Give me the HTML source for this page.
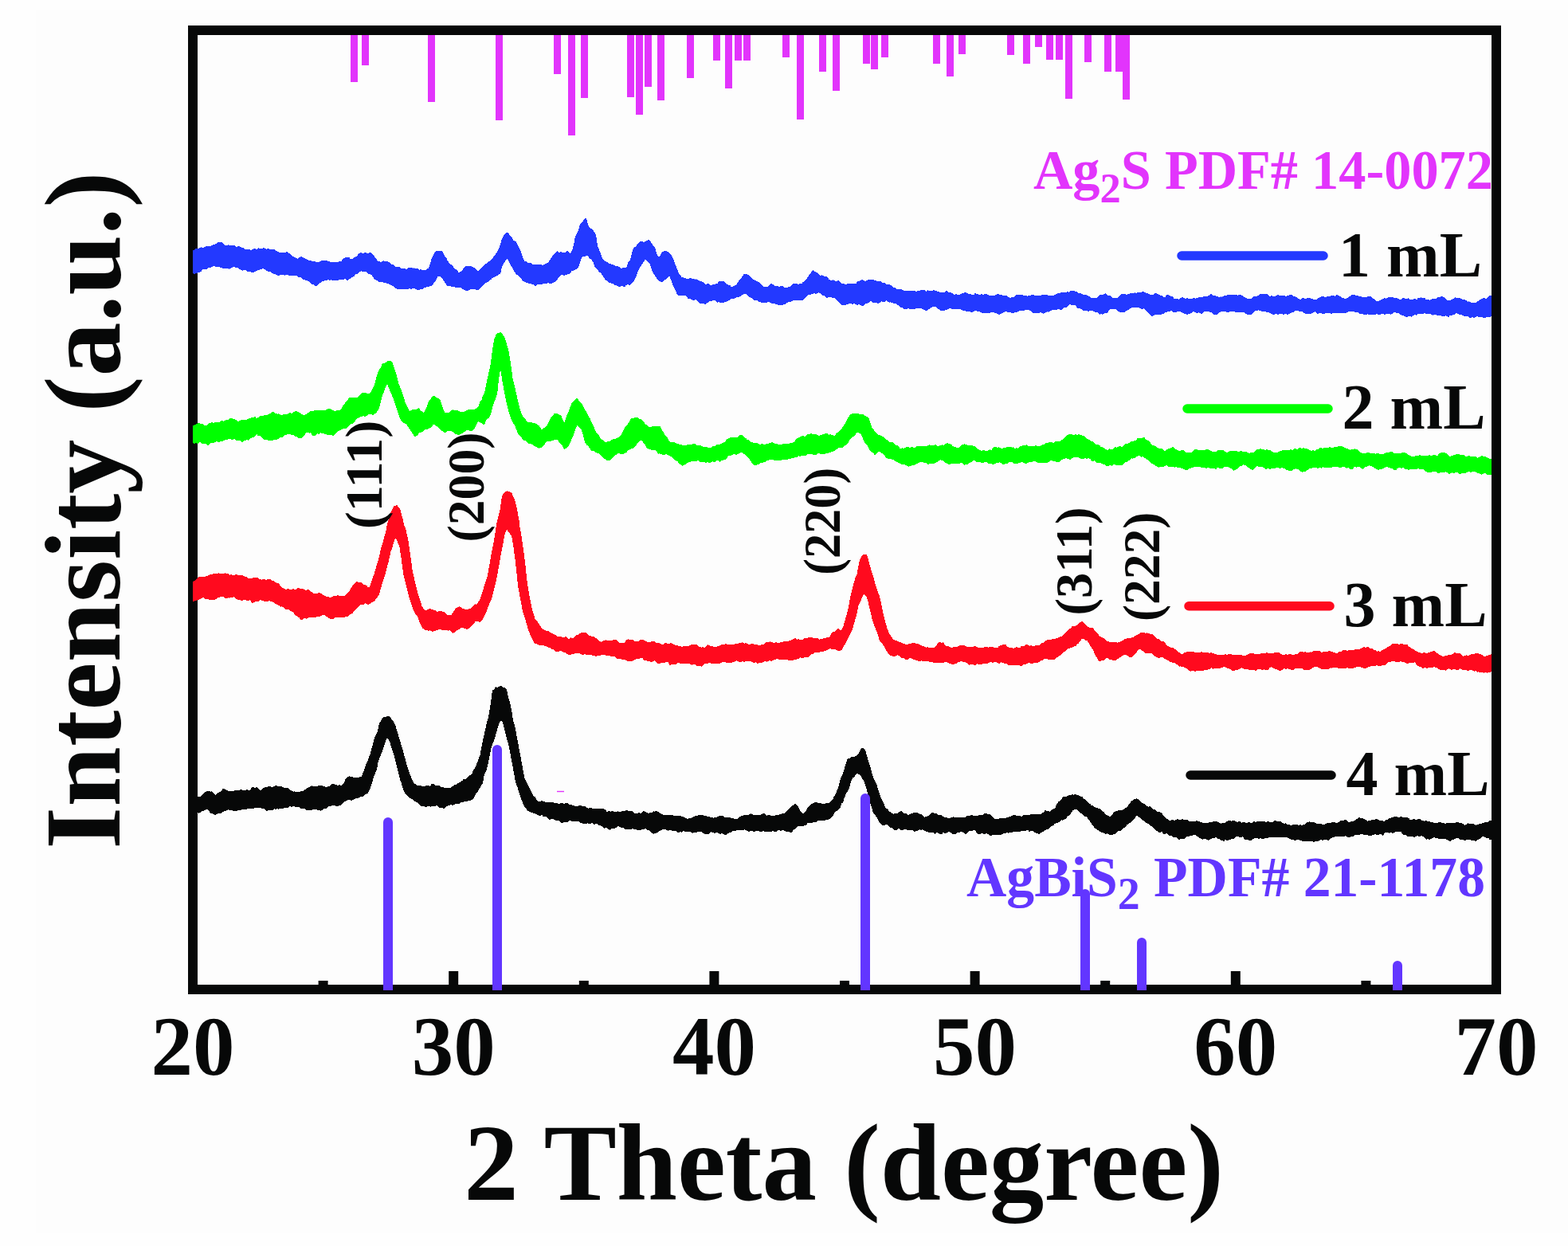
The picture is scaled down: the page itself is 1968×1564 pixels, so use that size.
<!DOCTYPE html><html><head><meta charset="utf-8"><title>XRD</title><style>html,body{margin:0;padding:0;background:#fefefe;}svg{display:block;}</style></head><body>
<svg width="1968" height="1564" viewBox="0 0 1968 1564">
<rect x="0" y="0" width="1968" height="1564" fill="#fefefe"/>
<rect x="45" y="12" width="1923" height="1536" fill="#fdfdfd"/>
<defs><clipPath id="pa"><rect x="242" y="44" width="1630" height="1192"/></clipPath></defs>
<rect x="242" y="38" width="1636" height="1204" fill="none" stroke="#070808" stroke-width="12"/>
<g clip-path="url(#pa)" shape-rendering="crispEdges">
<path fill="#2339ff" d="M242.0,314.9 L244.0,313.2 L246.0,312.0 L248.0,312.2 L250.0,311.5 L252.0,310.4 L254.0,310.8 L256.0,310.7 L258.0,309.3 L260.0,308.6 L262.0,308.8 L264.0,308.9 L266.0,307.7 L268.0,307.3 L270.0,306.5 L272.0,305.6 L274.0,303.7 L276.0,304.6 L278.0,304.0 L280.0,305.8 L282.0,307.2 L284.0,308.7 L286.0,307.3 L288.0,308.1 L290.0,308.2 L292.0,308.4 L294.0,307.7 L296.0,309.5 L298.0,309.5 L300.0,309.1 L302.0,310.1 L304.0,310.8 L306.0,311.4 L308.0,313.0 L310.0,313.3 L312.0,312.7 L314.0,313.6 L316.0,313.9 L318.0,312.2 L320.0,312.3 L322.0,313.0 L324.0,311.4 L326.0,311.6 L328.0,312.2 L330.0,311.3 L332.0,311.4 L334.0,312.8 L336.0,311.8 L338.0,312.3 L340.0,313.7 L342.0,312.5 L344.0,313.0 L346.0,314.3 L348.0,315.3 L350.0,316.5 L352.0,316.8 L354.0,317.0 L356.0,317.3 L358.0,317.4 L360.0,316.2 L362.0,317.4 L364.0,318.2 L366.0,320.3 L368.0,322.1 L370.0,323.1 L372.0,324.0 L374.0,324.9 L376.0,322.9 L378.0,321.8 L380.0,322.8 L382.0,324.4 L384.0,324.6 L386.0,326.1 L388.0,326.8 L390.0,327.2 L392.0,328.0 L394.0,327.7 L396.0,328.3 L398.0,329.4 L400.0,329.3 L402.0,327.8 L404.0,327.1 L406.0,327.2 L408.0,326.4 L410.0,327.2 L412.0,327.8 L414.0,328.6 L416.0,329.1 L418.0,329.2 L420.0,329.1 L422.0,328.6 L424.0,329.1 L426.0,327.6 L428.0,328.1 L430.0,325.8 L432.0,324.0 L434.0,323.1 L436.0,323.1 L438.0,322.7 L440.0,325.4 L442.0,325.1 L444.0,323.4 L446.0,322.8 L448.0,321.6 L450.0,318.3 L452.0,317.3 L454.0,317.4 L456.0,317.9 L458.0,317.1 L460.0,317.6 L462.0,318.1 L464.0,317.1 L466.0,317.3 L468.0,319.3 L470.0,322.2 L472.0,324.4 L474.0,327.4 L476.0,327.9 L478.0,329.2 L480.0,327.7 L482.0,327.4 L484.0,328.3 L486.0,327.8 L488.0,329.3 L490.0,330.1 L492.0,332.2 L494.0,332.1 L496.0,334.9 L498.0,334.6 L500.0,334.9 L502.0,335.5 L504.0,337.3 L506.0,336.9 L508.0,336.7 L510.0,337.9 L512.0,336.5 L514.0,336.4 L516.0,336.2 L518.0,336.6 L520.0,336.3 L522.0,337.5 L524.0,336.8 L526.0,338.8 L528.0,338.2 L530.0,339.0 L532.0,339.0 L534.0,339.0 L536.0,337.5 L538.0,336.8 L540.0,330.6 L542.0,323.8 L544.0,320.3 L546.0,316.4 L548.0,314.7 L550.0,315.0 L552.0,314.6 L554.0,314.8 L556.0,316.9 L558.0,321.6 L560.0,323.3 L562.0,327.7 L564.0,330.7 L566.0,331.8 L568.0,333.7 L570.0,336.3 L572.0,338.0 L574.0,339.4 L576.0,342.5 L578.0,341.0 L580.0,339.3 L582.0,336.7 L584.0,334.7 L586.0,333.8 L588.0,333.6 L590.0,333.8 L592.0,334.5 L594.0,335.7 L596.0,336.1 L598.0,338.7 L600.0,340.0 L602.0,338.5 L604.0,336.3 L606.0,335.1 L608.0,332.7 L610.0,330.9 L612.0,329.8 L614.0,327.8 L616.0,326.8 L618.0,325.0 L620.0,321.4 L622.0,319.1 L624.0,316.4 L626.0,311.7 L628.0,307.0 L630.0,299.3 L632.0,296.3 L634.0,293.1 L636.0,291.5 L638.0,292.5 L640.0,295.2 L642.0,297.2 L644.0,301.6 L646.0,302.7 L648.0,303.6 L650.0,307.9 L652.0,311.7 L654.0,316.3 L656.0,322.6 L658.0,327.4 L660.0,328.1 L662.0,329.4 L664.0,329.9 L666.0,329.5 L668.0,331.2 L670.0,332.7 L672.0,331.9 L674.0,332.3 L676.0,332.4 L678.0,331.7 L680.0,332.6 L682.0,332.5 L684.0,331.7 L686.0,330.5 L688.0,330.0 L690.0,326.6 L692.0,323.5 L694.0,320.8 L696.0,318.5 L698.0,316.7 L700.0,315.1 L702.0,317.1 L704.0,315.8 L706.0,317.0 L708.0,316.8 L710.0,316.6 L712.0,314.3 L714.0,317.2 L716.0,318.2 L718.0,314.4 L720.0,307.4 L722.0,296.5 L724.0,293.6 L726.0,288.7 L728.0,281.2 L730.0,279.0 L732.0,277.1 L734.0,274.3 L736.0,274.4 L738.0,281.7 L740.0,286.4 L742.0,286.7 L744.0,288.9 L746.0,291.3 L748.0,294.4 L750.0,308.1 L752.0,317.3 L754.0,321.4 L756.0,324.5 L758.0,326.8 L760.0,328.3 L762.0,329.0 L764.0,330.7 L766.0,330.7 L768.0,332.2 L770.0,332.2 L772.0,333.9 L774.0,334.2 L776.0,334.4 L778.0,335.5 L780.0,336.9 L782.0,336.0 L784.0,336.0 L786.0,336.3 L788.0,331.8 L790.0,329.5 L792.0,321.8 L794.0,313.6 L796.0,310.5 L798.0,309.9 L800.0,306.7 L802.0,304.7 L804.0,302.7 L806.0,303.0 L808.0,303.7 L810.0,303.0 L812.0,302.0 L814.0,300.6 L816.0,302.8 L818.0,305.2 L820.0,308.4 L822.0,310.8 L824.0,317.2 L826.0,325.2 L828.0,321.5 L830.0,317.9 L832.0,315.8 L834.0,315.2 L836.0,314.6 L838.0,316.1 L840.0,317.2 L842.0,319.3 L844.0,322.9 L846.0,327.1 L848.0,333.7 L850.0,340.4 L852.0,343.4 L854.0,345.5 L856.0,348.4 L858.0,348.4 L860.0,348.9 L862.0,349.9 L864.0,350.5 L866.0,349.0 L868.0,349.5 L870.0,349.5 L872.0,350.7 L874.0,350.4 L876.0,351.6 L878.0,352.6 L880.0,353.3 L882.0,353.7 L884.0,355.9 L886.0,357.0 L888.0,356.1 L890.0,356.4 L892.0,358.1 L894.0,357.4 L896.0,357.0 L898.0,356.6 L900.0,356.2 L902.0,353.5 L904.0,352.6 L906.0,353.4 L908.0,353.2 L910.0,353.9 L912.0,356.4 L914.0,357.8 L916.0,357.7 L918.0,360.2 L920.0,359.7 L922.0,358.6 L924.0,357.5 L926.0,354.3 L928.0,351.2 L930.0,349.3 L932.0,346.2 L934.0,343.8 L936.0,343.8 L938.0,344.5 L940.0,345.1 L942.0,347.5 L944.0,349.6 L946.0,350.9 L948.0,351.8 L950.0,353.2 L952.0,354.1 L954.0,355.4 L956.0,358.1 L958.0,359.7 L960.0,360.7 L962.0,359.8 L964.0,359.9 L966.0,357.3 L968.0,356.0 L970.0,356.8 L972.0,358.7 L974.0,358.5 L976.0,358.9 L978.0,359.9 L980.0,358.9 L982.0,358.9 L984.0,360.4 L986.0,361.5 L988.0,360.9 L990.0,360.3 L992.0,359.5 L994.0,357.4 L996.0,356.0 L998.0,356.4 L1000.0,356.1 L1002.0,356.7 L1004.0,356.4 L1006.0,356.2 L1008.0,353.8 L1010.0,353.2 L1012.0,350.4 L1014.0,347.5 L1016.0,344.5 L1018.0,342.1 L1020.0,338.9 L1022.0,340.4 L1024.0,341.4 L1026.0,342.6 L1028.0,345.1 L1030.0,345.7 L1032.0,345.4 L1034.0,346.5 L1036.0,347.5 L1038.0,347.3 L1040.0,350.2 L1042.0,351.8 L1044.0,351.6 L1046.0,351.4 L1048.0,352.7 L1050.0,352.8 L1052.0,351.7 L1054.0,354.0 L1056.0,355.6 L1058.0,356.5 L1060.0,356.3 L1062.0,357.7 L1064.0,355.6 L1066.0,356.8 L1068.0,355.3 L1070.0,356.5 L1072.0,356.0 L1074.0,356.6 L1076.0,353.2 L1078.0,352.8 L1080.0,352.1 L1082.0,351.3 L1084.0,351.7 L1086.0,352.9 L1088.0,352.1 L1090.0,350.7 L1092.0,351.4 L1094.0,351.2 L1096.0,351.1 L1098.0,351.9 L1100.0,352.6 L1102.0,352.8 L1104.0,352.5 L1106.0,353.4 L1108.0,355.3 L1110.0,355.0 L1112.0,356.4 L1114.0,357.4 L1116.0,357.3 L1118.0,357.9 L1120.0,359.3 L1122.0,361.0 L1124.0,361.5 L1126.0,363.1 L1128.0,362.9 L1130.0,363.4 L1132.0,363.3 L1134.0,364.4 L1136.0,365.1 L1138.0,365.4 L1140.0,365.3 L1142.0,364.9 L1144.0,365.2 L1146.0,365.6 L1148.0,365.1 L1150.0,366.0 L1152.0,364.9 L1154.0,365.5 L1156.0,364.1 L1158.0,363.6 L1160.0,363.7 L1162.0,365.9 L1164.0,364.4 L1166.0,364.6 L1168.0,365.5 L1170.0,364.8 L1172.0,364.3 L1174.0,365.0 L1176.0,365.3 L1178.0,366.4 L1180.0,366.8 L1182.0,366.9 L1184.0,366.9 L1186.0,366.6 L1188.0,364.9 L1190.0,367.0 L1192.0,366.5 L1194.0,367.5 L1196.0,368.5 L1198.0,370.0 L1200.0,368.8 L1202.0,370.6 L1204.0,369.9 L1206.0,368.9 L1208.0,368.3 L1210.0,367.4 L1212.0,366.8 L1214.0,368.3 L1216.0,369.0 L1218.0,368.9 L1220.0,369.8 L1222.0,370.5 L1224.0,367.8 L1226.0,369.0 L1228.0,369.3 L1230.0,370.4 L1232.0,368.6 L1234.0,370.6 L1236.0,369.1 L1238.0,369.3 L1240.0,369.6 L1242.0,371.1 L1244.0,371.1 L1246.0,371.6 L1248.0,371.0 L1250.0,369.8 L1252.0,369.2 L1254.0,369.5 L1256.0,370.0 L1258.0,370.6 L1260.0,370.8 L1262.0,370.8 L1264.0,371.7 L1266.0,373.2 L1268.0,373.9 L1270.0,373.3 L1272.0,373.3 L1274.0,371.9 L1276.0,369.9 L1278.0,369.9 L1280.0,369.7 L1282.0,370.2 L1284.0,370.5 L1286.0,371.3 L1288.0,371.3 L1290.0,371.6 L1292.0,370.5 L1294.0,370.5 L1296.0,370.0 L1298.0,370.4 L1300.0,371.1 L1302.0,370.9 L1304.0,371.2 L1306.0,370.7 L1308.0,370.1 L1310.0,370.0 L1312.0,369.6 L1314.0,369.7 L1316.0,370.9 L1318.0,371.1 L1320.0,370.5 L1322.0,371.3 L1324.0,369.9 L1326.0,369.1 L1328.0,368.3 L1330.0,368.1 L1332.0,367.0 L1334.0,367.4 L1336.0,367.1 L1338.0,366.9 L1340.0,366.0 L1342.0,366.8 L1344.0,364.8 L1346.0,364.5 L1348.0,364.7 L1350.0,365.9 L1352.0,366.5 L1354.0,367.9 L1356.0,368.0 L1358.0,369.0 L1360.0,369.8 L1362.0,370.3 L1364.0,370.3 L1366.0,371.6 L1368.0,372.7 L1370.0,373.8 L1372.0,374.0 L1374.0,373.9 L1376.0,374.2 L1378.0,373.1 L1380.0,370.4 L1382.0,370.5 L1384.0,370.4 L1386.0,368.7 L1388.0,368.3 L1390.0,371.0 L1392.0,370.4 L1394.0,371.6 L1396.0,373.8 L1398.0,375.4 L1400.0,374.3 L1402.0,374.4 L1404.0,372.9 L1406.0,370.5 L1408.0,369.1 L1410.0,369.0 L1412.0,368.7 L1414.0,369.8 L1416.0,369.2 L1418.0,368.4 L1420.0,368.1 L1422.0,367.9 L1424.0,367.4 L1426.0,367.8 L1428.0,367.0 L1430.0,367.3 L1432.0,366.9 L1434.0,365.7 L1436.0,366.6 L1438.0,367.6 L1440.0,368.4 L1442.0,368.7 L1444.0,370.4 L1446.0,370.1 L1448.0,369.6 L1450.0,367.7 L1452.0,368.7 L1454.0,369.7 L1456.0,370.5 L1458.0,370.7 L1460.0,372.4 L1462.0,373.3 L1464.0,370.6 L1466.0,370.2 L1468.0,371.1 L1470.0,371.7 L1472.0,372.4 L1474.0,375.4 L1476.0,375.7 L1478.0,375.6 L1480.0,375.7 L1482.0,374.1 L1484.0,373.2 L1486.0,373.7 L1488.0,375.0 L1490.0,374.3 L1492.0,374.7 L1494.0,374.9 L1496.0,375.2 L1498.0,373.6 L1500.0,374.7 L1502.0,374.0 L1504.0,373.6 L1506.0,372.4 L1508.0,372.9 L1510.0,372.5 L1512.0,372.1 L1514.0,371.5 L1516.0,371.8 L1518.0,370.6 L1520.0,368.7 L1522.0,370.5 L1524.0,371.4 L1526.0,371.5 L1528.0,371.5 L1530.0,373.4 L1532.0,372.3 L1534.0,372.7 L1536.0,371.6 L1538.0,371.2 L1540.0,370.6 L1542.0,370.1 L1544.0,369.7 L1546.0,370.5 L1548.0,370.4 L1550.0,370.2 L1552.0,370.4 L1554.0,370.6 L1556.0,370.0 L1558.0,370.4 L1560.0,371.3 L1562.0,373.2 L1564.0,374.1 L1566.0,374.7 L1568.0,375.2 L1570.0,375.5 L1572.0,373.8 L1574.0,371.6 L1576.0,371.7 L1578.0,371.9 L1580.0,370.2 L1582.0,369.1 L1584.0,368.8 L1586.0,369.3 L1588.0,368.4 L1590.0,369.0 L1592.0,370.4 L1594.0,371.9 L1596.0,371.2 L1598.0,372.2 L1600.0,371.7 L1602.0,371.3 L1604.0,370.2 L1606.0,371.3 L1608.0,370.9 L1610.0,371.1 L1612.0,371.1 L1614.0,371.7 L1616.0,371.4 L1618.0,370.3 L1620.0,370.1 L1622.0,370.1 L1624.0,372.2 L1626.0,372.4 L1628.0,373.6 L1630.0,374.9 L1632.0,376.7 L1634.0,374.7 L1636.0,373.8 L1638.0,374.8 L1640.0,374.7 L1642.0,373.7 L1644.0,373.5 L1646.0,375.2 L1648.0,375.6 L1650.0,375.7 L1652.0,375.8 L1654.0,374.7 L1656.0,373.8 L1658.0,372.4 L1660.0,372.3 L1662.0,372.3 L1664.0,373.6 L1666.0,371.9 L1668.0,372.4 L1670.0,371.6 L1672.0,370.9 L1674.0,370.7 L1676.0,371.8 L1678.0,369.8 L1680.0,371.3 L1682.0,371.8 L1684.0,373.1 L1686.0,374.9 L1688.0,376.7 L1690.0,374.5 L1692.0,373.7 L1694.0,372.0 L1696.0,370.2 L1698.0,370.3 L1700.0,370.2 L1702.0,371.2 L1704.0,371.0 L1706.0,371.7 L1708.0,371.6 L1710.0,372.9 L1712.0,372.6 L1714.0,373.4 L1716.0,372.7 L1718.0,371.5 L1720.0,371.7 L1722.0,373.1 L1724.0,375.0 L1726.0,376.4 L1728.0,378.2 L1730.0,377.7 L1732.0,377.4 L1734.0,375.9 L1736.0,374.9 L1738.0,374.2 L1740.0,374.7 L1742.0,373.3 L1744.0,373.3 L1746.0,372.6 L1748.0,372.5 L1750.0,374.1 L1752.0,374.4 L1754.0,374.3 L1756.0,375.5 L1758.0,376.4 L1760.0,373.9 L1762.0,373.9 L1764.0,374.8 L1766.0,374.7 L1768.0,374.4 L1770.0,376.4 L1772.0,376.1 L1774.0,375.6 L1776.0,375.1 L1778.0,376.2 L1780.0,373.7 L1782.0,373.7 L1784.0,373.4 L1786.0,374.3 L1788.0,373.7 L1790.0,376.3 L1792.0,375.7 L1794.0,376.7 L1796.0,376.1 L1798.0,375.2 L1800.0,374.7 L1802.0,375.2 L1804.0,373.2 L1806.0,373.2 L1808.0,372.7 L1810.0,371.9 L1812.0,372.9 L1814.0,374.8 L1816.0,376.4 L1818.0,377.4 L1820.0,376.9 L1822.0,376.1 L1824.0,375.3 L1826.0,373.3 L1828.0,373.9 L1830.0,374.7 L1832.0,373.9 L1834.0,375.2 L1836.0,376.1 L1838.0,376.1 L1840.0,376.8 L1842.0,378.8 L1844.0,378.4 L1846.0,379.5 L1848.0,379.7 L1850.0,380.0 L1852.0,379.9 L1854.0,378.9 L1856.0,377.3 L1858.0,376.1 L1860.0,375.3 L1862.0,373.3 L1864.0,374.9 L1866.0,374.4 L1868.0,373.0 L1870.0,370.9 L1872.0,371.0 L1874.0,369.0 L1876.0,367.7 L1878.0,368.0 L1878.0,398.9 L1876.0,398.5 L1874.0,398.8 L1872.0,396.9 L1870.0,397.9 L1868.0,398.2 L1866.0,398.3 L1864.0,398.7 L1862.0,399.1 L1860.0,397.6 L1858.0,397.6 L1856.0,397.7 L1854.0,397.2 L1852.0,398.1 L1850.0,398.7 L1848.0,398.2 L1846.0,398.9 L1844.0,398.7 L1842.0,396.9 L1840.0,397.0 L1838.0,396.9 L1836.0,396.0 L1834.0,395.1 L1832.0,395.0 L1830.0,394.2 L1828.0,393.2 L1826.0,394.4 L1824.0,395.3 L1822.0,395.7 L1820.0,395.9 L1818.0,398.1 L1816.0,397.0 L1814.0,396.3 L1812.0,397.4 L1810.0,397.4 L1808.0,395.8 L1806.0,396.5 L1804.0,396.1 L1802.0,395.2 L1800.0,395.2 L1798.0,395.8 L1796.0,394.1 L1794.0,394.5 L1792.0,394.2 L1790.0,394.0 L1788.0,392.8 L1786.0,393.8 L1784.0,394.0 L1782.0,393.5 L1780.0,393.9 L1778.0,395.6 L1776.0,395.4 L1774.0,395.7 L1772.0,397.7 L1770.0,397.3 L1768.0,397.2 L1766.0,398.2 L1764.0,397.9 L1762.0,396.1 L1760.0,396.5 L1758.0,395.1 L1756.0,393.1 L1754.0,392.8 L1752.0,392.6 L1750.0,391.9 L1748.0,393.2 L1746.0,394.8 L1744.0,394.4 L1742.0,394.0 L1740.0,394.0 L1738.0,394.9 L1736.0,393.9 L1734.0,394.1 L1732.0,394.9 L1730.0,394.8 L1728.0,394.1 L1726.0,395.3 L1724.0,395.3 L1722.0,394.6 L1720.0,394.7 L1718.0,395.1 L1716.0,394.3 L1714.0,395.3 L1712.0,395.1 L1710.0,394.1 L1708.0,394.0 L1706.0,393.6 L1704.0,391.8 L1702.0,392.5 L1700.0,391.4 L1698.0,390.3 L1696.0,391.0 L1694.0,390.8 L1692.0,391.4 L1690.0,392.4 L1688.0,393.5 L1686.0,392.7 L1684.0,393.6 L1682.0,392.7 L1680.0,393.1 L1678.0,393.0 L1676.0,393.4 L1674.0,392.4 L1672.0,393.6 L1670.0,393.6 L1668.0,392.8 L1666.0,393.3 L1664.0,392.9 L1662.0,393.9 L1660.0,394.4 L1658.0,393.0 L1656.0,392.6 L1654.0,394.2 L1652.0,392.1 L1650.0,391.3 L1648.0,392.9 L1646.0,393.4 L1644.0,394.3 L1642.0,393.4 L1640.0,393.9 L1638.0,393.5 L1636.0,392.5 L1634.0,390.8 L1632.0,391.2 L1630.0,390.3 L1628.0,390.4 L1626.0,390.1 L1624.0,391.3 L1622.0,392.2 L1620.0,393.1 L1618.0,393.9 L1616.0,395.1 L1614.0,393.4 L1612.0,394.6 L1610.0,394.8 L1608.0,393.5 L1606.0,393.6 L1604.0,394.9 L1602.0,394.3 L1600.0,394.2 L1598.0,395.5 L1596.0,393.8 L1594.0,393.2 L1592.0,391.8 L1590.0,392.0 L1588.0,390.6 L1586.0,391.2 L1584.0,390.7 L1582.0,390.4 L1580.0,389.4 L1578.0,389.6 L1576.0,389.9 L1574.0,391.2 L1572.0,393.6 L1570.0,394.9 L1568.0,395.0 L1566.0,395.2 L1564.0,394.1 L1562.0,392.0 L1560.0,391.8 L1558.0,392.4 L1556.0,392.0 L1554.0,392.3 L1552.0,392.4 L1550.0,391.3 L1548.0,390.8 L1546.0,391.4 L1544.0,391.2 L1542.0,392.3 L1540.0,392.1 L1538.0,390.9 L1536.0,390.7 L1534.0,390.9 L1532.0,391.6 L1530.0,392.4 L1528.0,394.5 L1526.0,394.5 L1524.0,395.3 L1522.0,393.3 L1520.0,392.2 L1518.0,391.5 L1516.0,391.2 L1514.0,391.0 L1512.0,390.8 L1510.0,392.8 L1508.0,394.5 L1506.0,392.8 L1504.0,392.2 L1502.0,393.9 L1500.0,391.9 L1498.0,391.1 L1496.0,392.7 L1494.0,393.7 L1492.0,393.9 L1490.0,395.5 L1488.0,394.0 L1486.0,393.7 L1484.0,392.3 L1482.0,391.6 L1480.0,391.2 L1478.0,391.3 L1476.0,391.8 L1474.0,391.9 L1472.0,391.4 L1470.0,390.2 L1468.0,390.7 L1466.0,390.5 L1464.0,391.9 L1462.0,392.4 L1460.0,393.9 L1458.0,394.7 L1456.0,395.0 L1454.0,395.1 L1452.0,394.5 L1450.0,394.7 L1448.0,395.9 L1446.0,397.1 L1444.0,395.1 L1442.0,393.8 L1440.0,391.9 L1438.0,389.5 L1436.0,387.1 L1434.0,388.0 L1432.0,387.8 L1430.0,386.5 L1428.0,385.5 L1426.0,385.6 L1424.0,385.5 L1422.0,385.6 L1420.0,386.4 L1418.0,387.8 L1416.0,389.0 L1414.0,389.7 L1412.0,391.6 L1410.0,392.4 L1408.0,392.0 L1406.0,391.7 L1404.0,391.4 L1402.0,389.2 L1400.0,387.8 L1398.0,387.8 L1396.0,387.7 L1394.0,387.6 L1392.0,389.7 L1390.0,392.3 L1388.0,393.3 L1386.0,393.5 L1384.0,394.8 L1382.0,394.2 L1380.0,395.0 L1378.0,392.4 L1376.0,392.5 L1374.0,391.7 L1372.0,390.5 L1370.0,388.4 L1368.0,390.1 L1366.0,390.8 L1364.0,390.4 L1362.0,389.7 L1360.0,390.7 L1358.0,388.0 L1356.0,387.6 L1354.0,386.8 L1352.0,386.7 L1350.0,383.0 L1348.0,383.4 L1346.0,382.8 L1344.0,382.6 L1342.0,382.2 L1340.0,384.6 L1338.0,386.0 L1336.0,385.8 L1334.0,387.0 L1332.0,389.1 L1330.0,388.6 L1328.0,387.9 L1326.0,389.1 L1324.0,389.5 L1322.0,388.9 L1320.0,389.3 L1318.0,390.6 L1316.0,391.7 L1314.0,391.4 L1312.0,392.2 L1310.0,393.6 L1308.0,393.4 L1306.0,391.4 L1304.0,393.0 L1302.0,393.4 L1300.0,393.0 L1298.0,392.5 L1296.0,392.6 L1294.0,390.1 L1292.0,389.6 L1290.0,388.7 L1288.0,389.0 L1286.0,389.5 L1284.0,390.6 L1282.0,390.0 L1280.0,390.2 L1278.0,391.2 L1276.0,391.8 L1274.0,392.2 L1272.0,393.1 L1270.0,393.4 L1268.0,392.1 L1266.0,392.6 L1264.0,391.3 L1262.0,391.3 L1260.0,392.1 L1258.0,393.3 L1256.0,394.1 L1254.0,395.2 L1252.0,393.8 L1250.0,392.8 L1248.0,392.5 L1246.0,391.9 L1244.0,392.4 L1242.0,392.6 L1240.0,393.0 L1238.0,393.2 L1236.0,393.1 L1234.0,392.4 L1232.0,392.9 L1230.0,391.1 L1228.0,391.1 L1226.0,390.5 L1224.0,390.0 L1222.0,391.3 L1220.0,391.7 L1218.0,391.7 L1216.0,390.9 L1214.0,391.4 L1212.0,390.4 L1210.0,390.5 L1208.0,389.7 L1206.0,388.2 L1204.0,388.3 L1202.0,387.8 L1200.0,387.6 L1198.0,387.5 L1196.0,388.6 L1194.0,387.4 L1192.0,387.2 L1190.0,388.2 L1188.0,389.1 L1186.0,389.4 L1184.0,390.3 L1182.0,389.7 L1180.0,390.0 L1178.0,387.9 L1176.0,386.7 L1174.0,384.8 L1172.0,385.4 L1170.0,385.3 L1168.0,386.9 L1166.0,387.8 L1164.0,389.7 L1162.0,389.9 L1160.0,389.2 L1158.0,388.1 L1156.0,387.3 L1154.0,386.5 L1152.0,386.9 L1150.0,387.1 L1148.0,387.9 L1146.0,388.2 L1144.0,387.8 L1142.0,387.9 L1140.0,386.7 L1138.0,388.1 L1136.0,388.0 L1134.0,387.6 L1132.0,385.7 L1130.0,386.0 L1128.0,383.6 L1126.0,382.4 L1124.0,381.2 L1122.0,381.5 L1120.0,379.9 L1118.0,379.4 L1116.0,379.6 L1114.0,378.4 L1112.0,377.2 L1110.0,379.4 L1108.0,378.6 L1106.0,378.4 L1104.0,380.3 L1102.0,381.1 L1100.0,379.4 L1098.0,380.1 L1096.0,380.3 L1094.0,378.2 L1092.0,378.6 L1090.0,380.1 L1088.0,381.0 L1086.0,381.6 L1084.0,383.6 L1082.0,384.4 L1080.0,383.0 L1078.0,382.2 L1076.0,382.7 L1074.0,382.0 L1072.0,381.2 L1070.0,381.7 L1068.0,381.0 L1066.0,380.8 L1064.0,381.9 L1062.0,382.5 L1060.0,382.8 L1058.0,383.5 L1056.0,382.5 L1054.0,380.8 L1052.0,378.8 L1050.0,376.5 L1048.0,374.5 L1046.0,373.9 L1044.0,373.7 L1042.0,372.8 L1040.0,373.2 L1038.0,374.1 L1036.0,372.3 L1034.0,370.8 L1032.0,370.8 L1030.0,368.8 L1028.0,367.1 L1026.0,368.2 L1024.0,368.8 L1022.0,368.4 L1020.0,368.8 L1018.0,369.5 L1016.0,369.6 L1014.0,370.5 L1012.0,372.7 L1010.0,374.4 L1008.0,376.3 L1006.0,377.2 L1004.0,377.5 L1002.0,377.4 L1000.0,376.6 L998.0,376.8 L996.0,376.6 L994.0,378.4 L992.0,378.7 L990.0,379.0 L988.0,379.9 L986.0,381.7 L984.0,382.0 L982.0,382.8 L980.0,382.8 L978.0,382.6 L976.0,382.5 L974.0,382.1 L972.0,381.3 L970.0,381.3 L968.0,380.8 L966.0,379.3 L964.0,379.3 L962.0,379.8 L960.0,380.5 L958.0,379.5 L956.0,379.8 L954.0,379.4 L952.0,378.6 L950.0,376.6 L948.0,377.5 L946.0,376.4 L944.0,374.4 L942.0,373.3 L940.0,372.6 L938.0,370.1 L936.0,369.1 L934.0,369.0 L932.0,369.7 L930.0,371.4 L928.0,372.6 L926.0,373.1 L924.0,373.5 L922.0,374.1 L920.0,374.2 L918.0,375.0 L916.0,376.3 L914.0,377.7 L912.0,378.6 L910.0,378.8 L908.0,379.9 L906.0,379.7 L904.0,379.7 L902.0,379.2 L900.0,379.8 L898.0,377.5 L896.0,377.1 L894.0,377.5 L892.0,378.4 L890.0,378.4 L888.0,380.0 L886.0,381.7 L884.0,381.5 L882.0,380.9 L880.0,380.6 L878.0,380.5 L876.0,378.0 L874.0,376.1 L872.0,376.5 L870.0,377.0 L868.0,375.8 L866.0,375.0 L864.0,375.2 L862.0,372.7 L860.0,370.9 L858.0,371.1 L856.0,371.3 L854.0,371.0 L852.0,371.0 L850.0,370.2 L848.0,364.9 L846.0,361.4 L844.0,356.1 L842.0,349.0 L840.0,346.9 L838.0,348.8 L836.0,350.4 L834.0,351.0 L832.0,353.3 L830.0,354.5 L828.0,353.1 L826.0,351.8 L824.0,349.0 L822.0,346.0 L820.0,343.6 L818.0,338.9 L816.0,332.3 L814.0,328.9 L812.0,328.0 L810.0,325.7 L808.0,328.7 L806.0,331.5 L804.0,334.5 L802.0,337.8 L800.0,342.7 L798.0,348.5 L796.0,352.3 L794.0,354.0 L792.0,356.7 L790.0,358.2 L788.0,356.9 L786.0,357.8 L784.0,360.3 L782.0,359.5 L780.0,358.6 L778.0,360.4 L776.0,359.8 L774.0,358.2 L772.0,358.0 L770.0,356.4 L768.0,356.0 L766.0,354.8 L764.0,354.5 L762.0,352.3 L760.0,351.4 L758.0,348.2 L756.0,345.7 L754.0,342.5 L752.0,342.1 L750.0,338.1 L748.0,335.6 L746.0,331.8 L744.0,328.5 L742.0,325.1 L740.0,324.8 L738.0,321.5 L736.0,320.7 L734.0,322.2 L732.0,321.5 L730.0,323.6 L728.0,329.1 L726.0,336.0 L724.0,337.8 L722.0,338.5 L720.0,339.5 L718.0,339.7 L716.0,342.5 L714.0,343.9 L712.0,344.7 L710.0,344.9 L708.0,345.8 L706.0,345.0 L704.0,345.3 L702.0,347.0 L700.0,350.3 L698.0,352.6 L696.0,354.2 L694.0,354.9 L692.0,356.5 L690.0,356.2 L688.0,355.1 L686.0,355.8 L684.0,356.6 L682.0,355.6 L680.0,357.4 L678.0,357.5 L676.0,357.4 L674.0,357.4 L672.0,359.0 L670.0,357.1 L668.0,357.0 L666.0,355.6 L664.0,355.9 L662.0,354.9 L660.0,354.5 L658.0,353.2 L656.0,352.3 L654.0,349.2 L652.0,347.8 L650.0,345.5 L648.0,344.7 L646.0,341.3 L644.0,338.3 L642.0,334.5 L640.0,331.2 L638.0,326.4 L636.0,324.8 L634.0,328.0 L632.0,330.2 L630.0,335.0 L628.0,344.3 L626.0,344.3 L624.0,346.0 L622.0,346.8 L620.0,348.1 L618.0,348.8 L616.0,351.2 L614.0,352.4 L612.0,354.1 L610.0,354.7 L608.0,356.4 L606.0,358.7 L604.0,359.9 L602.0,362.7 L600.0,363.8 L598.0,363.8 L596.0,363.3 L594.0,362.9 L592.0,362.5 L590.0,363.4 L588.0,364.7 L586.0,364.7 L584.0,364.6 L582.0,363.4 L580.0,362.7 L578.0,361.0 L576.0,361.5 L574.0,361.3 L572.0,360.7 L570.0,360.2 L568.0,360.5 L566.0,359.4 L564.0,359.3 L562.0,359.3 L560.0,357.3 L558.0,353.6 L556.0,351.2 L554.0,348.2 L552.0,346.5 L550.0,346.5 L548.0,349.8 L546.0,353.5 L544.0,356.1 L542.0,358.5 L540.0,358.5 L538.0,360.2 L536.0,359.8 L534.0,361.3 L532.0,361.4 L530.0,363.0 L528.0,363.0 L526.0,363.7 L524.0,363.8 L522.0,363.0 L520.0,361.9 L518.0,362.3 L516.0,362.8 L514.0,361.9 L512.0,362.8 L510.0,363.4 L508.0,363.5 L506.0,362.4 L504.0,363.2 L502.0,363.0 L500.0,363.5 L498.0,362.5 L496.0,361.6 L494.0,359.8 L492.0,358.6 L490.0,357.9 L488.0,356.3 L486.0,355.6 L484.0,355.3 L482.0,355.0 L480.0,353.9 L478.0,354.1 L476.0,354.1 L474.0,352.8 L472.0,351.3 L470.0,350.4 L468.0,347.7 L466.0,344.7 L464.0,344.2 L462.0,343.6 L460.0,341.6 L458.0,340.7 L456.0,341.7 L454.0,340.2 L452.0,340.8 L450.0,342.8 L448.0,344.1 L446.0,344.3 L444.0,347.3 L442.0,347.9 L440.0,349.2 L438.0,350.6 L436.0,352.0 L434.0,350.4 L432.0,350.5 L430.0,351.3 L428.0,351.3 L426.0,351.0 L424.0,352.4 L422.0,352.0 L420.0,351.6 L418.0,352.2 L416.0,351.4 L414.0,351.7 L412.0,351.0 L410.0,352.0 L408.0,352.0 L406.0,353.0 L404.0,353.6 L402.0,355.2 L400.0,356.3 L398.0,358.7 L396.0,359.0 L394.0,357.5 L392.0,357.4 L390.0,355.0 L388.0,353.6 L386.0,352.3 L384.0,351.7 L382.0,351.2 L380.0,350.9 L378.0,348.7 L376.0,347.7 L374.0,347.5 L372.0,345.8 L370.0,345.7 L368.0,345.8 L366.0,346.1 L364.0,346.0 L362.0,345.7 L360.0,344.6 L358.0,345.7 L356.0,345.0 L354.0,344.6 L352.0,344.8 L350.0,346.5 L348.0,345.6 L346.0,344.3 L344.0,344.0 L342.0,343.0 L340.0,341.8 L338.0,340.6 L336.0,340.7 L334.0,339.3 L332.0,338.1 L330.0,337.2 L328.0,338.2 L326.0,338.6 L324.0,339.0 L322.0,340.1 L320.0,341.1 L318.0,342.2 L316.0,341.9 L314.0,341.1 L312.0,341.6 L310.0,340.4 L308.0,339.0 L306.0,338.9 L304.0,339.8 L302.0,338.2 L300.0,337.3 L298.0,335.7 L296.0,336.0 L294.0,334.7 L292.0,335.3 L290.0,336.6 L288.0,337.7 L286.0,337.2 L284.0,336.8 L282.0,336.9 L280.0,336.8 L278.0,336.1 L276.0,335.5 L274.0,335.4 L272.0,335.2 L270.0,334.5 L268.0,334.2 L266.0,335.2 L264.0,336.3 L262.0,335.9 L260.0,337.4 L258.0,338.0 L256.0,338.2 L254.0,338.3 L252.0,341.3 L250.0,341.8 L248.0,342.7 L246.0,343.0 L244.0,344.4 L242.0,342.7 Z"/>
<path fill="none" stroke="#2339ff" stroke-width="12" stroke-linejoin="round" d="M242.0,329.2 L245.0,328.7 L248.0,329.2 L251.0,327.8 L254.0,327.8 L257.0,325.9 L260.0,325.5 L263.0,323.1 L266.0,322.8 L269.0,322.3 L272.0,323.1 L275.0,321.6 L278.0,322.3 L281.0,322.2 L284.0,323.5 L287.0,322.8 L290.0,323.0 L293.0,323.7 L296.0,323.1 L299.0,322.9 L302.0,323.3 L305.0,324.8 L308.0,325.6 L311.0,325.5 L314.0,325.3 L317.0,326.0 L320.0,326.8 L323.0,326.1 L326.0,326.8 L329.0,326.1 L332.0,326.1 L335.0,325.6 L338.0,324.8 L341.0,324.8 L344.0,324.2 L347.0,325.8 L350.0,327.5 L353.0,328.7 L356.0,329.7 L359.0,329.1 L362.0,330.8 L365.0,330.8 L368.0,332.9 L371.0,333.4 L374.0,334.5 L377.0,334.8 L380.0,335.2 L383.0,336.9 L386.0,339.1 L389.0,340.8 L392.0,340.8 L395.0,340.5 L398.0,340.1 L401.0,340.4 L404.0,338.7 L407.0,339.5 L410.0,338.1 L413.0,338.9 L416.0,338.5 L419.0,339.8 L422.0,340.7 L425.0,341.4 L428.0,340.9 L431.0,341.0 L434.0,340.6 L437.0,339.8 L440.0,339.4 L443.0,336.8 L446.0,334.9 L449.0,331.1 L452.0,328.6 L455.0,328.5 L458.0,329.0 L461.0,330.5 L464.0,330.9 L467.0,333.4 L470.0,334.5 L473.0,337.2 L476.0,339.6 L479.0,341.6 L482.0,342.8 L485.0,341.6 L488.0,343.6 L491.0,344.0 L494.0,347.3 L497.0,346.3 L500.0,347.6 L503.0,347.1 L506.0,349.3 L509.0,348.4 L512.0,348.5 L515.0,349.8 L518.0,350.2 L521.0,350.5 L524.0,349.4 L527.0,349.3 L530.0,350.2 L533.0,351.2 L536.0,350.9 L539.0,347.1 L542.0,341.2 L545.0,338.0 L548.0,336.4 L551.0,333.8 L554.0,334.1 L557.0,335.6 L560.0,338.3 L563.0,341.8 L566.0,344.8 L569.0,347.3 L572.0,351.5 L575.0,352.4 L578.0,353.0 L581.0,351.3 L584.0,351.9 L587.0,352.0 L590.0,349.8 L593.0,348.0 L596.0,349.6 L599.0,351.1 L602.0,349.4 L605.0,346.4 L608.0,344.1 L611.0,341.8 L614.0,339.6 L617.0,337.7 L620.0,335.6 L623.0,332.6 L626.0,329.2 L629.0,322.4 L632.0,313.4 L635.0,310.1 L638.0,311.2 L641.0,316.1 L644.0,320.1 L647.0,323.0 L650.0,326.5 L653.0,332.1 L656.0,336.3 L659.0,339.8 L662.0,341.0 L665.0,342.3 L668.0,344.7 L671.0,343.5 L674.0,343.6 L677.0,343.5 L680.0,344.4 L683.0,344.6 L686.0,342.8 L689.0,342.2 L692.0,338.5 L695.0,336.8 L698.0,333.9 L701.0,332.2 L704.0,330.3 L707.0,330.4 L710.0,329.9 L713.0,331.8 L716.0,331.5 L719.0,329.6 L722.0,319.8 L725.0,315.8 L728.0,304.3 L731.0,301.6 L734.0,299.7 L737.0,301.4 L740.0,307.7 L743.0,309.7 L746.0,314.3 L749.0,322.6 L752.0,332.3 L755.0,335.2 L758.0,337.3 L761.0,338.9 L764.0,343.0 L767.0,344.9 L770.0,346.9 L773.0,346.9 L776.0,347.1 L779.0,347.6 L782.0,346.1 L785.0,345.0 L788.0,342.0 L791.0,339.8 L794.0,331.7 L797.0,329.6 L800.0,325.0 L803.0,319.2 L806.0,316.9 L809.0,314.0 L812.0,314.9 L815.0,315.2 L818.0,320.3 L821.0,324.8 L824.0,329.6 L827.0,336.1 L830.0,335.9 L833.0,335.1 L836.0,334.3 L839.0,333.1 L842.0,334.3 L845.0,341.7 L848.0,350.0 L851.0,357.9 L854.0,360.4 L857.0,363.1 L860.0,363.6 L863.0,364.8 L866.0,364.9 L869.0,364.9 L872.0,364.8 L875.0,364.8 L878.0,365.2 L881.0,365.5 L884.0,368.0 L887.0,368.7 L890.0,369.8 L893.0,368.3 L896.0,368.0 L899.0,368.5 L902.0,368.1 L905.0,367.2 L908.0,365.0 L911.0,364.9 L914.0,367.3 L917.0,368.0 L920.0,368.9 L923.0,366.6 L926.0,364.6 L929.0,361.4 L932.0,360.4 L935.0,357.6 L938.0,360.0 L941.0,361.4 L944.0,363.2 L947.0,364.1 L950.0,365.0 L953.0,365.4 L956.0,367.1 L959.0,369.0 L962.0,370.8 L965.0,369.4 L968.0,370.1 L971.0,370.6 L974.0,372.3 L977.0,372.2 L980.0,371.7 L983.0,371.3 L986.0,369.9 L989.0,369.9 L992.0,369.0 L995.0,368.8 L998.0,369.4 L1001.0,369.2 L1004.0,367.9 L1007.0,364.5 L1010.0,362.3 L1013.0,359.3 L1016.0,356.7 L1019.0,354.0 L1022.0,354.4 L1025.0,355.9 L1028.0,356.7 L1031.0,359.8 L1034.0,361.9 L1037.0,363.4 L1040.0,362.7 L1043.0,364.0 L1046.0,364.8 L1049.0,365.9 L1052.0,365.6 L1055.0,366.7 L1058.0,368.9 L1061.0,369.8 L1064.0,371.0 L1067.0,369.1 L1070.0,369.4 L1073.0,367.0 L1076.0,368.7 L1079.0,367.8 L1082.0,368.2 L1085.0,367.4 L1088.0,368.3 L1091.0,367.3 L1094.0,366.6 L1097.0,365.0 L1100.0,366.1 L1103.0,366.5 L1106.0,367.4 L1109.0,367.1 L1112.0,367.1 L1115.0,367.6 L1118.0,369.4 L1121.0,371.7 L1124.0,371.8 L1127.0,372.3 L1130.0,371.8 L1133.0,374.5 L1136.0,374.8 L1139.0,375.2 L1142.0,374.2 L1145.0,375.5 L1148.0,375.9 L1151.0,376.6 L1154.0,376.5 L1157.0,376.4 L1160.0,375.6 L1163.0,375.9 L1166.0,376.4 L1169.0,377.6 L1172.0,378.0 L1175.0,378.7 L1178.0,378.2 L1181.0,377.1 L1184.0,377.4 L1187.0,379.3 L1190.0,379.5 L1193.0,377.7 L1196.0,376.3 L1199.0,376.6 L1202.0,376.7 L1205.0,377.6 L1208.0,377.5 L1211.0,378.2 L1214.0,379.3 L1217.0,380.1 L1220.0,381.4 L1223.0,381.4 L1226.0,382.5 L1229.0,382.3 L1232.0,381.9 L1235.0,380.7 L1238.0,382.2 L1241.0,382.6 L1244.0,382.4 L1247.0,381.2 L1250.0,381.2 L1253.0,382.3 L1256.0,383.7 L1259.0,384.3 L1262.0,383.6 L1265.0,382.3 L1268.0,380.5 L1271.0,381.2 L1274.0,381.4 L1277.0,384.3 L1280.0,384.3 L1283.0,382.8 L1286.0,380.5 L1289.0,380.5 L1292.0,381.1 L1295.0,381.0 L1298.0,380.7 L1301.0,381.8 L1304.0,382.4 L1307.0,382.0 L1310.0,382.4 L1313.0,382.1 L1316.0,382.4 L1319.0,380.4 L1322.0,379.4 L1325.0,379.4 L1328.0,378.4 L1331.0,378.1 L1334.0,377.3 L1337.0,377.4 L1340.0,376.8 L1343.0,374.6 L1346.0,375.0 L1349.0,375.8 L1352.0,377.8 L1355.0,376.6 L1358.0,376.0 L1361.0,377.5 L1364.0,381.0 L1367.0,382.9 L1370.0,384.1 L1373.0,382.7 L1376.0,382.3 L1379.0,381.3 L1382.0,382.0 L1385.0,381.0 L1388.0,381.6 L1391.0,382.2 L1394.0,382.4 L1397.0,380.8 L1400.0,380.0 L1403.0,380.3 L1406.0,378.8 L1409.0,378.5 L1412.0,378.3 L1415.0,379.0 L1418.0,379.2 L1421.0,378.5 L1424.0,377.6 L1427.0,375.4 L1430.0,375.0 L1433.0,376.3 L1436.0,377.8 L1439.0,379.5 L1442.0,381.1 L1445.0,383.3 L1448.0,384.5 L1451.0,385.4 L1454.0,384.6 L1457.0,384.3 L1460.0,384.7 L1463.0,384.3 L1466.0,385.2 L1469.0,383.5 L1472.0,383.3 L1475.0,381.0 L1478.0,381.4 L1481.0,381.9 L1484.0,383.9 L1487.0,383.6 L1490.0,383.2 L1493.0,381.9 L1496.0,381.8 L1499.0,380.9 L1502.0,381.1 L1505.0,380.4 L1508.0,381.2 L1511.0,381.1 L1514.0,381.8 L1517.0,381.0 L1520.0,379.9 L1523.0,381.7 L1526.0,381.4 L1529.0,383.4 L1532.0,382.5 L1535.0,383.1 L1538.0,381.1 L1541.0,381.4 L1544.0,382.8 L1547.0,382.9 L1550.0,381.9 L1553.0,381.4 L1556.0,382.3 L1559.0,383.9 L1562.0,382.8 L1565.0,382.9 L1568.0,380.6 L1571.0,382.5 L1574.0,381.6 L1577.0,380.9 L1580.0,379.3 L1583.0,379.7 L1586.0,382.7 L1589.0,382.5 L1592.0,382.6 L1595.0,381.7 L1598.0,383.0 L1601.0,383.0 L1604.0,383.3 L1607.0,382.6 L1610.0,382.5 L1613.0,381.9 L1616.0,381.6 L1619.0,381.2 L1622.0,382.1 L1625.0,381.1 L1628.0,382.6 L1631.0,382.5 L1634.0,383.5 L1637.0,382.1 L1640.0,381.4 L1643.0,381.8 L1646.0,382.9 L1649.0,383.3 L1652.0,383.8 L1655.0,382.9 L1658.0,382.9 L1661.0,381.1 L1664.0,382.1 L1667.0,382.1 L1670.0,383.0 L1673.0,383.4 L1676.0,383.8 L1679.0,382.2 L1682.0,381.5 L1685.0,380.0 L1688.0,382.8 L1691.0,384.7 L1694.0,385.4 L1697.0,384.8 L1700.0,382.9 L1703.0,383.6 L1706.0,384.1 L1709.0,385.2 L1712.0,384.4 L1715.0,385.1 L1718.0,383.5 L1721.0,384.5 L1724.0,384.2 L1727.0,385.4 L1730.0,384.6 L1733.0,383.3 L1736.0,382.5 L1739.0,383.2 L1742.0,384.5 L1745.0,384.0 L1748.0,384.4 L1751.0,384.0 L1754.0,385.4 L1757.0,385.5 L1760.0,386.2 L1763.0,386.3 L1766.0,386.7 L1769.0,386.1 L1772.0,387.2 L1775.0,385.3 L1778.0,386.0 L1781.0,384.6 L1784.0,385.9 L1787.0,384.4 L1790.0,383.4 L1793.0,383.4 L1796.0,383.7 L1799.0,385.5 L1802.0,384.9 L1805.0,386.5 L1808.0,386.5 L1811.0,387.5 L1814.0,386.0 L1817.0,385.4 L1820.0,384.9 L1823.0,385.1 L1826.0,385.8 L1829.0,386.6 L1832.0,386.1 L1835.0,386.0 L1838.0,385.6 L1841.0,386.8 L1844.0,388.5 L1847.0,389.7 L1850.0,389.4 L1853.0,387.1 L1856.0,385.4 L1859.0,384.0 L1862.0,385.2 L1865.0,385.2 L1868.0,386.0 L1871.0,384.6 L1874.0,384.8 L1877.0,385.3"/>
<path fill="#00ff00" d="M242.1,534.6 L244.1,533.7 L246.1,532.4 L248.1,531.4 L250.1,530.5 L252.1,532.4 L254.1,532.1 L256.1,533.5 L258.1,534.5 L260.1,533.2 L262.1,531.0 L264.1,531.3 L266.1,529.9 L268.1,530.9 L270.1,530.1 L272.1,530.3 L274.1,530.0 L276.1,529.4 L278.1,527.4 L280.1,528.7 L282.1,527.8 L284.1,527.2 L286.1,527.3 L288.1,525.1 L290.1,524.8 L292.1,525.6 L294.1,525.9 L296.1,527.1 L298.1,528.6 L300.1,528.5 L302.1,527.4 L304.1,527.3 L306.1,526.8 L308.1,526.8 L310.1,526.4 L312.1,525.3 L314.1,525.2 L316.1,524.2 L318.1,523.8 L320.1,523.0 L322.1,525.2 L324.1,524.1 L326.1,522.7 L328.1,521.6 L330.1,521.9 L332.1,521.1 L334.1,521.1 L336.1,520.4 L338.1,519.6 L340.1,518.5 L342.1,516.5 L344.1,517.4 L346.1,519.1 L348.1,519.6 L350.1,519.4 L352.1,520.7 L354.1,521.0 L356.1,519.4 L358.1,520.3 L360.1,519.8 L362.1,518.9 L364.1,518.1 L366.1,518.8 L368.1,517.4 L370.1,516.4 L372.1,516.2 L374.1,516.9 L376.1,518.3 L378.1,519.3 L380.1,521.0 L382.1,521.2 L384.1,519.9 L386.1,518.6 L388.1,517.3 L390.1,515.6 L392.1,515.9 L394.1,515.5 L396.1,514.4 L398.1,515.0 L400.1,515.1 L402.1,515.3 L404.1,515.1 L406.1,515.2 L408.1,514.6 L410.1,514.2 L412.1,513.1 L414.1,513.1 L416.1,514.2 L418.1,514.8 L420.1,516.1 L422.1,515.4 L424.1,515.4 L426.1,514.6 L428.1,514.3 L430.1,509.8 L432.1,507.2 L434.1,504.6 L436.1,502.5 L438.1,499.4 L440.1,498.5 L442.1,499.6 L444.1,498.6 L446.1,499.1 L448.1,498.9 L450.1,497.2 L452.1,494.9 L454.1,493.3 L456.1,492.4 L458.1,493.2 L460.1,493.3 L462.1,494.4 L464.1,493.9 L466.1,491.2 L468.1,486.6 L470.1,482.5 L472.1,474.1 L474.1,468.0 L476.1,463.6 L478.1,461.2 L480.1,455.9 L482.1,455.8 L484.1,454.9 L486.1,453.3 L488.1,453.0 L490.1,453.1 L492.1,454.4 L494.1,459.4 L496.1,466.0 L498.1,472.0 L500.1,480.4 L502.1,487.2 L504.1,493.4 L506.1,499.0 L508.1,504.7 L510.1,508.2 L512.1,511.8 L514.1,516.6 L516.1,514.9 L518.1,513.5 L520.1,513.8 L522.1,514.3 L524.1,512.8 L526.1,512.1 L528.1,515.6 L530.1,516.6 L532.1,517.9 L534.1,514.3 L536.1,509.3 L538.1,503.4 L540.1,501.1 L542.1,498.8 L544.1,496.4 L546.1,497.5 L548.1,499.0 L550.1,500.0 L552.1,500.8 L554.1,506.3 L556.1,512.5 L558.1,517.8 L560.1,518.2 L562.1,518.3 L564.1,517.7 L566.1,515.7 L568.1,514.4 L570.1,514.7 L572.1,514.6 L574.1,514.5 L576.1,516.4 L578.1,516.8 L580.1,517.1 L582.1,517.3 L584.1,515.9 L586.1,514.9 L588.1,513.5 L590.1,513.9 L592.1,513.5 L594.1,514.4 L596.1,513.2 L598.1,513.6 L600.1,511.2 L602.1,504.7 L604.1,502.0 L606.1,501.2 L608.1,494.3 L610.1,485.5 L612.1,476.4 L614.1,467.8 L616.1,454.6 L618.1,438.3 L620.1,426.5 L622.1,420.9 L624.1,418.5 L626.1,417.9 L628.1,417.1 L630.1,419.0 L632.1,421.4 L634.1,425.3 L636.1,432.2 L638.1,439.2 L640.1,449.9 L642.1,464.3 L644.1,478.9 L646.1,488.8 L648.1,498.5 L650.1,507.1 L652.1,513.0 L654.1,517.6 L656.1,523.0 L658.1,524.7 L660.1,527.2 L662.1,529.8 L664.1,530.5 L666.1,530.4 L668.1,530.5 L670.1,531.0 L672.1,531.6 L674.1,532.8 L676.1,533.9 L678.1,536.4 L680.1,539.4 L682.1,537.7 L684.1,536.1 L686.1,534.9 L688.1,530.7 L690.1,526.6 L692.1,523.6 L694.1,521.6 L696.1,518.5 L698.1,519.3 L700.1,519.5 L702.1,520.6 L704.1,520.9 L706.1,526.1 L708.1,530.8 L710.1,525.2 L712.1,519.6 L714.1,515.3 L716.1,509.8 L718.1,504.9 L720.1,503.3 L722.1,501.6 L724.1,499.6 L726.1,502.1 L728.1,504.4 L730.1,506.5 L732.1,510.3 L734.1,513.8 L736.1,517.6 L738.1,521.6 L740.1,524.4 L742.1,529.0 L744.1,532.8 L746.1,538.0 L748.1,542.4 L750.1,544.4 L752.1,547.1 L754.1,550.8 L756.1,551.9 L758.1,553.0 L760.1,555.5 L762.1,554.2 L764.1,554.0 L766.1,553.5 L768.1,551.8 L770.1,550.7 L772.1,551.1 L774.1,549.9 L776.1,549.1 L778.1,548.2 L780.1,544.6 L782.1,540.7 L784.1,537.0 L786.1,534.6 L788.1,531.7 L790.1,528.6 L792.1,524.9 L794.1,525.1 L796.1,524.3 L798.1,524.4 L800.1,523.7 L802.1,525.6 L804.1,526.1 L806.1,527.7 L808.1,529.7 L810.1,532.6 L812.1,533.6 L814.1,535.7 L816.1,535.7 L818.1,535.5 L820.1,534.8 L822.1,535.2 L824.1,534.8 L826.1,534.9 L828.1,534.7 L830.1,538.4 L832.1,541.6 L834.1,545.3 L836.1,548.1 L838.1,550.0 L840.1,553.8 L842.1,555.7 L844.1,554.5 L846.1,554.8 L848.1,556.0 L850.1,557.0 L852.1,557.7 L854.1,557.8 L856.1,558.8 L858.1,559.3 L860.1,559.4 L862.1,558.5 L864.1,558.2 L866.1,558.1 L868.1,558.3 L870.1,556.9 L872.1,556.4 L874.1,558.4 L876.1,559.7 L878.1,558.7 L880.1,559.6 L882.1,560.6 L884.1,561.7 L886.1,560.7 L888.1,561.7 L890.1,561.5 L892.1,562.1 L894.1,559.9 L896.1,559.9 L898.1,559.6 L900.1,557.4 L902.1,558.3 L904.1,557.8 L906.1,556.0 L908.1,555.6 L910.1,554.8 L912.1,551.5 L914.1,550.4 L916.1,549.5 L918.1,548.4 L920.1,549.3 L922.1,548.9 L924.1,548.7 L926.1,548.5 L928.1,546.7 L930.1,545.6 L932.1,546.8 L934.1,548.6 L936.1,550.0 L938.1,552.2 L940.1,552.6 L942.1,554.8 L944.1,555.0 L946.1,556.3 L948.1,556.1 L950.1,556.4 L952.1,556.9 L954.1,557.9 L956.1,556.9 L958.1,557.7 L960.1,558.0 L962.1,557.1 L964.1,556.6 L966.1,556.4 L968.1,555.2 L970.1,555.3 L972.1,556.5 L974.1,557.3 L976.1,557.4 L978.1,558.5 L980.1,558.4 L982.1,557.3 L984.1,556.6 L986.1,556.8 L988.1,557.1 L990.1,557.0 L992.1,555.7 L994.1,555.7 L996.1,555.0 L998.1,552.9 L1000.1,549.8 L1002.1,549.8 L1004.1,548.0 L1006.1,547.4 L1008.1,546.8 L1010.1,548.6 L1012.1,546.4 L1014.1,545.1 L1016.1,544.7 L1018.1,544.4 L1020.1,544.6 L1022.1,545.6 L1024.1,544.6 L1026.1,546.0 L1028.1,546.8 L1030.1,546.1 L1032.1,545.4 L1034.1,545.4 L1036.1,543.5 L1038.1,543.5 L1040.1,545.9 L1042.1,545.2 L1044.1,546.2 L1046.1,546.6 L1048.1,546.5 L1050.1,543.1 L1052.1,542.6 L1054.1,540.6 L1056.1,538.4 L1058.1,535.2 L1060.1,532.6 L1062.1,528.8 L1064.1,524.7 L1066.1,521.9 L1068.1,519.9 L1070.1,519.1 L1072.1,518.7 L1074.1,519.1 L1076.1,518.5 L1078.1,519.5 L1080.1,519.9 L1082.1,520.1 L1084.1,520.6 L1086.1,522.3 L1088.1,522.8 L1090.1,524.0 L1092.1,529.8 L1094.1,536.0 L1096.1,538.6 L1098.1,541.3 L1100.1,543.7 L1102.1,545.4 L1104.1,546.0 L1106.1,546.9 L1108.1,547.9 L1110.1,549.4 L1112.1,551.4 L1114.1,552.9 L1116.1,554.7 L1118.1,555.3 L1120.1,554.3 L1122.1,557.1 L1124.1,558.6 L1126.1,559.1 L1128.1,560.6 L1130.1,563.5 L1132.1,562.2 L1134.1,563.1 L1136.1,562.2 L1138.1,561.1 L1140.1,561.1 L1142.1,561.7 L1144.1,560.9 L1146.1,561.5 L1148.1,562.3 L1150.1,560.5 L1152.1,560.2 L1154.1,560.0 L1156.1,559.9 L1158.1,559.8 L1160.1,560.7 L1162.1,559.7 L1164.1,559.5 L1166.1,558.4 L1168.1,558.6 L1170.1,559.4 L1172.1,558.8 L1174.1,558.2 L1176.1,559.7 L1178.1,560.1 L1180.1,559.1 L1182.1,558.4 L1184.1,558.9 L1186.1,557.5 L1188.1,556.3 L1190.1,556.4 L1192.1,557.3 L1194.1,557.6 L1196.1,560.7 L1198.1,561.8 L1200.1,562.2 L1202.1,562.1 L1204.1,561.5 L1206.1,558.9 L1208.1,558.3 L1210.1,557.4 L1212.1,557.9 L1214.1,558.5 L1216.1,558.9 L1218.1,558.6 L1220.1,558.8 L1222.1,559.9 L1224.1,560.4 L1226.1,562.1 L1228.1,564.2 L1230.1,565.2 L1232.1,565.7 L1234.1,564.9 L1236.1,565.7 L1238.1,565.6 L1240.1,565.5 L1242.1,564.1 L1244.1,565.2 L1246.1,562.2 L1248.1,560.7 L1250.1,561.2 L1252.1,561.9 L1254.1,561.2 L1256.1,563.0 L1258.1,562.6 L1260.1,562.2 L1262.1,561.6 L1264.1,561.2 L1266.1,560.8 L1268.1,560.6 L1270.1,561.6 L1272.1,561.4 L1274.1,563.2 L1276.1,562.0 L1278.1,562.9 L1280.1,560.6 L1282.1,560.0 L1284.1,558.6 L1286.1,559.7 L1288.1,558.2 L1290.1,559.7 L1292.1,560.0 L1294.1,559.8 L1296.1,559.5 L1298.1,560.6 L1300.1,558.4 L1302.1,560.0 L1304.1,560.1 L1306.1,559.4 L1308.1,558.2 L1310.1,558.1 L1312.1,555.9 L1314.1,555.8 L1316.1,555.5 L1318.1,554.7 L1320.1,554.7 L1322.1,555.9 L1324.1,554.5 L1326.1,553.5 L1328.1,554.4 L1330.1,554.3 L1332.1,552.4 L1334.1,551.5 L1336.1,550.0 L1338.1,547.5 L1340.1,546.0 L1342.1,545.0 L1344.1,544.9 L1346.1,545.5 L1348.1,545.7 L1350.1,545.4 L1352.1,545.6 L1354.1,545.2 L1356.1,545.8 L1358.1,546.4 L1360.1,547.1 L1362.1,548.9 L1364.1,550.9 L1366.1,551.4 L1368.1,552.8 L1370.1,554.1 L1372.1,554.6 L1374.1,556.6 L1376.1,557.9 L1378.1,558.1 L1380.1,558.8 L1382.1,561.3 L1384.1,561.3 L1386.1,562.8 L1388.1,564.3 L1390.1,565.1 L1392.1,563.0 L1394.1,564.7 L1396.1,563.8 L1398.1,562.4 L1400.1,561.1 L1402.1,561.8 L1404.1,560.3 L1406.1,559.9 L1408.1,560.8 L1410.1,559.8 L1412.1,557.5 L1414.1,556.9 L1416.1,556.4 L1418.1,555.2 L1420.1,553.8 L1422.1,554.2 L1424.1,552.8 L1426.1,552.4 L1428.1,549.7 L1430.1,549.5 L1432.1,549.7 L1434.1,549.5 L1436.1,548.9 L1438.1,551.7 L1440.1,552.4 L1442.1,553.3 L1444.1,556.2 L1446.1,558.4 L1448.1,559.3 L1450.1,560.1 L1452.1,561.6 L1454.1,562.7 L1456.1,562.6 L1458.1,562.5 L1460.1,564.6 L1462.1,565.9 L1464.1,564.5 L1466.1,563.4 L1468.1,563.0 L1470.1,561.9 L1472.1,560.9 L1474.1,562.3 L1476.1,564.2 L1478.1,564.9 L1480.1,565.8 L1482.1,565.4 L1484.1,565.1 L1486.1,565.0 L1488.1,567.5 L1490.1,568.1 L1492.1,568.3 L1494.1,567.8 L1496.1,567.9 L1498.1,564.9 L1500.1,563.7 L1502.1,563.8 L1504.1,565.0 L1506.1,565.0 L1508.1,565.5 L1510.1,565.0 L1512.1,564.7 L1514.1,564.0 L1516.1,564.1 L1518.1,565.3 L1520.1,565.8 L1522.1,567.3 L1524.1,567.4 L1526.1,567.5 L1528.1,565.3 L1530.1,564.8 L1532.1,564.5 L1534.1,565.3 L1536.1,565.4 L1538.1,567.3 L1540.1,567.9 L1542.1,567.1 L1544.1,565.7 L1546.1,566.2 L1548.1,565.9 L1550.1,566.0 L1552.1,566.1 L1554.1,566.9 L1556.1,566.5 L1558.1,565.6 L1560.1,567.0 L1562.1,567.4 L1564.1,567.0 L1566.1,567.8 L1568.1,569.1 L1570.1,567.8 L1572.1,568.0 L1574.1,567.3 L1576.1,565.8 L1578.1,563.6 L1580.1,564.5 L1582.1,562.8 L1584.1,564.0 L1586.1,563.9 L1588.1,564.8 L1590.1,563.8 L1592.1,565.3 L1594.1,565.1 L1596.1,566.8 L1598.1,567.7 L1600.1,568.3 L1602.1,567.7 L1604.1,567.7 L1606.1,566.5 L1608.1,565.8 L1610.1,565.0 L1612.1,565.3 L1614.1,564.9 L1616.1,565.0 L1618.1,564.9 L1620.1,564.3 L1622.1,564.8 L1624.1,563.4 L1626.1,562.6 L1628.1,564.0 L1630.1,562.5 L1632.1,561.5 L1634.1,563.0 L1636.1,562.2 L1638.1,562.9 L1640.1,562.9 L1642.1,564.2 L1644.1,564.7 L1646.1,566.4 L1648.1,564.4 L1650.1,566.3 L1652.1,564.6 L1654.1,563.9 L1656.1,562.4 L1658.1,562.3 L1660.1,562.6 L1662.1,562.4 L1664.1,561.5 L1666.1,562.2 L1668.1,561.4 L1670.1,561.4 L1672.1,562.3 L1674.1,561.4 L1676.1,561.1 L1678.1,561.4 L1680.1,560.1 L1682.1,559.8 L1684.1,560.3 L1686.1,561.3 L1688.1,561.6 L1690.1,563.1 L1692.1,563.3 L1694.1,564.7 L1696.1,563.9 L1698.1,564.4 L1700.1,563.2 L1702.1,563.9 L1704.1,564.3 L1706.1,566.4 L1708.1,568.0 L1710.1,569.3 L1712.1,569.0 L1714.1,568.9 L1716.1,567.8 L1718.1,568.2 L1720.1,569.0 L1722.1,568.8 L1724.1,568.4 L1726.1,569.7 L1728.1,569.2 L1730.1,568.7 L1732.1,570.4 L1734.1,570.8 L1736.1,569.8 L1738.1,569.3 L1740.1,568.1 L1742.1,568.0 L1744.1,567.5 L1746.1,567.3 L1748.1,567.2 L1750.1,569.1 L1752.1,568.5 L1754.1,569.4 L1756.1,568.6 L1758.1,569.2 L1760.1,567.7 L1762.1,568.0 L1764.1,568.3 L1766.1,569.5 L1768.1,571.0 L1770.1,572.4 L1772.1,572.7 L1774.1,572.6 L1776.1,572.5 L1778.1,571.8 L1780.1,572.3 L1782.1,571.1 L1784.1,571.8 L1786.1,572.4 L1788.1,572.5 L1790.1,572.2 L1792.1,572.3 L1794.1,570.9 L1796.1,571.9 L1798.1,571.5 L1800.1,570.3 L1802.1,571.5 L1804.1,572.2 L1806.1,569.7 L1808.1,568.1 L1810.1,568.1 L1812.1,568.1 L1814.1,568.4 L1816.1,569.6 L1818.1,571.5 L1820.1,573.1 L1822.1,571.6 L1824.1,571.5 L1826.1,571.2 L1828.1,570.2 L1830.1,569.5 L1832.1,570.9 L1834.1,571.0 L1836.1,570.7 L1838.1,571.3 L1840.1,573.1 L1842.1,572.5 L1844.1,571.6 L1846.1,572.9 L1848.1,573.7 L1850.1,572.7 L1852.1,572.8 L1854.1,574.7 L1856.1,574.1 L1858.1,572.9 L1860.1,572.3 L1862.1,573.1 L1864.1,572.9 L1866.1,574.0 L1868.1,574.8 L1870.1,576.0 L1872.1,576.2 L1874.1,576.4 L1876.1,575.1 L1876.1,593.7 L1874.1,596.6 L1872.1,596.4 L1870.1,596.3 L1868.1,596.0 L1866.1,596.0 L1864.1,593.8 L1862.1,594.6 L1860.1,595.6 L1858.1,595.3 L1856.1,594.1 L1854.1,594.0 L1852.1,592.3 L1850.1,591.6 L1848.1,591.8 L1846.1,592.8 L1844.1,592.0 L1842.1,592.6 L1840.1,593.3 L1838.1,594.2 L1836.1,593.7 L1834.1,594.6 L1832.1,595.7 L1830.1,593.7 L1828.1,592.8 L1826.1,593.6 L1824.1,594.0 L1822.1,593.2 L1820.1,594.4 L1818.1,595.0 L1816.1,592.8 L1814.1,592.4 L1812.1,593.2 L1810.1,593.3 L1808.1,593.3 L1806.1,593.7 L1804.1,593.7 L1802.1,592.0 L1800.1,592.3 L1798.1,591.8 L1796.1,592.9 L1794.1,593.2 L1792.1,592.9 L1790.1,592.4 L1788.1,590.1 L1786.1,589.3 L1784.1,589.3 L1782.1,589.1 L1780.1,588.0 L1778.1,588.8 L1776.1,589.6 L1774.1,588.6 L1772.1,588.8 L1770.1,589.0 L1768.1,589.9 L1766.1,589.3 L1764.1,589.2 L1762.1,587.2 L1760.1,587.5 L1758.1,587.6 L1756.1,587.2 L1754.1,587.8 L1752.1,590.0 L1750.1,590.1 L1748.1,588.2 L1746.1,588.1 L1744.1,587.3 L1742.1,586.7 L1740.1,585.4 L1738.1,586.8 L1736.1,587.8 L1734.1,589.5 L1732.1,588.7 L1730.1,589.8 L1728.1,589.4 L1726.1,587.9 L1724.1,586.7 L1722.1,585.7 L1720.1,584.7 L1718.1,584.2 L1716.1,585.8 L1714.1,585.9 L1712.1,587.6 L1710.1,588.8 L1708.1,587.8 L1706.1,585.4 L1704.1,585.9 L1702.1,586.8 L1700.1,585.2 L1698.1,588.3 L1696.1,589.3 L1694.1,588.5 L1692.1,587.2 L1690.1,587.8 L1688.1,586.5 L1686.1,586.1 L1684.1,586.5 L1682.1,587.5 L1680.1,586.3 L1678.1,585.5 L1676.1,586.4 L1674.1,585.5 L1672.1,586.1 L1670.1,587.5 L1668.1,586.7 L1666.1,587.3 L1664.1,587.1 L1662.1,587.0 L1660.1,586.3 L1658.1,587.9 L1656.1,586.4 L1654.1,588.0 L1652.1,586.4 L1650.1,587.4 L1648.1,587.0 L1646.1,588.6 L1644.1,588.0 L1642.1,589.0 L1640.1,590.8 L1638.1,591.9 L1636.1,592.3 L1634.1,592.6 L1632.1,591.8 L1630.1,589.4 L1628.1,588.9 L1626.1,588.3 L1624.1,589.1 L1622.1,590.3 L1620.1,591.2 L1618.1,591.4 L1616.1,590.2 L1614.1,589.7 L1612.1,588.2 L1610.1,587.4 L1608.1,587.3 L1606.1,588.1 L1604.1,586.7 L1602.1,586.9 L1600.1,587.8 L1598.1,587.5 L1596.1,588.2 L1594.1,588.6 L1592.1,588.3 L1590.1,588.4 L1588.1,589.1 L1586.1,586.8 L1584.1,586.4 L1582.1,586.2 L1580.1,586.1 L1578.1,584.6 L1576.1,586.5 L1574.1,588.8 L1572.1,589.7 L1570.1,589.3 L1568.1,587.6 L1566.1,586.8 L1564.1,584.1 L1562.1,583.8 L1560.1,583.2 L1558.1,584.9 L1556.1,585.5 L1554.1,587.4 L1552.1,589.1 L1550.1,590.2 L1548.1,590.6 L1546.1,588.8 L1544.1,587.2 L1542.1,586.6 L1540.1,585.6 L1538.1,586.3 L1536.1,586.5 L1534.1,588.2 L1532.1,587.9 L1530.1,587.5 L1528.1,586.5 L1526.1,589.2 L1524.1,587.4 L1522.1,587.8 L1520.1,587.9 L1518.1,587.5 L1516.1,587.1 L1514.1,588.4 L1512.1,587.0 L1510.1,586.7 L1508.1,587.1 L1506.1,586.2 L1504.1,585.6 L1502.1,586.7 L1500.1,585.8 L1498.1,586.6 L1496.1,587.0 L1494.1,588.0 L1492.1,588.1 L1490.1,590.8 L1488.1,589.6 L1486.1,589.4 L1484.1,588.1 L1482.1,587.4 L1480.1,586.6 L1478.1,587.5 L1476.1,586.0 L1474.1,586.7 L1472.1,585.9 L1470.1,585.6 L1468.1,585.7 L1466.1,585.7 L1464.1,584.2 L1462.1,585.1 L1460.1,585.8 L1458.1,586.2 L1456.1,586.1 L1454.1,586.9 L1452.1,585.3 L1450.1,585.0 L1448.1,582.9 L1446.1,582.0 L1444.1,581.3 L1442.1,578.5 L1440.1,577.2 L1438.1,575.6 L1436.1,575.0 L1434.1,573.1 L1432.1,573.7 L1430.1,571.8 L1428.1,572.3 L1426.1,573.8 L1424.1,575.1 L1422.1,575.6 L1420.1,575.4 L1418.1,577.3 L1416.1,578.1 L1414.1,580.1 L1412.1,580.4 L1410.1,582.7 L1408.1,583.9 L1406.1,584.2 L1404.1,583.9 L1402.1,584.4 L1400.1,583.7 L1398.1,582.9 L1396.1,584.8 L1394.1,584.0 L1392.1,584.3 L1390.1,585.0 L1388.1,584.6 L1386.1,583.0 L1384.1,582.8 L1382.1,581.4 L1380.1,580.3 L1378.1,581.8 L1376.1,580.2 L1374.1,578.1 L1372.1,579.3 L1370.1,578.4 L1368.1,575.9 L1366.1,575.1 L1364.1,576.3 L1362.1,575.2 L1360.1,575.7 L1358.1,575.7 L1356.1,575.7 L1354.1,574.8 L1352.1,573.8 L1350.1,573.6 L1348.1,574.2 L1346.1,574.9 L1344.1,576.7 L1342.1,576.8 L1340.1,575.7 L1338.1,575.4 L1336.1,575.6 L1334.1,576.2 L1332.1,577.3 L1330.1,579.8 L1328.1,580.3 L1326.1,580.0 L1324.1,578.6 L1322.1,579.1 L1320.1,578.3 L1318.1,578.3 L1316.1,579.9 L1314.1,580.8 L1312.1,581.2 L1310.1,581.1 L1308.1,581.5 L1306.1,581.3 L1304.1,581.4 L1302.1,580.7 L1300.1,579.6 L1298.1,579.1 L1296.1,579.5 L1294.1,579.9 L1292.1,580.2 L1290.1,581.1 L1288.1,582.0 L1286.1,581.9 L1284.1,580.5 L1282.1,579.7 L1280.1,580.9 L1278.1,581.3 L1276.1,582.1 L1274.1,581.7 L1272.1,581.6 L1270.1,579.9 L1268.1,580.3 L1266.1,580.4 L1264.1,581.9 L1262.1,581.8 L1260.1,583.4 L1258.1,582.5 L1256.1,580.7 L1254.1,580.3 L1252.1,581.4 L1250.1,581.2 L1248.1,582.7 L1246.1,583.3 L1244.1,582.3 L1242.1,582.5 L1240.1,581.7 L1238.1,580.0 L1236.1,579.7 L1234.1,581.3 L1232.1,580.9 L1230.1,580.0 L1228.1,579.9 L1226.1,580.4 L1224.1,578.2 L1222.1,577.8 L1220.1,579.1 L1218.1,580.7 L1216.1,581.5 L1214.1,583.0 L1212.1,583.3 L1210.1,583.6 L1208.1,581.5 L1206.1,581.1 L1204.1,581.8 L1202.1,581.5 L1200.1,581.7 L1198.1,582.0 L1196.1,582.0 L1194.1,582.2 L1192.1,582.6 L1190.1,582.7 L1188.1,581.8 L1186.1,580.8 L1184.1,578.5 L1182.1,578.0 L1180.1,577.1 L1178.1,578.8 L1176.1,579.8 L1174.1,580.9 L1172.1,582.2 L1170.1,581.8 L1168.1,582.1 L1166.1,582.4 L1164.1,583.1 L1162.1,580.9 L1160.1,580.7 L1158.1,580.1 L1156.1,579.9 L1154.1,580.3 L1152.1,581.4 L1150.1,582.4 L1148.1,583.5 L1146.1,584.5 L1144.1,584.2 L1142.1,585.4 L1140.1,585.7 L1138.1,584.8 L1136.1,583.2 L1134.1,582.8 L1132.1,582.8 L1130.1,582.1 L1128.1,580.9 L1126.1,579.8 L1124.1,579.2 L1122.1,577.3 L1120.1,576.7 L1118.1,576.2 L1116.1,576.3 L1114.1,575.5 L1112.1,574.4 L1110.1,571.4 L1108.1,569.4 L1106.1,568.6 L1104.1,567.1 L1102.1,566.6 L1100.1,570.0 L1098.1,571.5 L1096.1,568.7 L1094.1,568.0 L1092.1,565.9 L1090.1,561.9 L1088.1,558.3 L1086.1,557.3 L1084.1,552.9 L1082.1,548.5 L1080.1,544.7 L1078.1,543.6 L1076.1,542.6 L1074.1,545.0 L1072.1,547.8 L1070.1,548.5 L1068.1,549.8 L1066.1,552.7 L1064.1,556.6 L1062.1,558.6 L1060.1,559.5 L1058.1,561.9 L1056.1,562.6 L1054.1,562.2 L1052.1,561.9 L1050.1,564.2 L1048.1,565.2 L1046.1,566.3 L1044.1,567.0 L1042.1,567.7 L1040.1,568.7 L1038.1,568.9 L1036.1,569.6 L1034.1,569.9 L1032.1,570.0 L1030.1,569.6 L1028.1,569.4 L1026.1,569.5 L1024.1,570.8 L1022.1,571.0 L1020.1,570.4 L1018.1,569.8 L1016.1,570.5 L1014.1,569.5 L1012.1,571.6 L1010.1,572.2 L1008.1,572.4 L1006.1,571.4 L1004.1,573.8 L1002.1,571.9 L1000.1,574.0 L998.1,573.5 L996.1,575.7 L994.1,574.8 L992.1,576.1 L990.1,575.7 L988.1,577.7 L986.1,576.3 L984.1,577.0 L982.1,576.9 L980.1,577.9 L978.1,577.5 L976.1,578.6 L974.1,577.3 L972.1,578.1 L970.1,576.9 L968.1,577.2 L966.1,577.0 L964.1,578.0 L962.1,578.2 L960.1,580.3 L958.1,580.4 L956.1,581.3 L954.1,581.3 L952.1,583.0 L950.1,583.6 L948.1,583.5 L946.1,583.7 L944.1,582.1 L942.1,578.7 L940.1,575.4 L938.1,573.2 L936.1,571.4 L934.1,570.0 L932.1,568.6 L930.1,567.5 L928.1,569.1 L926.1,569.9 L924.1,570.8 L922.1,570.1 L920.1,570.3 L918.1,571.4 L916.1,572.2 L914.1,572.2 L912.1,575.9 L910.1,577.1 L908.1,577.5 L906.1,577.7 L904.1,579.9 L902.1,578.6 L900.1,577.6 L898.1,579.4 L896.1,579.9 L894.1,579.4 L892.1,580.3 L890.1,581.1 L888.1,579.6 L886.1,581.4 L884.1,580.1 L882.1,579.8 L880.1,580.1 L878.1,579.4 L876.1,577.8 L874.1,579.7 L872.1,578.9 L870.1,578.5 L868.1,578.9 L866.1,579.8 L864.1,580.2 L862.1,581.4 L860.1,583.2 L858.1,584.2 L856.1,584.7 L854.1,583.0 L852.1,581.4 L850.1,578.7 L848.1,578.1 L846.1,576.2 L844.1,574.5 L842.1,572.9 L840.1,572.4 L838.1,571.2 L836.1,569.8 L834.1,570.9 L832.1,571.0 L830.1,570.3 L828.1,569.4 L826.1,569.7 L824.1,566.9 L822.1,564.9 L820.1,565.5 L818.1,564.9 L816.1,563.6 L814.1,563.5 L812.1,562.9 L810.1,558.9 L808.1,556.6 L806.1,553.7 L804.1,552.6 L802.1,554.1 L800.1,556.5 L798.1,559.5 L796.1,561.8 L794.1,563.4 L792.1,563.5 L790.1,564.7 L788.1,565.7 L786.1,568.3 L784.1,568.8 L782.1,570.3 L780.1,570.4 L778.1,569.3 L776.1,568.4 L774.1,570.5 L772.1,571.4 L770.1,573.7 L768.1,575.4 L766.1,578.0 L764.1,577.8 L762.1,578.6 L760.1,576.2 L758.1,575.7 L756.1,573.3 L754.1,571.6 L752.1,569.2 L750.1,568.9 L748.1,568.0 L746.1,566.5 L744.1,566.2 L742.1,565.7 L740.1,562.9 L738.1,559.8 L736.1,558.3 L734.1,555.5 L732.1,546.9 L730.1,540.2 L728.1,537.4 L726.1,536.0 L724.1,534.1 L722.1,539.5 L720.1,545.3 L718.1,549.7 L716.1,554.6 L714.1,559.1 L712.1,561.4 L710.1,562.8 L708.1,563.9 L706.1,559.9 L704.1,557.6 L702.1,555.4 L700.1,552.7 L698.1,552.0 L696.1,552.3 L694.1,552.8 L692.1,553.5 L690.1,554.1 L688.1,554.2 L686.1,554.4 L684.1,557.0 L682.1,559.2 L680.1,561.6 L678.1,562.3 L676.1,562.7 L674.1,561.8 L672.1,560.7 L670.1,560.0 L668.1,557.8 L666.1,557.3 L664.1,557.2 L662.1,556.3 L660.1,553.0 L658.1,553.1 L656.1,552.0 L654.1,548.7 L652.1,546.5 L650.1,544.6 L648.1,539.1 L646.1,534.2 L644.1,531.3 L642.1,527.2 L640.1,522.2 L638.1,515.0 L636.1,507.7 L634.1,498.1 L632.1,487.5 L630.1,476.2 L628.1,463.2 L626.1,475.4 L624.1,494.7 L622.1,500.0 L620.1,505.3 L618.1,511.5 L616.1,519.1 L614.1,524.2 L612.1,525.3 L610.1,527.7 L608.1,533.3 L606.1,532.7 L604.1,530.8 L602.1,530.3 L600.1,529.1 L598.1,532.7 L596.1,536.9 L594.1,539.6 L592.1,540.9 L590.1,541.6 L588.1,539.8 L586.1,539.7 L584.1,541.3 L582.1,542.1 L580.1,543.9 L578.1,544.7 L576.1,546.3 L574.1,545.5 L572.1,545.2 L570.1,543.2 L568.1,542.0 L566.1,540.6 L564.1,540.5 L562.1,541.1 L560.1,542.4 L558.1,543.0 L556.1,541.8 L554.1,540.5 L552.1,538.4 L550.1,536.2 L548.1,535.2 L546.1,533.1 L544.1,532.5 L542.1,535.2 L540.1,537.0 L538.1,537.8 L536.1,539.5 L534.1,539.1 L532.1,540.2 L530.1,542.2 L528.1,543.1 L526.1,543.6 L524.1,546.6 L522.1,547.5 L520.1,547.6 L518.1,544.5 L516.1,541.6 L514.1,538.4 L512.1,535.9 L510.1,532.8 L508.1,531.7 L506.1,530.8 L504.1,528.5 L502.1,525.5 L500.1,519.6 L498.1,513.6 L496.1,507.9 L494.1,502.0 L492.1,496.5 L490.1,492.6 L488.1,487.4 L486.1,481.9 L484.1,485.9 L482.1,491.3 L480.1,496.3 L478.1,503.4 L476.1,512.1 L474.1,515.6 L472.1,518.5 L470.1,519.7 L468.1,521.1 L466.1,519.9 L464.1,520.0 L462.1,520.2 L460.1,522.3 L458.1,522.6 L456.1,522.3 L454.1,522.7 L452.1,523.0 L450.1,524.8 L448.1,525.6 L446.1,527.9 L444.1,530.4 L442.1,532.2 L440.1,532.2 L438.1,534.2 L436.1,536.3 L434.1,538.5 L432.1,538.3 L430.1,538.5 L428.1,539.2 L426.1,540.4 L424.1,541.1 L422.1,543.5 L420.1,545.9 L418.1,547.2 L416.1,545.9 L414.1,545.7 L412.1,546.2 L410.1,545.7 L408.1,545.0 L406.1,543.8 L404.1,544.1 L402.1,543.3 L400.1,544.9 L398.1,543.6 L396.1,546.8 L394.1,546.5 L392.1,546.6 L390.1,543.1 L388.1,543.8 L386.1,542.8 L384.1,543.5 L382.1,546.1 L380.1,548.3 L378.1,550.3 L376.1,550.0 L374.1,550.1 L372.1,548.1 L370.1,548.0 L368.1,545.8 L366.1,545.8 L364.1,545.0 L362.1,545.3 L360.1,545.4 L358.1,545.8 L356.1,547.1 L354.1,549.0 L352.1,549.2 L350.1,550.2 L348.1,551.7 L346.1,552.4 L344.1,552.2 L342.1,552.8 L340.1,553.1 L338.1,552.6 L336.1,552.7 L334.1,551.3 L332.1,552.0 L330.1,550.4 L328.1,548.6 L326.1,546.7 L324.1,547.3 L322.1,544.7 L320.1,548.0 L318.1,549.5 L316.1,549.4 L314.1,550.2 L312.1,552.8 L310.1,552.0 L308.1,553.0 L306.1,553.6 L304.1,555.0 L302.1,553.4 L300.1,552.9 L298.1,553.3 L296.1,552.5 L294.1,551.2 L292.1,552.1 L290.1,551.9 L288.1,550.4 L286.1,551.6 L284.1,551.6 L282.1,552.4 L280.1,553.2 L278.1,554.3 L276.1,554.4 L274.1,555.0 L272.1,553.8 L270.1,555.2 L268.1,555.6 L266.1,555.9 L264.1,556.1 L262.1,559.0 L260.1,558.5 L258.1,556.2 L256.1,557.5 L254.1,557.4 L252.1,555.5 L250.1,555.2 L248.1,557.3 L246.1,555.5 L244.1,556.9 L242.1,556.4 Z"/>
<path fill="none" stroke="#00ff00" stroke-width="12" stroke-linejoin="round" d="M242.1,549.5 L245.1,549.5 L248.1,548.5 L251.1,546.3 L254.1,544.5 L257.1,543.6 L260.1,543.6 L263.1,543.2 L266.1,543.6 L269.1,542.2 L272.1,541.2 L275.1,539.1 L278.1,538.0 L281.1,537.6 L284.1,538.4 L287.1,538.7 L290.1,539.1 L293.1,538.5 L296.1,540.4 L299.1,541.0 L302.1,542.2 L305.1,541.9 L308.1,541.5 L311.1,540.0 L314.1,537.9 L317.1,536.6 L320.1,535.4 L323.1,535.9 L326.1,535.5 L329.1,535.2 L332.1,535.1 L335.1,536.0 L338.1,536.3 L341.1,536.2 L344.1,534.8 L347.1,533.9 L350.1,533.1 L353.1,533.0 L356.1,532.6 L359.1,533.4 L362.1,533.3 L365.1,532.8 L368.1,531.8 L371.1,533.1 L374.1,533.6 L377.1,533.9 L380.1,532.2 L383.1,531.6 L386.1,530.1 L389.1,530.2 L392.1,531.6 L395.1,531.1 L398.1,532.1 L401.1,529.9 L404.1,530.4 L407.1,529.6 L410.1,530.5 L413.1,530.7 L416.1,528.9 L419.1,528.5 L422.1,527.1 L425.1,529.4 L428.1,528.3 L431.1,526.0 L434.1,520.2 L437.1,517.3 L440.1,513.7 L443.1,513.7 L446.1,512.3 L449.1,512.0 L452.1,509.2 L455.1,507.5 L458.1,508.1 L461.1,508.0 L464.1,506.3 L467.1,503.3 L470.1,499.8 L473.1,494.1 L476.1,487.9 L479.1,479.8 L482.1,474.4 L485.1,469.1 L488.1,471.9 L491.1,475.2 L494.1,481.8 L497.1,489.2 L500.1,497.7 L503.1,507.4 L506.1,514.3 L509.1,519.4 L512.1,524.8 L515.1,526.7 L518.1,527.5 L521.1,525.8 L524.1,526.6 L527.1,526.6 L530.1,529.1 L533.1,527.2 L536.1,524.1 L539.1,518.9 L542.1,516.0 L545.1,514.8 L548.1,518.8 L551.1,521.7 L554.1,524.3 L557.1,528.0 L560.1,527.7 L563.1,527.7 L566.1,530.1 L569.1,532.0 L572.1,530.9 L575.1,529.8 L578.1,528.7 L581.1,529.0 L584.1,528.4 L587.1,527.8 L590.1,524.8 L593.1,524.5 L596.1,523.2 L599.1,521.7 L602.1,516.6 L605.1,513.8 L608.1,510.1 L611.1,500.6 L614.1,493.3 L617.1,478.9 L620.1,465.5 L623.1,458.3 L626.1,446.2 L629.1,441.8 L632.1,454.4 L635.1,466.1 L638.1,477.6 L641.1,490.5 L644.1,504.3 L647.1,516.2 L650.1,526.6 L653.1,533.4 L656.1,538.0 L659.1,541.3 L662.1,543.6 L665.1,545.1 L668.1,545.7 L671.1,546.4 L674.1,548.6 L677.1,549.2 L680.1,549.9 L683.1,547.2 L686.1,545.5 L689.1,542.8 L692.1,538.3 L695.1,535.9 L698.1,536.4 L701.1,539.9 L704.1,541.8 L707.1,547.1 L710.1,543.7 L713.1,538.1 L716.1,529.6 L719.1,523.2 L722.1,519.3 L725.1,518.3 L728.1,521.0 L731.1,526.5 L734.1,533.5 L737.1,538.9 L740.1,542.8 L743.1,547.1 L746.1,552.8 L749.1,556.5 L752.1,559.7 L755.1,562.4 L758.1,563.2 L761.1,564.5 L764.1,563.5 L767.1,562.0 L770.1,560.0 L773.1,560.3 L776.1,559.9 L779.1,559.5 L782.1,555.3 L785.1,550.8 L788.1,547.1 L791.1,545.1 L794.1,544.7 L797.1,544.5 L800.1,544.1 L803.1,543.2 L806.1,543.1 L809.1,544.5 L812.1,546.5 L815.1,547.8 L818.1,549.1 L821.1,550.3 L824.1,551.1 L827.1,551.2 L830.1,553.4 L833.1,556.4 L836.1,559.6 L839.1,562.3 L842.1,564.2 L845.1,564.8 L848.1,566.4 L851.1,568.5 L854.1,570.6 L857.1,570.9 L860.1,572.0 L863.1,571.5 L866.1,571.5 L869.1,570.0 L872.1,569.5 L875.1,569.6 L878.1,570.5 L881.1,571.8 L884.1,571.9 L887.1,570.9 L890.1,570.2 L893.1,570.2 L896.1,569.5 L899.1,569.0 L902.1,568.2 L905.1,567.8 L908.1,566.9 L911.1,565.9 L914.1,562.4 L917.1,561.6 L920.1,561.3 L923.1,562.2 L926.1,559.7 L929.1,556.1 L932.1,557.1 L935.1,559.3 L938.1,562.9 L941.1,565.0 L944.1,568.9 L947.1,570.6 L950.1,569.2 L953.1,568.4 L956.1,566.6 L959.1,566.7 L962.1,565.8 L965.1,565.8 L968.1,567.1 L971.1,566.1 L974.1,566.7 L977.1,567.2 L980.1,568.5 L983.1,567.9 L986.1,566.3 L989.1,564.9 L992.1,564.7 L995.1,564.8 L998.1,565.9 L1001.1,566.3 L1004.1,565.0 L1007.1,563.3 L1010.1,561.1 L1013.1,558.2 L1016.1,556.7 L1019.1,555.5 L1022.1,556.1 L1025.1,557.4 L1028.1,557.6 L1031.1,559.1 L1034.1,559.0 L1037.1,559.6 L1040.1,558.7 L1043.1,558.6 L1046.1,557.7 L1049.1,555.2 L1052.1,553.0 L1055.1,551.0 L1058.1,550.0 L1061.1,547.4 L1064.1,541.9 L1067.1,537.5 L1070.1,533.1 L1073.1,530.9 L1076.1,531.3 L1079.1,530.3 L1082.1,535.3 L1085.1,538.9 L1088.1,542.6 L1091.1,545.6 L1094.1,552.1 L1097.1,555.2 L1100.1,556.9 L1103.1,559.1 L1106.1,559.3 L1109.1,562.1 L1112.1,564.6 L1115.1,566.3 L1118.1,568.2 L1121.1,567.4 L1124.1,568.8 L1127.1,568.5 L1130.1,570.3 L1133.1,570.1 L1136.1,570.9 L1139.1,572.5 L1142.1,571.3 L1145.1,570.8 L1148.1,569.0 L1151.1,570.8 L1154.1,570.3 L1157.1,570.9 L1160.1,569.6 L1163.1,570.1 L1166.1,570.5 L1169.1,570.5 L1172.1,570.1 L1175.1,568.5 L1178.1,569.0 L1181.1,569.6 L1184.1,570.3 L1187.1,570.9 L1190.1,568.9 L1193.1,568.1 L1196.1,566.4 L1199.1,567.6 L1202.1,569.1 L1205.1,570.3 L1208.1,570.8 L1211.1,571.5 L1214.1,571.5 L1217.1,570.9 L1220.1,569.8 L1223.1,571.9 L1226.1,571.4 L1229.1,572.4 L1232.1,572.2 L1235.1,574.2 L1238.1,573.7 L1241.1,572.5 L1244.1,572.7 L1247.1,574.0 L1250.1,573.2 L1253.1,573.1 L1256.1,572.3 L1259.1,573.6 L1262.1,573.9 L1265.1,573.4 L1268.1,571.5 L1271.1,570.7 L1274.1,572.0 L1277.1,573.4 L1280.1,573.2 L1283.1,573.5 L1286.1,572.2 L1289.1,572.6 L1292.1,570.4 L1295.1,571.1 L1298.1,570.4 L1301.1,571.7 L1304.1,571.0 L1307.1,570.4 L1310.1,568.2 L1313.1,569.1 L1316.1,568.9 L1319.1,569.2 L1322.1,567.2 L1325.1,566.2 L1328.1,565.7 L1331.1,565.3 L1334.1,565.0 L1337.1,563.6 L1340.1,562.5 L1343.1,560.0 L1346.1,559.3 L1349.1,558.7 L1352.1,560.7 L1355.1,560.1 L1358.1,560.3 L1361.1,559.7 L1364.1,561.9 L1367.1,564.8 L1370.1,567.6 L1373.1,569.1 L1376.1,569.4 L1379.1,570.4 L1382.1,571.2 L1385.1,572.3 L1388.1,572.0 L1391.1,570.7 L1394.1,570.2 L1397.1,571.0 L1400.1,572.3 L1403.1,572.5 L1406.1,571.1 L1409.1,571.0 L1412.1,570.3 L1415.1,569.0 L1418.1,567.0 L1421.1,562.5 L1424.1,560.7 L1427.1,558.4 L1430.1,557.7 L1433.1,560.6 L1436.1,564.3 L1439.1,566.1 L1442.1,568.0 L1445.1,569.5 L1448.1,571.2 L1451.1,572.1 L1454.1,571.7 L1457.1,572.4 L1460.1,571.9 L1463.1,572.5 L1466.1,574.1 L1469.1,574.4 L1472.1,574.7 L1475.1,573.6 L1478.1,574.9 L1481.1,575.7 L1484.1,577.2 L1487.1,576.8 L1490.1,576.4 L1493.1,575.7 L1496.1,576.2 L1499.1,576.3 L1502.1,576.8 L1505.1,577.9 L1508.1,578.0 L1511.1,577.7 L1514.1,577.3 L1517.1,577.1 L1520.1,576.4 L1523.1,574.6 L1526.1,575.2 L1529.1,576.0 L1532.1,576.5 L1535.1,576.2 L1538.1,576.6 L1541.1,577.4 L1544.1,576.5 L1547.1,575.6 L1550.1,575.2 L1553.1,576.7 L1556.1,576.6 L1559.1,576.1 L1562.1,575.4 L1565.1,574.4 L1568.1,574.9 L1571.1,574.8 L1574.1,576.4 L1577.1,575.8 L1580.1,576.0 L1583.1,575.0 L1586.1,575.1 L1589.1,575.9 L1592.1,576.3 L1595.1,577.3 L1598.1,576.0 L1601.1,576.3 L1604.1,574.8 L1607.1,575.1 L1610.1,574.7 L1613.1,576.2 L1616.1,576.5 L1619.1,576.7 L1622.1,576.8 L1625.1,576.8 L1628.1,577.2 L1631.1,577.1 L1634.1,576.8 L1637.1,576.2 L1640.1,575.8 L1643.1,575.5 L1646.1,575.9 L1649.1,576.4 L1652.1,577.2 L1655.1,576.6 L1658.1,574.8 L1661.1,574.1 L1664.1,574.2 L1667.1,575.8 L1670.1,575.5 L1673.1,575.3 L1676.1,575.0 L1679.1,574.9 L1682.1,574.8 L1685.1,575.5 L1688.1,577.1 L1691.1,577.9 L1694.1,577.1 L1697.1,575.7 L1700.1,575.8 L1703.1,575.9 L1706.1,577.0 L1709.1,576.5 L1712.1,576.6 L1715.1,576.6 L1718.1,577.4 L1721.1,578.6 L1724.1,579.2 L1727.1,578.1 L1730.1,576.6 L1733.1,575.5 L1736.1,576.3 L1739.1,577.4 L1742.1,578.9 L1745.1,579.2 L1748.1,579.1 L1751.1,578.4 L1754.1,577.9 L1757.1,576.9 L1760.1,577.0 L1763.1,579.0 L1766.1,579.2 L1769.1,580.7 L1772.1,580.8 L1775.1,581.7 L1778.1,580.9 L1781.1,579.8 L1784.1,580.1 L1787.1,580.8 L1790.1,581.4 L1793.1,582.3 L1796.1,582.8 L1799.1,583.2 L1802.1,583.0 L1805.1,582.3 L1808.1,582.5 L1811.1,581.7 L1814.1,582.2 L1817.1,582.3 L1820.1,582.6 L1823.1,584.0 L1826.1,583.2 L1829.1,583.3 L1832.1,582.1 L1835.1,581.6 L1838.1,581.7 L1841.1,580.5 L1844.1,581.3 L1847.1,581.8 L1850.1,583.2 L1853.1,584.7 L1856.1,585.4 L1859.1,586.1 L1862.1,585.9 L1865.1,585.1 L1868.1,585.1 L1871.1,584.4 L1874.1,584.4 L1877.1,584.8"/>
<path fill="#ff0a1e" d="M242.1,730.6 L244.1,729.0 L246.1,727.0 L248.1,725.6 L250.1,723.5 L252.1,724.4 L254.1,724.3 L256.1,724.1 L258.1,723.6 L260.1,722.9 L262.1,721.6 L264.1,721.2 L266.1,721.5 L268.1,719.8 L270.1,720.0 L272.1,720.0 L274.1,719.4 L276.1,719.7 L278.1,719.7 L280.1,719.9 L282.1,719.4 L284.1,719.8 L286.1,719.7 L288.1,721.6 L290.1,721.2 L292.1,722.3 L294.1,721.8 L296.1,721.0 L298.1,721.4 L300.1,722.2 L302.1,721.4 L304.1,722.0 L306.1,723.1 L308.1,723.8 L310.1,724.7 L312.1,726.4 L314.1,725.8 L316.1,725.8 L318.1,725.1 L320.1,724.7 L322.1,724.5 L324.1,725.6 L326.1,727.0 L328.1,727.7 L330.1,727.4 L332.1,726.5 L334.1,728.2 L336.1,726.6 L338.1,726.5 L340.1,727.9 L342.1,729.3 L344.1,729.5 L346.1,731.0 L348.1,732.0 L350.1,732.3 L352.1,735.8 L354.1,737.4 L356.1,738.7 L358.1,739.5 L360.1,739.6 L362.1,738.4 L364.1,740.0 L366.1,739.9 L368.1,739.2 L370.1,739.9 L372.1,739.8 L374.1,737.3 L376.1,739.0 L378.1,739.3 L380.1,739.1 L382.1,739.9 L384.1,740.9 L386.1,739.6 L388.1,740.5 L390.1,742.8 L392.1,743.8 L394.1,745.2 L396.1,745.2 L398.1,745.3 L400.1,743.8 L402.1,744.8 L404.1,745.2 L406.1,747.2 L408.1,748.2 L410.1,749.6 L412.1,749.0 L414.1,750.5 L416.1,749.7 L418.1,748.3 L420.1,747.9 L422.1,747.8 L424.1,747.0 L426.1,748.1 L428.1,748.4 L430.1,748.2 L432.1,747.7 L434.1,747.1 L436.1,744.1 L438.1,742.3 L440.1,739.0 L442.1,735.7 L444.1,733.0 L446.1,731.8 L448.1,729.8 L450.1,731.3 L452.1,731.0 L454.1,731.4 L456.1,733.5 L458.1,734.1 L460.1,734.9 L462.1,737.2 L464.1,736.8 L466.1,730.4 L468.1,724.7 L470.1,718.8 L472.1,711.4 L474.1,705.2 L476.1,697.9 L478.1,688.8 L480.1,682.5 L482.1,675.9 L484.1,668.4 L486.1,657.1 L488.1,650.7 L490.1,643.2 L492.1,640.0 L494.1,635.5 L496.1,634.8 L498.1,633.5 L500.1,636.7 L502.1,638.7 L504.1,646.9 L506.1,653.1 L508.1,668.0 L510.1,681.8 L512.1,701.2 L514.1,712.5 L516.1,722.7 L518.1,730.7 L520.1,738.5 L522.1,744.7 L524.1,752.6 L526.1,757.7 L528.1,759.6 L530.1,763.8 L532.1,765.5 L534.1,765.7 L536.1,765.5 L538.1,764.6 L540.1,763.7 L542.1,764.9 L544.1,765.7 L546.1,765.7 L548.1,768.0 L550.1,767.4 L552.1,766.7 L554.1,767.2 L556.1,768.6 L558.1,768.1 L560.1,770.5 L562.1,772.3 L564.1,771.9 L566.1,772.0 L568.1,769.8 L570.1,766.2 L572.1,763.7 L574.1,762.4 L576.1,761.3 L578.1,762.2 L580.1,763.5 L582.1,763.8 L584.1,765.1 L586.1,765.0 L588.1,764.4 L590.1,764.4 L592.1,762.4 L594.1,759.9 L596.1,758.3 L598.1,758.9 L600.1,755.6 L602.1,753.1 L604.1,747.0 L606.1,741.4 L608.1,734.3 L610.1,728.6 L612.1,722.1 L614.1,716.6 L616.1,711.8 L618.1,698.7 L620.1,683.9 L622.1,669.4 L624.1,658.4 L626.1,647.5 L628.1,636.2 L630.1,622.4 L632.1,619.4 L634.1,617.8 L636.1,616.1 L638.1,616.7 L640.1,617.5 L642.1,618.4 L644.1,623.1 L646.1,627.5 L648.1,635.5 L650.1,645.1 L652.1,656.9 L654.1,679.8 L656.1,705.1 L658.1,717.8 L660.1,732.0 L662.1,745.1 L664.1,754.6 L666.1,761.0 L668.1,769.2 L670.1,773.9 L672.1,777.7 L674.1,779.6 L676.1,782.5 L678.1,785.5 L680.1,789.0 L682.1,789.8 L684.1,791.1 L686.1,792.1 L688.1,792.2 L690.1,793.5 L692.1,794.3 L694.1,795.4 L696.1,796.8 L698.1,797.5 L700.1,799.3 L702.1,799.1 L704.1,798.9 L706.1,800.0 L708.1,800.2 L710.1,798.3 L712.1,800.8 L714.1,801.9 L716.1,800.3 L718.1,800.7 L720.1,800.5 L722.1,797.9 L724.1,796.7 L726.1,796.6 L728.1,794.6 L730.1,794.4 L732.1,793.9 L734.1,793.4 L736.1,794.7 L738.1,797.0 L740.1,797.9 L742.1,798.7 L744.1,798.7 L746.1,799.6 L748.1,801.1 L750.1,803.0 L752.1,804.3 L754.1,805.7 L756.1,804.9 L758.1,804.3 L760.1,803.2 L762.1,804.0 L764.1,803.6 L766.1,804.0 L768.1,803.6 L770.1,803.2 L772.1,802.7 L774.1,803.2 L776.1,806.3 L778.1,806.7 L780.1,807.6 L782.1,807.1 L784.1,807.2 L786.1,803.2 L788.1,802.3 L790.1,802.6 L792.1,802.6 L794.1,803.0 L796.1,805.1 L798.1,805.3 L800.1,804.8 L802.1,804.8 L804.1,802.9 L806.1,802.5 L808.1,803.5 L810.1,804.3 L812.1,805.5 L814.1,806.2 L816.1,806.2 L818.1,804.9 L820.1,804.8 L822.1,805.7 L824.1,807.2 L826.1,806.7 L828.1,807.6 L830.1,808.7 L832.1,809.0 L834.1,807.2 L836.1,807.3 L838.1,807.8 L840.1,807.9 L842.1,806.4 L844.1,808.3 L846.1,808.7 L848.1,810.5 L850.1,810.3 L852.1,811.1 L854.1,810.8 L856.1,812.1 L858.1,811.2 L860.1,810.5 L862.1,811.1 L864.1,810.7 L866.1,809.8 L868.1,808.7 L870.1,808.9 L872.1,808.6 L874.1,809.1 L876.1,810.4 L878.1,812.0 L880.1,812.6 L882.1,812.2 L884.1,813.3 L886.1,811.3 L888.1,809.3 L890.1,809.8 L892.1,810.9 L894.1,810.9 L896.1,812.0 L898.1,812.3 L900.1,811.3 L902.1,811.1 L904.1,809.7 L906.1,809.2 L908.1,809.0 L910.1,808.4 L912.1,808.4 L914.1,809.1 L916.1,808.6 L918.1,808.7 L920.1,809.0 L922.1,808.7 L924.1,807.4 L926.1,808.0 L928.1,807.2 L930.1,806.6 L932.1,806.4 L934.1,807.8 L936.1,807.0 L938.1,807.8 L940.1,809.2 L942.1,808.5 L944.1,807.4 L946.1,808.5 L948.1,809.1 L950.1,809.2 L952.1,809.9 L954.1,809.8 L956.1,809.3 L958.1,809.0 L960.1,807.2 L962.1,805.8 L964.1,806.6 L966.1,805.3 L968.1,805.7 L970.1,806.5 L972.1,806.7 L974.1,806.1 L976.1,807.2 L978.1,807.0 L980.1,806.2 L982.1,805.8 L984.1,804.9 L986.1,805.6 L988.1,805.1 L990.1,804.3 L992.1,803.9 L994.1,803.3 L996.1,801.7 L998.1,801.0 L1000.1,803.1 L1002.1,801.9 L1004.1,803.0 L1006.1,803.1 L1008.1,802.3 L1010.1,800.4 L1012.1,801.1 L1014.1,800.3 L1016.1,800.5 L1018.1,799.7 L1020.1,800.6 L1022.1,800.6 L1024.1,801.5 L1026.1,800.9 L1028.1,802.7 L1030.1,802.1 L1032.1,803.0 L1034.1,801.8 L1036.1,800.8 L1038.1,800.3 L1040.1,800.1 L1042.1,798.1 L1044.1,793.9 L1046.1,793.2 L1048.1,792.7 L1050.1,790.7 L1052.1,788.3 L1054.1,790.5 L1056.1,791.0 L1058.1,786.1 L1060.1,784.4 L1062.1,780.5 L1064.1,774.1 L1066.1,767.3 L1068.1,761.1 L1070.1,751.9 L1072.1,737.6 L1074.1,729.4 L1076.1,717.8 L1078.1,706.7 L1080.1,700.1 L1082.1,697.3 L1084.1,695.5 L1086.1,696.4 L1088.1,696.1 L1090.1,703.0 L1092.1,711.0 L1094.1,717.7 L1096.1,723.4 L1098.1,731.2 L1100.1,738.1 L1102.1,743.4 L1104.1,748.9 L1106.1,757.7 L1108.1,767.6 L1110.1,776.8 L1112.1,784.1 L1114.1,790.4 L1116.1,795.7 L1118.1,798.0 L1120.1,801.2 L1122.1,803.3 L1124.1,804.2 L1126.1,804.6 L1128.1,805.5 L1130.1,805.6 L1132.1,807.3 L1134.1,807.7 L1136.1,808.3 L1138.1,809.6 L1140.1,808.1 L1142.1,807.6 L1144.1,807.5 L1146.1,807.4 L1148.1,807.1 L1150.1,807.9 L1152.1,807.6 L1154.1,809.1 L1156.1,810.3 L1158.1,811.1 L1160.1,811.6 L1162.1,812.9 L1164.1,812.3 L1166.1,812.6 L1168.1,813.4 L1170.1,813.2 L1172.1,812.7 L1174.1,812.2 L1176.1,808.8 L1178.1,806.2 L1180.1,806.4 L1182.1,806.6 L1184.1,806.3 L1186.1,809.5 L1188.1,811.4 L1190.1,811.1 L1192.1,811.7 L1194.1,813.3 L1196.1,812.8 L1198.1,811.3 L1200.1,812.6 L1202.1,811.6 L1204.1,810.2 L1206.1,810.0 L1208.1,810.4 L1210.1,810.2 L1212.1,810.9 L1214.1,812.1 L1216.1,812.5 L1218.1,812.4 L1220.1,811.6 L1222.1,811.7 L1224.1,810.6 L1226.1,812.3 L1228.1,812.8 L1230.1,812.6 L1232.1,812.8 L1234.1,813.7 L1236.1,811.7 L1238.1,811.8 L1240.1,812.6 L1242.1,812.4 L1244.1,812.5 L1246.1,812.4 L1248.1,812.9 L1250.1,813.3 L1252.1,813.3 L1254.1,810.7 L1256.1,810.3 L1258.1,809.5 L1260.1,808.8 L1262.1,808.5 L1264.1,811.4 L1266.1,812.5 L1268.1,813.0 L1270.1,813.1 L1272.1,814.0 L1274.1,812.7 L1276.1,812.3 L1278.1,813.3 L1280.1,813.3 L1282.1,810.5 L1284.1,811.0 L1286.1,810.3 L1288.1,808.9 L1290.1,809.2 L1292.1,810.8 L1294.1,810.1 L1296.1,810.8 L1298.1,811.0 L1300.1,810.1 L1302.1,809.8 L1304.1,809.9 L1306.1,808.4 L1308.1,807.1 L1310.1,806.4 L1312.1,804.8 L1314.1,803.1 L1316.1,803.6 L1318.1,803.0 L1320.1,802.3 L1322.1,802.2 L1324.1,802.5 L1326.1,800.9 L1328.1,800.4 L1330.1,799.2 L1332.1,799.2 L1334.1,797.0 L1336.1,796.1 L1338.1,793.0 L1340.1,791.2 L1342.1,789.6 L1344.1,788.3 L1346.1,785.5 L1348.1,786.3 L1350.1,785.5 L1352.1,784.1 L1354.1,781.9 L1356.1,781.2 L1358.1,780.1 L1360.1,782.0 L1362.1,783.3 L1364.1,785.1 L1366.1,787.3 L1368.1,788.1 L1370.1,787.8 L1372.1,788.0 L1374.1,792.2 L1376.1,793.5 L1378.1,795.9 L1380.1,798.2 L1382.1,800.0 L1384.1,800.7 L1386.1,801.6 L1388.1,804.2 L1390.1,805.4 L1392.1,805.4 L1394.1,806.0 L1396.1,806.6 L1398.1,805.5 L1400.1,806.0 L1402.1,806.7 L1404.1,806.2 L1406.1,805.7 L1408.1,804.6 L1410.1,803.1 L1412.1,802.1 L1414.1,801.4 L1416.1,801.3 L1418.1,801.1 L1420.1,800.3 L1422.1,800.2 L1424.1,798.3 L1426.1,797.4 L1428.1,796.3 L1430.1,795.5 L1432.1,793.6 L1434.1,794.2 L1436.1,794.4 L1438.1,794.6 L1440.1,794.4 L1442.1,795.3 L1444.1,796.3 L1446.1,796.0 L1448.1,797.5 L1450.1,799.9 L1452.1,801.8 L1454.1,801.5 L1456.1,803.3 L1458.1,805.1 L1460.1,805.1 L1462.1,806.9 L1464.1,809.8 L1466.1,811.4 L1468.1,811.8 L1470.1,812.9 L1472.1,813.3 L1474.1,814.3 L1476.1,815.7 L1478.1,817.5 L1480.1,819.0 L1482.1,820.5 L1484.1,821.2 L1486.1,819.6 L1488.1,818.7 L1490.1,818.3 L1492.1,818.0 L1494.1,817.5 L1496.1,818.4 L1498.1,818.2 L1500.1,819.2 L1502.1,819.5 L1504.1,818.5 L1506.1,818.6 L1508.1,818.3 L1510.1,819.0 L1512.1,818.4 L1514.1,819.2 L1516.1,819.2 L1518.1,819.9 L1520.1,818.7 L1522.1,820.2 L1524.1,820.6 L1526.1,821.2 L1528.1,822.1 L1530.1,821.5 L1532.1,821.7 L1534.1,822.0 L1536.1,822.1 L1538.1,820.8 L1540.1,822.1 L1542.1,821.2 L1544.1,820.4 L1546.1,821.4 L1548.1,822.4 L1550.1,821.7 L1552.1,821.6 L1554.1,822.6 L1556.1,821.8 L1558.1,821.9 L1560.1,822.9 L1562.1,823.9 L1564.1,822.4 L1566.1,821.3 L1568.1,820.3 L1570.1,819.5 L1572.1,819.5 L1574.1,820.9 L1576.1,820.5 L1578.1,821.0 L1580.1,821.7 L1582.1,820.3 L1584.1,819.8 L1586.1,820.7 L1588.1,819.6 L1590.1,819.4 L1592.1,819.9 L1594.1,820.4 L1596.1,819.4 L1598.1,820.1 L1600.1,819.1 L1602.1,819.0 L1604.1,818.7 L1606.1,819.4 L1608.1,821.2 L1610.1,822.5 L1612.1,821.8 L1614.1,821.2 L1616.1,822.3 L1618.1,820.8 L1620.1,820.8 L1622.1,822.4 L1624.1,822.4 L1626.1,821.0 L1628.1,821.3 L1630.1,819.7 L1632.1,817.8 L1634.1,817.9 L1636.1,818.6 L1638.1,818.2 L1640.1,818.7 L1642.1,819.0 L1644.1,818.3 L1646.1,818.7 L1648.1,817.2 L1650.1,816.8 L1652.1,817.3 L1654.1,817.2 L1656.1,816.4 L1658.1,818.8 L1660.1,818.5 L1662.1,818.1 L1664.1,818.1 L1666.1,817.9 L1668.1,816.9 L1670.1,817.5 L1672.1,818.2 L1674.1,819.1 L1676.1,819.6 L1678.1,819.8 L1680.1,818.7 L1682.1,817.7 L1684.1,817.6 L1686.1,815.5 L1688.1,815.8 L1690.1,816.6 L1692.1,816.6 L1694.1,815.6 L1696.1,816.6 L1698.1,815.8 L1700.1,815.5 L1702.1,815.3 L1704.1,814.4 L1706.1,815.2 L1708.1,814.2 L1710.1,812.8 L1712.1,812.1 L1714.1,812.9 L1716.1,812.3 L1718.1,812.4 L1720.1,814.1 L1722.1,814.0 L1724.1,816.1 L1726.1,816.1 L1728.1,818.0 L1730.1,817.1 L1732.1,818.2 L1734.1,815.9 L1736.1,815.5 L1738.1,814.2 L1740.1,813.4 L1742.1,811.8 L1744.1,811.3 L1746.1,809.4 L1748.1,808.0 L1750.1,808.1 L1752.1,807.5 L1754.1,808.0 L1756.1,809.0 L1758.1,808.2 L1760.1,808.1 L1762.1,808.8 L1764.1,809.1 L1766.1,809.0 L1768.1,811.2 L1770.1,812.9 L1772.1,814.2 L1774.1,814.9 L1776.1,817.6 L1778.1,819.0 L1780.1,818.8 L1782.1,819.0 L1784.1,820.7 L1786.1,819.5 L1788.1,819.3 L1790.1,819.9 L1792.1,819.6 L1794.1,818.7 L1796.1,818.3 L1798.1,817.7 L1800.1,816.4 L1802.1,818.6 L1804.1,819.9 L1806.1,822.0 L1808.1,822.6 L1810.1,824.8 L1812.1,824.2 L1814.1,824.0 L1816.1,823.9 L1818.1,823.1 L1820.1,822.8 L1822.1,821.7 L1824.1,820.2 L1826.1,818.9 L1828.1,819.9 L1830.1,820.4 L1832.1,820.0 L1834.1,822.0 L1836.1,823.9 L1838.1,823.3 L1840.1,822.2 L1842.1,823.1 L1844.1,822.6 L1846.1,821.3 L1848.1,820.8 L1850.1,821.3 L1852.1,819.9 L1854.1,819.4 L1856.1,820.4 L1858.1,821.4 L1860.1,821.7 L1862.1,823.5 L1864.1,823.9 L1866.1,823.2 L1868.1,822.4 L1870.1,821.7 L1872.1,821.3 L1874.1,821.7 L1876.1,822.7 L1876.1,841.8 L1874.1,843.5 L1872.1,842.6 L1870.1,844.4 L1868.1,844.4 L1866.1,844.7 L1864.1,843.7 L1862.1,844.8 L1860.1,843.5 L1858.1,844.0 L1856.1,843.4 L1854.1,843.7 L1852.1,842.0 L1850.1,842.8 L1848.1,841.2 L1846.1,841.3 L1844.1,841.5 L1842.1,842.1 L1840.1,840.7 L1838.1,841.1 L1836.1,840.7 L1834.1,840.2 L1832.1,839.3 L1830.1,840.9 L1828.1,841.0 L1826.1,840.1 L1824.1,839.6 L1822.1,841.3 L1820.1,840.0 L1818.1,839.3 L1816.1,840.6 L1814.1,841.9 L1812.1,840.3 L1810.1,841.0 L1808.1,840.9 L1806.1,840.1 L1804.1,838.5 L1802.1,838.2 L1800.1,837.0 L1798.1,838.0 L1796.1,837.5 L1794.1,837.7 L1792.1,838.7 L1790.1,838.5 L1788.1,838.2 L1786.1,839.0 L1784.1,837.5 L1782.1,836.8 L1780.1,836.4 L1778.1,834.8 L1776.1,831.0 L1774.1,831.9 L1772.1,831.7 L1770.1,831.9 L1768.1,832.3 L1766.1,833.6 L1764.1,832.0 L1762.1,830.8 L1760.1,830.7 L1758.1,830.3 L1756.1,830.8 L1754.1,831.1 L1752.1,831.3 L1750.1,830.0 L1748.1,829.7 L1746.1,830.5 L1744.1,830.6 L1742.1,830.9 L1740.1,833.7 L1738.1,835.3 L1736.1,834.7 L1734.1,835.6 L1732.1,836.4 L1730.1,836.2 L1728.1,835.1 L1726.1,836.1 L1724.1,836.4 L1722.1,836.1 L1720.1,836.4 L1718.1,837.4 L1716.1,837.7 L1714.1,839.0 L1712.1,839.3 L1710.1,838.3 L1708.1,837.4 L1706.1,837.4 L1704.1,836.8 L1702.1,837.5 L1700.1,838.0 L1698.1,839.2 L1696.1,839.3 L1694.1,839.5 L1692.1,838.3 L1690.1,838.4 L1688.1,839.1 L1686.1,839.0 L1684.1,838.9 L1682.1,838.7 L1680.1,839.6 L1678.1,837.7 L1676.1,838.1 L1674.1,837.6 L1672.1,838.6 L1670.1,838.3 L1668.1,839.7 L1666.1,839.7 L1664.1,840.3 L1662.1,840.2 L1660.1,839.7 L1658.1,839.6 L1656.1,838.9 L1654.1,837.5 L1652.1,837.1 L1650.1,837.4 L1648.1,837.7 L1646.1,839.2 L1644.1,840.4 L1642.1,840.8 L1640.1,840.5 L1638.1,840.9 L1636.1,840.5 L1634.1,839.1 L1632.1,839.2 L1630.1,839.5 L1628.1,839.0 L1626.1,838.9 L1624.1,840.5 L1622.1,841.3 L1620.1,840.4 L1618.1,840.4 L1616.1,839.0 L1614.1,840.4 L1612.1,838.9 L1610.1,840.4 L1608.1,841.3 L1606.1,842.8 L1604.1,840.7 L1602.1,840.3 L1600.1,839.4 L1598.1,839.0 L1596.1,837.2 L1594.1,837.6 L1592.1,840.2 L1590.1,841.4 L1588.1,841.2 L1586.1,840.3 L1584.1,841.1 L1582.1,840.1 L1580.1,840.4 L1578.1,840.0 L1576.1,842.0 L1574.1,841.1 L1572.1,840.8 L1570.1,841.0 L1568.1,840.6 L1566.1,840.4 L1564.1,840.5 L1562.1,840.1 L1560.1,838.6 L1558.1,838.4 L1556.1,839.1 L1554.1,840.7 L1552.1,841.1 L1550.1,841.6 L1548.1,842.4 L1546.1,842.0 L1544.1,839.9 L1542.1,838.8 L1540.1,838.5 L1538.1,837.4 L1536.1,837.3 L1534.1,837.8 L1532.1,838.5 L1530.1,839.4 L1528.1,839.2 L1526.1,839.4 L1524.1,839.3 L1522.1,839.8 L1520.1,837.9 L1518.1,840.1 L1516.1,840.5 L1514.1,840.5 L1512.1,840.7 L1510.1,842.3 L1508.1,842.2 L1506.1,841.9 L1504.1,842.3 L1502.1,841.9 L1500.1,842.8 L1498.1,842.1 L1496.1,842.1 L1494.1,842.7 L1492.1,841.5 L1490.1,839.2 L1488.1,838.5 L1486.1,837.9 L1484.1,836.4 L1482.1,836.4 L1480.1,836.6 L1478.1,834.7 L1476.1,833.9 L1474.1,832.1 L1472.1,832.0 L1470.1,830.5 L1468.1,830.6 L1466.1,828.8 L1464.1,828.2 L1462.1,826.9 L1460.1,825.7 L1458.1,824.3 L1456.1,825.7 L1454.1,826.0 L1452.1,825.1 L1450.1,824.2 L1448.1,823.0 L1446.1,820.7 L1444.1,820.0 L1442.1,819.7 L1440.1,820.4 L1438.1,820.4 L1436.1,818.5 L1434.1,817.0 L1432.1,815.4 L1430.1,815.0 L1428.1,816.2 L1426.1,819.6 L1424.1,821.1 L1422.1,824.1 L1420.1,825.1 L1418.1,825.0 L1416.1,823.5 L1414.1,822.7 L1412.1,821.8 L1410.1,822.2 L1408.1,823.5 L1406.1,824.8 L1404.1,826.3 L1402.1,827.0 L1400.1,829.4 L1398.1,829.2 L1396.1,828.7 L1394.1,827.9 L1392.1,828.2 L1390.1,825.6 L1388.1,826.4 L1386.1,828.4 L1384.1,828.8 L1382.1,829.2 L1380.1,830.3 L1378.1,828.3 L1376.1,824.7 L1374.1,821.4 L1372.1,815.9 L1370.1,812.9 L1368.1,810.0 L1366.1,806.3 L1364.1,803.7 L1362.1,803.7 L1360.1,801.0 L1358.1,801.6 L1356.1,804.3 L1354.1,807.0 L1352.1,808.7 L1350.1,811.0 L1348.1,811.3 L1346.1,812.5 L1344.1,813.1 L1342.1,813.8 L1340.1,814.4 L1338.1,816.5 L1336.1,818.1 L1334.1,819.2 L1332.1,821.4 L1330.1,823.1 L1328.1,824.3 L1326.1,825.4 L1324.1,827.7 L1322.1,828.2 L1320.1,828.4 L1318.1,828.1 L1316.1,827.8 L1314.1,826.9 L1312.1,826.5 L1310.1,827.5 L1308.1,829.0 L1306.1,829.5 L1304.1,831.0 L1302.1,832.5 L1300.1,832.2 L1298.1,832.2 L1296.1,832.9 L1294.1,833.4 L1292.1,831.9 L1290.1,832.5 L1288.1,833.5 L1286.1,833.9 L1284.1,834.4 L1282.1,836.2 L1280.1,835.5 L1278.1,835.4 L1276.1,835.4 L1274.1,834.6 L1272.1,834.5 L1270.1,835.4 L1268.1,835.0 L1266.1,834.9 L1264.1,833.6 L1262.1,832.6 L1260.1,832.5 L1258.1,831.9 L1256.1,831.2 L1254.1,832.9 L1252.1,832.3 L1250.1,831.1 L1248.1,831.2 L1246.1,832.1 L1244.1,830.8 L1242.1,831.4 L1240.1,832.6 L1238.1,832.6 L1236.1,832.7 L1234.1,833.2 L1232.1,833.6 L1230.1,834.5 L1228.1,834.0 L1226.1,833.3 L1224.1,835.2 L1222.1,834.4 L1220.1,833.4 L1218.1,834.2 L1216.1,834.7 L1214.1,832.1 L1212.1,831.4 L1210.1,831.3 L1208.1,830.7 L1206.1,829.3 L1204.1,830.9 L1202.1,831.5 L1200.1,832.8 L1198.1,833.6 L1196.1,834.4 L1194.1,833.5 L1192.1,833.3 L1190.1,831.7 L1188.1,831.4 L1186.1,831.2 L1184.1,831.6 L1182.1,832.0 L1180.1,832.1 L1178.1,832.1 L1176.1,832.1 L1174.1,831.5 L1172.1,832.1 L1170.1,831.2 L1168.1,830.6 L1166.1,830.7 L1164.1,829.8 L1162.1,829.9 L1160.1,829.8 L1158.1,829.8 L1156.1,829.3 L1154.1,830.7 L1152.1,829.7 L1150.1,829.0 L1148.1,828.3 L1146.1,827.6 L1144.1,826.5 L1142.1,826.0 L1140.1,827.5 L1138.1,827.6 L1136.1,827.9 L1134.1,826.1 L1132.1,826.0 L1130.1,824.5 L1128.1,823.2 L1126.1,822.3 L1124.1,823.5 L1122.1,823.7 L1120.1,823.6 L1118.1,823.0 L1116.1,822.2 L1114.1,819.2 L1112.1,816.3 L1110.1,812.1 L1108.1,809.1 L1106.1,806.6 L1104.1,804.6 L1102.1,797.6 L1100.1,792.2 L1098.1,786.9 L1096.1,782.4 L1094.1,775.0 L1092.1,766.5 L1090.1,757.8 L1088.1,750.0 L1086.1,747.4 L1084.1,746.0 L1082.1,750.0 L1080.1,754.8 L1078.1,758.5 L1076.1,761.0 L1074.1,765.0 L1072.1,776.9 L1070.1,786.8 L1068.1,792.2 L1066.1,797.6 L1064.1,801.6 L1062.1,805.7 L1060.1,809.5 L1058.1,812.7 L1056.1,816.3 L1054.1,816.8 L1052.1,817.3 L1050.1,815.7 L1048.1,815.2 L1046.1,814.7 L1044.1,815.2 L1042.1,813.8 L1040.1,815.2 L1038.1,816.2 L1036.1,817.1 L1034.1,817.4 L1032.1,818.3 L1030.1,818.3 L1028.1,818.9 L1026.1,818.7 L1024.1,818.7 L1022.1,819.7 L1020.1,820.8 L1018.1,821.6 L1016.1,823.0 L1014.1,825.6 L1012.1,825.1 L1010.1,825.0 L1008.1,825.8 L1006.1,826.2 L1004.1,825.3 L1002.1,826.9 L1000.1,827.6 L998.1,828.1 L996.1,828.6 L994.1,829.0 L992.1,829.2 L990.1,829.0 L988.1,827.7 L986.1,828.3 L984.1,827.6 L982.1,827.7 L980.1,827.7 L978.1,828.0 L976.1,827.3 L974.1,827.5 L972.1,827.9 L970.1,828.7 L968.1,830.3 L966.1,828.6 L964.1,830.3 L962.1,830.6 L960.1,830.0 L958.1,830.8 L956.1,831.9 L954.1,831.9 L952.1,832.6 L950.1,832.5 L948.1,831.1 L946.1,832.5 L944.1,830.7 L942.1,830.2 L940.1,830.2 L938.1,830.4 L936.1,829.7 L934.1,831.1 L932.1,829.7 L930.1,831.0 L928.1,831.0 L926.1,829.8 L924.1,829.3 L922.1,830.5 L920.1,831.2 L918.1,832.1 L916.1,832.5 L914.1,831.6 L912.1,832.1 L910.1,831.0 L908.1,830.7 L906.1,831.7 L904.1,832.7 L902.1,832.6 L900.1,832.7 L898.1,832.7 L896.1,832.7 L894.1,833.5 L892.1,832.5 L890.1,832.2 L888.1,832.6 L886.1,832.6 L884.1,833.4 L882.1,835.9 L880.1,836.7 L878.1,835.6 L876.1,836.1 L874.1,835.8 L872.1,834.1 L870.1,834.1 L868.1,834.7 L866.1,833.3 L864.1,832.6 L862.1,833.4 L860.1,832.9 L858.1,832.7 L856.1,833.3 L854.1,833.2 L852.1,832.0 L850.1,831.9 L848.1,834.1 L846.1,834.2 L844.1,833.8 L842.1,834.6 L840.1,834.6 L838.1,830.6 L836.1,830.8 L834.1,831.7 L832.1,832.5 L830.1,832.3 L828.1,832.9 L826.1,832.9 L824.1,831.8 L822.1,829.1 L820.1,830.0 L818.1,831.0 L816.1,830.4 L814.1,829.8 L812.1,829.5 L810.1,829.4 L808.1,828.4 L806.1,825.9 L804.1,826.2 L802.1,827.2 L800.1,826.6 L798.1,827.5 L796.1,828.7 L794.1,829.6 L792.1,830.2 L790.1,829.8 L788.1,829.6 L786.1,829.4 L784.1,828.0 L782.1,828.4 L780.1,827.4 L778.1,826.5 L776.1,827.1 L774.1,826.6 L772.1,824.4 L770.1,824.5 L768.1,823.6 L766.1,823.8 L764.1,822.8 L762.1,823.6 L760.1,822.6 L758.1,821.7 L756.1,822.0 L754.1,822.5 L752.1,822.5 L750.1,822.9 L748.1,824.7 L746.1,823.2 L744.1,823.4 L742.1,821.8 L740.1,821.5 L738.1,821.5 L736.1,822.2 L734.1,820.7 L732.1,821.9 L730.1,821.6 L728.1,820.8 L726.1,819.5 L724.1,819.7 L722.1,820.0 L720.1,820.7 L718.1,820.6 L716.1,821.9 L714.1,822.3 L712.1,820.9 L710.1,819.7 L708.1,818.7 L706.1,818.3 L704.1,817.3 L702.1,817.5 L700.1,817.7 L698.1,818.4 L696.1,816.1 L694.1,815.1 L692.1,815.0 L690.1,813.0 L688.1,812.4 L686.1,811.3 L684.1,811.3 L682.1,810.2 L680.1,810.1 L678.1,809.6 L676.1,809.5 L674.1,808.5 L672.1,807.9 L670.1,806.6 L668.1,802.6 L666.1,798.1 L664.1,793.3 L662.1,787.7 L660.1,779.6 L658.1,770.9 L656.1,763.3 L654.1,749.0 L652.1,735.0 L650.1,718.2 L648.1,702.1 L646.1,688.9 L644.1,680.4 L642.1,673.1 L640.1,670.2 L638.1,667.8 L636.1,664.9 L634.1,669.4 L632.1,674.4 L630.1,681.5 L628.1,694.6 L626.1,709.1 L624.1,720.5 L622.1,730.3 L620.1,738.0 L618.1,747.9 L616.1,754.1 L614.1,758.3 L612.1,763.4 L610.1,769.3 L608.1,773.2 L606.1,777.3 L604.1,779.6 L602.1,781.2 L600.1,780.2 L598.1,779.7 L596.1,780.6 L594.1,783.7 L592.1,785.6 L590.1,787.7 L588.1,789.0 L586.1,789.8 L584.1,789.4 L582.1,788.7 L580.1,788.0 L578.1,788.5 L576.1,789.8 L574.1,790.8 L572.1,792.8 L570.1,793.9 L568.1,794.8 L566.1,792.9 L564.1,791.1 L562.1,791.7 L560.1,790.9 L558.1,790.6 L556.1,790.6 L554.1,790.6 L552.1,789.6 L550.1,790.7 L548.1,790.8 L546.1,791.7 L544.1,792.4 L542.1,792.9 L540.1,791.4 L538.1,791.6 L536.1,791.4 L534.1,791.5 L532.1,789.9 L530.1,788.2 L528.1,784.2 L526.1,779.7 L524.1,772.6 L522.1,765.5 L520.1,758.8 L518.1,753.1 L516.1,749.2 L514.1,744.4 L512.1,737.4 L510.1,727.6 L508.1,716.9 L506.1,704.2 L504.1,694.0 L502.1,686.5 L500.1,683.3 L498.1,678.0 L496.1,675.7 L494.1,681.4 L492.1,688.1 L490.1,693.4 L488.1,700.1 L486.1,707.5 L484.1,719.5 L482.1,725.4 L480.1,731.4 L478.1,737.9 L476.1,745.5 L474.1,749.0 L472.1,751.1 L470.1,754.6 L468.1,755.7 L466.1,755.9 L464.1,758.3 L462.1,758.9 L460.1,757.6 L458.1,757.3 L456.1,758.9 L454.1,759.3 L452.1,759.0 L450.1,761.3 L448.1,763.6 L446.1,765.3 L444.1,767.8 L442.1,770.0 L440.1,771.0 L438.1,772.5 L436.1,774.6 L434.1,773.5 L432.1,775.4 L430.1,775.4 L428.1,774.7 L426.1,775.1 L424.1,775.1 L422.1,774.6 L420.1,775.7 L418.1,777.3 L416.1,776.7 L414.1,776.5 L412.1,775.5 L410.1,773.9 L408.1,772.6 L406.1,772.1 L404.1,772.6 L402.1,773.4 L400.1,774.1 L398.1,774.1 L396.1,774.7 L394.1,775.3 L392.1,775.3 L390.1,775.3 L388.1,774.8 L386.1,776.3 L384.1,776.6 L382.1,776.2 L380.1,777.2 L378.1,778.5 L376.1,776.0 L374.1,774.3 L372.1,773.2 L370.1,771.3 L368.1,768.7 L366.1,767.5 L364.1,766.9 L362.1,765.1 L360.1,765.1 L358.1,764.6 L356.1,762.8 L354.1,761.4 L352.1,761.6 L350.1,760.2 L348.1,759.2 L346.1,758.1 L344.1,756.8 L342.1,755.6 L340.1,754.9 L338.1,754.3 L336.1,754.7 L334.1,755.2 L332.1,755.2 L330.1,754.1 L328.1,753.4 L326.1,753.1 L324.1,755.4 L322.1,755.1 L320.1,755.2 L318.1,756.4 L316.1,756.9 L314.1,753.4 L312.1,753.7 L310.1,754.0 L308.1,752.7 L306.1,753.1 L304.1,754.3 L302.1,753.4 L300.1,753.1 L298.1,752.6 L296.1,751.6 L294.1,749.0 L292.1,749.8 L290.1,749.7 L288.1,750.6 L286.1,750.4 L284.1,751.5 L282.1,750.4 L280.1,749.2 L278.1,749.1 L276.1,749.4 L274.1,750.0 L272.1,751.0 L270.1,752.7 L268.1,752.7 L266.1,753.3 L264.1,753.3 L262.1,752.4 L260.1,751.5 L258.1,752.2 L256.1,750.5 L254.1,750.4 L252.1,751.0 L250.1,752.7 L248.1,753.0 L246.1,754.0 L244.1,754.5 L242.1,755.6 Z"/>
<path fill="none" stroke="#ff0a1e" stroke-width="12" stroke-linejoin="round" d="M242.1,741.2 L245.1,741.8 L248.1,739.6 L251.1,739.5 L254.1,737.5 L257.1,737.7 L260.1,737.0 L263.1,736.4 L266.1,735.7 L269.1,736.4 L272.1,737.2 L275.1,738.0 L278.1,737.2 L281.1,736.1 L284.1,734.5 L287.1,735.3 L290.1,736.7 L293.1,738.2 L296.1,739.0 L299.1,739.9 L302.1,740.9 L305.1,741.5 L308.1,740.9 L311.1,739.7 L314.1,738.7 L317.1,738.3 L320.1,740.1 L323.1,740.0 L326.1,740.1 L329.1,739.1 L332.1,739.8 L335.1,740.3 L338.1,741.9 L341.1,743.0 L344.1,744.6 L347.1,745.6 L350.1,746.6 L353.1,748.0 L356.1,750.4 L359.1,749.8 L362.1,750.9 L365.1,751.3 L368.1,755.2 L371.1,755.8 L374.1,757.2 L377.1,758.3 L380.1,759.4 L383.1,757.6 L386.1,756.7 L389.1,756.0 L392.1,757.8 L395.1,757.4 L398.1,759.6 L401.1,760.1 L404.1,760.9 L407.1,760.1 L410.1,760.0 L413.1,761.7 L416.1,763.6 L419.1,763.8 L422.1,763.8 L425.1,761.6 L428.1,761.6 L431.1,762.1 L434.1,761.0 L437.1,760.8 L440.1,756.5 L443.1,753.0 L446.1,748.1 L449.1,744.1 L452.1,746.1 L455.1,746.7 L458.1,747.1 L461.1,747.3 L464.1,748.3 L467.1,743.5 L470.1,736.8 L473.1,730.9 L476.1,721.6 L479.1,713.8 L482.1,702.5 L485.1,689.0 L488.1,675.2 L491.1,667.1 L494.1,660.4 L497.1,655.3 L500.1,657.9 L503.1,664.3 L506.1,677.3 L509.1,697.0 L512.1,719.3 L515.1,731.8 L518.1,744.1 L521.1,753.9 L524.1,763.3 L527.1,768.2 L530.1,772.2 L533.1,775.9 L536.1,778.1 L539.1,780.9 L542.1,781.4 L545.1,781.1 L548.1,780.3 L551.1,779.9 L554.1,780.6 L557.1,781.5 L560.1,782.7 L563.1,782.7 L566.1,781.1 L569.1,778.2 L572.1,777.0 L575.1,774.7 L578.1,774.7 L581.1,774.6 L584.1,775.7 L587.1,775.0 L590.1,775.0 L593.1,774.4 L596.1,773.0 L599.1,770.4 L602.1,767.9 L605.1,761.7 L608.1,756.5 L611.1,747.2 L614.1,739.5 L617.1,726.7 L620.1,710.6 L623.1,693.3 L626.1,678.6 L629.1,658.8 L632.1,646.6 L635.1,639.9 L638.1,642.1 L641.1,644.8 L644.1,655.3 L647.1,664.4 L650.1,683.8 L653.1,706.4 L656.1,734.8 L659.1,751.4 L662.1,767.2 L665.1,776.1 L668.1,785.8 L671.1,791.8 L674.1,793.7 L677.1,795.3 L680.1,797.3 L683.1,799.9 L686.1,802.0 L689.1,804.0 L692.1,805.0 L695.1,806.3 L698.1,806.1 L701.1,805.1 L704.1,805.8 L707.1,806.3 L710.1,808.4 L713.1,808.3 L716.1,810.7 L719.1,810.1 L722.1,810.7 L725.1,809.4 L728.1,808.9 L731.1,807.0 L734.1,807.2 L737.1,809.2 L740.1,811.9 L743.1,813.7 L746.1,814.5 L749.1,815.0 L752.1,814.3 L755.1,814.2 L758.1,813.7 L761.1,813.2 L764.1,814.6 L767.1,813.5 L770.1,814.5 L773.1,813.6 L776.1,815.3 L779.1,814.6 L782.1,814.4 L785.1,814.1 L788.1,814.3 L791.1,814.6 L794.1,814.9 L797.1,815.5 L800.1,816.2 L803.1,816.0 L806.1,817.0 L809.1,816.3 L812.1,817.6 L815.1,817.6 L818.1,818.5 L821.1,817.7 L824.1,817.4 L827.1,816.8 L830.1,817.9 L833.1,819.3 L836.1,821.0 L839.1,820.8 L842.1,820.6 L845.1,818.9 L848.1,817.9 L851.1,817.5 L854.1,818.5 L857.1,819.3 L860.1,818.9 L863.1,820.1 L866.1,820.9 L869.1,821.3 L872.1,822.9 L875.1,823.9 L878.1,825.1 L881.1,823.6 L884.1,822.7 L887.1,823.9 L890.1,822.0 L893.1,821.4 L896.1,819.9 L899.1,820.2 L902.1,822.0 L905.1,820.7 L908.1,820.5 L911.1,819.4 L914.1,820.8 L917.1,821.9 L920.1,821.7 L923.1,822.8 L926.1,821.7 L929.1,821.5 L932.1,820.4 L935.1,820.4 L938.1,820.0 L941.1,819.0 L944.1,818.6 L947.1,818.0 L950.1,817.8 L953.1,817.1 L956.1,818.1 L959.1,817.3 L962.1,819.9 L965.1,820.6 L968.1,822.2 L971.1,820.1 L974.1,818.1 L977.1,817.8 L980.1,817.8 L983.1,818.3 L986.1,816.5 L989.1,816.8 L992.1,815.4 L995.1,815.6 L998.1,813.0 L1001.1,812.6 L1004.1,812.4 L1007.1,812.9 L1010.1,812.5 L1013.1,812.2 L1016.1,812.0 L1019.1,812.7 L1022.1,809.9 L1025.1,810.0 L1028.1,809.0 L1031.1,809.2 L1034.1,807.4 L1037.1,807.3 L1040.1,807.2 L1043.1,805.4 L1046.1,803.8 L1049.1,803.8 L1052.1,804.1 L1055.1,802.5 L1058.1,799.4 L1061.1,794.5 L1064.1,788.3 L1067.1,777.7 L1070.1,767.2 L1073.1,750.1 L1076.1,737.8 L1079.1,727.3 L1082.1,721.5 L1085.1,721.9 L1088.1,722.1 L1091.1,736.2 L1094.1,745.8 L1097.1,755.6 L1100.1,764.5 L1103.1,773.8 L1106.1,784.9 L1109.1,795.6 L1112.1,801.2 L1115.1,807.3 L1118.1,809.7 L1121.1,812.7 L1124.1,813.7 L1127.1,813.6 L1130.1,815.6 L1133.1,817.9 L1136.1,818.4 L1139.1,817.4 L1142.1,817.8 L1145.1,817.4 L1148.1,818.7 L1151.1,817.3 L1154.1,817.3 L1157.1,817.4 L1160.1,818.0 L1163.1,820.5 L1166.1,822.3 L1169.1,822.6 L1172.1,822.5 L1175.1,821.9 L1178.1,821.9 L1181.1,820.7 L1184.1,821.4 L1187.1,821.7 L1190.1,822.6 L1193.1,821.5 L1196.1,821.9 L1199.1,821.7 L1202.1,822.3 L1205.1,823.3 L1208.1,823.3 L1211.1,821.7 L1214.1,820.7 L1217.1,819.7 L1220.1,820.2 L1223.1,821.0 L1226.1,823.7 L1229.1,824.3 L1232.1,822.5 L1235.1,821.4 L1238.1,819.5 L1241.1,819.8 L1244.1,820.4 L1247.1,822.7 L1250.1,822.2 L1253.1,819.9 L1256.1,820.0 L1259.1,821.1 L1262.1,821.9 L1265.1,821.6 L1268.1,821.3 L1271.1,820.2 L1274.1,820.3 L1277.1,820.0 L1280.1,820.5 L1283.1,818.7 L1286.1,819.2 L1289.1,819.1 L1292.1,820.4 L1295.1,819.8 L1298.1,821.0 L1301.1,820.1 L1304.1,819.5 L1307.1,816.2 L1310.1,814.6 L1313.1,814.6 L1316.1,817.2 L1319.1,816.0 L1322.1,813.7 L1325.1,810.6 L1328.1,810.8 L1331.1,810.0 L1334.1,808.1 L1337.1,804.5 L1340.1,802.8 L1343.1,801.4 L1346.1,801.8 L1349.1,800.1 L1352.1,797.5 L1355.1,794.8 L1358.1,794.5 L1361.1,796.5 L1364.1,797.1 L1367.1,798.1 L1370.1,800.6 L1373.1,804.7 L1376.1,807.6 L1379.1,810.9 L1382.1,812.8 L1385.1,815.5 L1388.1,816.2 L1391.1,816.5 L1394.1,816.5 L1397.1,816.7 L1400.1,815.6 L1403.1,814.4 L1406.1,813.7 L1409.1,814.1 L1412.1,812.4 L1415.1,811.6 L1418.1,809.2 L1421.1,810.0 L1424.1,809.1 L1427.1,808.1 L1430.1,806.4 L1433.1,805.5 L1436.1,806.4 L1439.1,807.9 L1442.1,809.4 L1445.1,811.9 L1448.1,812.6 L1451.1,814.1 L1454.1,814.5 L1457.1,814.4 L1460.1,815.9 L1463.1,817.4 L1466.1,820.5 L1469.1,821.8 L1472.1,823.1 L1475.1,823.6 L1478.1,826.0 L1481.1,829.3 L1484.1,830.9 L1487.1,830.8 L1490.1,830.9 L1493.1,830.5 L1496.1,830.0 L1499.1,828.2 L1502.1,829.7 L1505.1,830.2 L1508.1,830.8 L1511.1,828.7 L1514.1,828.4 L1517.1,829.5 L1520.1,830.5 L1523.1,830.4 L1526.1,830.1 L1529.1,829.4 L1532.1,829.8 L1535.1,829.7 L1538.1,830.1 L1541.1,829.4 L1544.1,829.2 L1547.1,829.7 L1550.1,830.1 L1553.1,830.1 L1556.1,830.3 L1559.1,829.8 L1562.1,829.2 L1565.1,829.3 L1568.1,830.8 L1571.1,832.3 L1574.1,831.4 L1577.1,831.3 L1580.1,830.9 L1583.1,831.5 L1586.1,831.0 L1589.1,831.0 L1592.1,832.3 L1595.1,831.1 L1598.1,830.9 L1601.1,829.4 L1604.1,830.0 L1607.1,830.3 L1610.1,831.0 L1613.1,830.3 L1616.1,829.2 L1619.1,828.7 L1622.1,828.4 L1625.1,829.2 L1628.1,828.9 L1631.1,830.0 L1634.1,829.6 L1637.1,830.9 L1640.1,830.8 L1643.1,830.2 L1646.1,830.1 L1649.1,829.6 L1652.1,829.3 L1655.1,826.9 L1658.1,827.9 L1661.1,828.3 L1664.1,829.5 L1667.1,828.7 L1670.1,828.3 L1673.1,827.2 L1676.1,826.3 L1679.1,826.6 L1682.1,827.1 L1685.1,828.8 L1688.1,827.7 L1691.1,827.1 L1694.1,825.1 L1697.1,826.5 L1700.1,825.9 L1703.1,827.1 L1706.1,827.0 L1709.1,827.7 L1712.1,827.6 L1715.1,824.8 L1718.1,824.6 L1721.1,822.7 L1724.1,824.3 L1727.1,824.5 L1730.1,825.0 L1733.1,825.5 L1736.1,825.3 L1739.1,824.9 L1742.1,823.2 L1745.1,821.3 L1748.1,821.0 L1751.1,822.4 L1754.1,822.3 L1757.1,822.2 L1760.1,819.7 L1763.1,820.6 L1766.1,821.7 L1769.1,823.0 L1772.1,822.1 L1775.1,822.5 L1778.1,824.6 L1781.1,826.8 L1784.1,828.7 L1787.1,828.5 L1790.1,827.9 L1793.1,827.9 L1796.1,828.6 L1799.1,829.6 L1802.1,829.1 L1805.1,829.2 L1808.1,829.3 L1811.1,830.0 L1814.1,829.7 L1817.1,828.5 L1820.1,828.3 L1823.1,828.1 L1826.1,829.4 L1829.1,829.9 L1832.1,830.1 L1835.1,831.1 L1838.1,831.7 L1841.1,832.3 L1844.1,830.8 L1847.1,829.5 L1850.1,830.2 L1853.1,831.2 L1856.1,831.2 L1859.1,830.5 L1862.1,831.2 L1865.1,832.0 L1868.1,832.6 L1871.1,831.7 L1874.1,831.4 L1877.1,830.8"/>
<path fill="#070808" d="M242.0,995.2 L244.0,996.4 L246.0,999.3 L248.0,1000.2 L250.0,1000.4 L252.0,999.4 L254.0,997.4 L256.0,995.9 L258.0,994.0 L260.0,993.3 L262.0,992.4 L264.0,993.8 L266.0,993.2 L268.0,995.5 L270.0,997.9 L272.0,996.5 L274.0,995.0 L276.0,994.2 L278.0,992.3 L280.0,989.8 L282.0,990.6 L284.0,991.2 L286.0,992.6 L288.0,992.8 L290.0,993.1 L292.0,993.2 L294.0,992.5 L296.0,992.1 L298.0,991.9 L300.0,992.2 L302.0,991.0 L304.0,991.4 L306.0,992.2 L308.0,992.3 L310.0,990.8 L312.0,992.6 L314.0,991.7 L316.0,988.0 L318.0,987.5 L320.0,988.9 L322.0,988.1 L324.0,989.1 L326.0,991.7 L328.0,991.8 L330.0,989.8 L332.0,988.5 L334.0,987.6 L336.0,987.5 L338.0,986.5 L340.0,987.4 L342.0,988.4 L344.0,987.1 L346.0,985.5 L348.0,986.4 L350.0,987.4 L352.0,987.0 L354.0,987.1 L356.0,988.9 L358.0,988.4 L360.0,989.0 L362.0,989.6 L364.0,991.9 L366.0,992.7 L368.0,993.7 L370.0,993.4 L372.0,993.9 L374.0,993.6 L376.0,993.7 L378.0,993.2 L380.0,992.8 L382.0,991.7 L384.0,990.2 L386.0,988.7 L388.0,988.4 L390.0,986.8 L392.0,986.3 L394.0,987.4 L396.0,986.8 L398.0,986.9 L400.0,986.2 L402.0,986.2 L404.0,986.3 L406.0,987.1 L408.0,987.4 L410.0,988.1 L412.0,987.3 L414.0,986.3 L416.0,984.7 L418.0,983.4 L420.0,984.5 L422.0,984.6 L424.0,985.9 L426.0,985.3 L428.0,986.1 L430.0,984.0 L432.0,982.1 L434.0,977.3 L436.0,975.7 L438.0,974.4 L440.0,974.7 L442.0,974.7 L444.0,976.4 L446.0,975.6 L448.0,975.9 L450.0,975.8 L452.0,974.8 L454.0,974.7 L456.0,969.1 L458.0,963.5 L460.0,957.9 L462.0,953.7 L464.0,947.5 L466.0,947.6 L468.0,939.4 L470.0,931.8 L472.0,926.4 L474.0,918.1 L476.0,907.8 L478.0,905.5 L480.0,901.0 L482.0,899.9 L484.0,900.4 L486.0,899.2 L488.0,899.0 L490.0,900.7 L492.0,903.4 L494.0,905.6 L496.0,909.7 L498.0,916.5 L500.0,923.0 L502.0,929.8 L504.0,936.5 L506.0,942.8 L508.0,950.4 L510.0,958.4 L512.0,966.8 L514.0,971.2 L516.0,975.6 L518.0,980.5 L520.0,983.4 L522.0,984.4 L524.0,985.9 L526.0,985.8 L528.0,986.4 L530.0,986.6 L532.0,987.8 L534.0,986.3 L536.0,986.5 L538.0,986.3 L540.0,986.6 L542.0,983.8 L544.0,983.8 L546.0,985.7 L548.0,986.0 L550.0,986.1 L552.0,986.3 L554.0,988.2 L556.0,987.8 L558.0,989.4 L560.0,989.3 L562.0,989.0 L564.0,989.4 L566.0,988.5 L568.0,987.0 L570.0,985.4 L572.0,985.3 L574.0,983.5 L576.0,982.6 L578.0,981.4 L580.0,980.1 L582.0,977.8 L584.0,978.3 L586.0,976.2 L588.0,974.6 L590.0,972.7 L592.0,972.2 L594.0,966.3 L596.0,964.2 L598.0,959.6 L600.0,954.3 L602.0,948.1 L604.0,946.1 L606.0,939.6 L608.0,926.9 L610.0,916.0 L612.0,906.8 L614.0,894.4 L616.0,881.3 L618.0,866.8 L620.0,865.5 L622.0,861.6 L624.0,862.9 L626.0,861.8 L628.0,861.3 L630.0,861.1 L632.0,863.2 L634.0,862.8 L636.0,865.8 L638.0,874.8 L640.0,881.9 L642.0,891.1 L644.0,904.1 L646.0,914.4 L648.0,924.3 L650.0,937.6 L652.0,952.3 L654.0,961.2 L656.0,969.1 L658.0,975.6 L660.0,980.2 L662.0,984.3 L664.0,988.5 L666.0,991.6 L668.0,996.4 L670.0,999.5 L672.0,1000.7 L674.0,1004.6 L676.0,1006.3 L678.0,1006.1 L680.0,1004.9 L682.0,1006.1 L684.0,1006.5 L686.0,1007.0 L688.0,1006.9 L690.0,1007.1 L692.0,1007.1 L694.0,1006.8 L696.0,1008.1 L698.0,1007.9 L700.0,1008.7 L702.0,1009.0 L704.0,1008.3 L706.0,1007.5 L708.0,1009.0 L710.0,1008.3 L712.0,1008.0 L714.0,1009.8 L716.0,1010.0 L718.0,1010.3 L720.0,1011.3 L722.0,1012.1 L724.0,1011.8 L726.0,1011.5 L728.0,1010.5 L730.0,1011.2 L732.0,1012.5 L734.0,1011.7 L736.0,1013.1 L738.0,1014.8 L740.0,1014.4 L742.0,1014.1 L744.0,1015.1 L746.0,1015.1 L748.0,1015.3 L750.0,1015.2 L752.0,1014.4 L754.0,1015.4 L756.0,1015.3 L758.0,1015.3 L760.0,1016.8 L762.0,1019.2 L764.0,1017.7 L766.0,1018.7 L768.0,1018.0 L770.0,1018.5 L772.0,1018.6 L774.0,1018.7 L776.0,1018.4 L778.0,1019.0 L780.0,1018.4 L782.0,1017.5 L784.0,1017.8 L786.0,1016.8 L788.0,1017.6 L790.0,1018.5 L792.0,1018.2 L794.0,1017.9 L796.0,1020.5 L798.0,1020.9 L800.0,1020.6 L802.0,1020.3 L804.0,1021.1 L806.0,1019.6 L808.0,1018.1 L810.0,1019.1 L812.0,1020.1 L814.0,1020.9 L816.0,1020.0 L818.0,1020.1 L820.0,1018.4 L822.0,1018.6 L824.0,1018.2 L826.0,1019.0 L828.0,1020.3 L830.0,1021.3 L832.0,1022.5 L834.0,1022.8 L836.0,1022.6 L838.0,1022.6 L840.0,1023.8 L842.0,1022.6 L844.0,1023.1 L846.0,1023.8 L848.0,1024.5 L850.0,1023.8 L852.0,1023.9 L854.0,1023.9 L856.0,1025.0 L858.0,1025.6 L860.0,1026.2 L862.0,1027.6 L864.0,1027.6 L866.0,1026.7 L868.0,1026.7 L870.0,1025.2 L872.0,1024.6 L874.0,1023.6 L876.0,1023.7 L878.0,1022.6 L880.0,1022.6 L882.0,1023.2 L884.0,1024.1 L886.0,1024.3 L888.0,1024.7 L890.0,1025.1 L892.0,1025.9 L894.0,1026.1 L896.0,1026.7 L898.0,1025.7 L900.0,1025.8 L902.0,1024.3 L904.0,1024.3 L906.0,1023.6 L908.0,1024.5 L910.0,1025.9 L912.0,1025.9 L914.0,1025.9 L916.0,1025.9 L918.0,1027.5 L920.0,1027.4 L922.0,1027.8 L924.0,1028.2 L926.0,1027.9 L928.0,1025.7 L930.0,1024.5 L932.0,1024.0 L934.0,1022.7 L936.0,1022.5 L938.0,1022.8 L940.0,1022.9 L942.0,1021.2 L944.0,1021.9 L946.0,1023.4 L948.0,1022.6 L950.0,1022.5 L952.0,1023.0 L954.0,1023.6 L956.0,1021.8 L958.0,1021.3 L960.0,1020.9 L962.0,1023.8 L964.0,1022.7 L966.0,1022.6 L968.0,1023.9 L970.0,1024.3 L972.0,1023.7 L974.0,1023.2 L976.0,1023.0 L978.0,1022.4 L980.0,1022.5 L982.0,1021.0 L984.0,1021.1 L986.0,1019.4 L988.0,1017.3 L990.0,1015.1 L992.0,1013.8 L994.0,1011.6 L996.0,1010.6 L998.0,1008.7 L1000.0,1010.7 L1002.0,1013.1 L1004.0,1017.0 L1006.0,1019.5 L1008.0,1022.0 L1010.0,1019.3 L1012.0,1017.1 L1014.0,1013.4 L1016.0,1012.1 L1018.0,1009.1 L1020.0,1008.5 L1022.0,1007.7 L1024.0,1006.8 L1026.0,1007.4 L1028.0,1007.9 L1030.0,1008.1 L1032.0,1008.9 L1034.0,1009.2 L1036.0,1008.5 L1038.0,1008.1 L1040.0,1007.8 L1042.0,1006.7 L1044.0,1004.3 L1046.0,1003.1 L1048.0,1002.3 L1050.0,997.2 L1052.0,988.0 L1054.0,983.5 L1056.0,979.5 L1058.0,972.4 L1060.0,963.5 L1062.0,957.2 L1064.0,952.1 L1066.0,952.3 L1068.0,950.3 L1070.0,949.5 L1072.0,950.0 L1074.0,949.0 L1076.0,947.5 L1078.0,944.9 L1080.0,940.7 L1082.0,939.0 L1084.0,939.3 L1086.0,941.6 L1088.0,948.6 L1090.0,955.6 L1092.0,961.2 L1094.0,968.9 L1096.0,976.0 L1098.0,980.4 L1100.0,983.9 L1102.0,990.2 L1104.0,996.5 L1106.0,1001.9 L1108.0,1006.0 L1110.0,1010.6 L1112.0,1014.5 L1114.0,1015.5 L1116.0,1018.2 L1118.0,1021.4 L1120.0,1022.1 L1122.0,1021.8 L1124.0,1020.5 L1126.0,1021.2 L1128.0,1019.6 L1130.0,1018.2 L1132.0,1017.9 L1134.0,1020.7 L1136.0,1020.7 L1138.0,1021.7 L1140.0,1023.2 L1142.0,1022.2 L1144.0,1021.2 L1146.0,1020.4 L1148.0,1020.0 L1150.0,1019.8 L1152.0,1020.5 L1154.0,1021.7 L1156.0,1022.1 L1158.0,1023.7 L1160.0,1025.9 L1162.0,1025.3 L1164.0,1024.4 L1166.0,1023.5 L1168.0,1021.2 L1170.0,1020.2 L1172.0,1020.6 L1174.0,1020.5 L1176.0,1021.5 L1178.0,1023.3 L1180.0,1022.9 L1182.0,1023.6 L1184.0,1025.3 L1186.0,1026.1 L1188.0,1026.2 L1190.0,1027.3 L1192.0,1026.8 L1194.0,1026.2 L1196.0,1025.4 L1198.0,1025.8 L1200.0,1025.6 L1202.0,1025.6 L1204.0,1026.4 L1206.0,1026.0 L1208.0,1026.0 L1210.0,1025.5 L1212.0,1025.6 L1214.0,1023.8 L1216.0,1024.4 L1218.0,1023.5 L1220.0,1022.7 L1222.0,1023.8 L1224.0,1023.5 L1226.0,1023.7 L1228.0,1023.7 L1230.0,1022.9 L1232.0,1022.7 L1234.0,1022.9 L1236.0,1021.0 L1238.0,1020.6 L1240.0,1021.9 L1242.0,1022.3 L1244.0,1023.0 L1246.0,1026.0 L1248.0,1027.5 L1250.0,1028.6 L1252.0,1028.9 L1254.0,1029.6 L1256.0,1028.1 L1258.0,1027.5 L1260.0,1027.5 L1262.0,1026.7 L1264.0,1026.3 L1266.0,1025.3 L1268.0,1025.1 L1270.0,1024.3 L1272.0,1022.9 L1274.0,1022.9 L1276.0,1024.4 L1278.0,1023.6 L1280.0,1023.7 L1282.0,1025.0 L1284.0,1023.5 L1286.0,1022.5 L1288.0,1022.7 L1290.0,1022.6 L1292.0,1022.8 L1294.0,1022.2 L1296.0,1022.1 L1298.0,1022.1 L1300.0,1022.1 L1302.0,1022.0 L1304.0,1022.5 L1306.0,1022.0 L1308.0,1020.3 L1310.0,1019.5 L1312.0,1016.7 L1314.0,1017.8 L1316.0,1018.3 L1318.0,1018.9 L1320.0,1016.2 L1322.0,1016.2 L1324.0,1015.1 L1326.0,1010.3 L1328.0,1006.8 L1330.0,1005.3 L1332.0,1003.5 L1334.0,1000.2 L1336.0,1000.4 L1338.0,999.7 L1340.0,999.3 L1342.0,998.1 L1344.0,997.9 L1346.0,997.1 L1348.0,997.7 L1350.0,996.3 L1352.0,998.1 L1354.0,998.1 L1356.0,999.8 L1358.0,999.8 L1360.0,1002.5 L1362.0,1003.5 L1364.0,1005.4 L1366.0,1007.0 L1368.0,1009.2 L1370.0,1011.1 L1372.0,1011.2 L1374.0,1013.1 L1376.0,1013.8 L1378.0,1014.4 L1380.0,1015.1 L1382.0,1016.1 L1384.0,1018.3 L1386.0,1019.8 L1388.0,1022.9 L1390.0,1023.4 L1392.0,1024.6 L1394.0,1024.8 L1396.0,1022.2 L1398.0,1019.7 L1400.0,1018.6 L1402.0,1017.9 L1404.0,1016.7 L1406.0,1016.7 L1408.0,1016.7 L1410.0,1016.4 L1412.0,1014.4 L1414.0,1013.5 L1416.0,1011.1 L1418.0,1008.3 L1420.0,1005.4 L1422.0,1004.4 L1424.0,1003.2 L1426.0,1002.4 L1428.0,1002.8 L1430.0,1004.8 L1432.0,1006.6 L1434.0,1008.1 L1436.0,1009.1 L1438.0,1010.1 L1440.0,1012.4 L1442.0,1012.6 L1444.0,1012.0 L1446.0,1014.6 L1448.0,1016.4 L1450.0,1016.4 L1452.0,1018.3 L1454.0,1019.2 L1456.0,1019.2 L1458.0,1020.6 L1460.0,1023.2 L1462.0,1025.8 L1464.0,1027.4 L1466.0,1028.6 L1468.0,1030.3 L1470.0,1029.3 L1472.0,1029.4 L1474.0,1029.6 L1476.0,1029.3 L1478.0,1028.1 L1480.0,1029.7 L1482.0,1028.8 L1484.0,1028.4 L1486.0,1028.8 L1488.0,1029.6 L1490.0,1028.4 L1492.0,1030.5 L1494.0,1030.9 L1496.0,1031.3 L1498.0,1030.9 L1500.0,1031.5 L1502.0,1030.0 L1504.0,1031.1 L1506.0,1031.5 L1508.0,1031.7 L1510.0,1032.9 L1512.0,1033.2 L1514.0,1032.8 L1516.0,1032.7 L1518.0,1032.1 L1520.0,1032.0 L1522.0,1031.4 L1524.0,1031.4 L1526.0,1030.7 L1528.0,1031.7 L1530.0,1032.2 L1532.0,1033.8 L1534.0,1032.8 L1536.0,1033.5 L1538.0,1032.9 L1540.0,1031.0 L1542.0,1029.8 L1544.0,1030.3 L1546.0,1030.7 L1548.0,1029.7 L1550.0,1030.5 L1552.0,1031.7 L1554.0,1031.8 L1556.0,1030.6 L1558.0,1032.8 L1560.0,1031.9 L1562.0,1032.0 L1564.0,1033.2 L1566.0,1032.4 L1568.0,1031.8 L1570.0,1033.0 L1572.0,1032.7 L1574.0,1030.9 L1576.0,1032.2 L1578.0,1031.0 L1580.0,1030.9 L1582.0,1031.1 L1584.0,1031.3 L1586.0,1030.9 L1588.0,1031.6 L1590.0,1031.5 L1592.0,1031.2 L1594.0,1031.7 L1596.0,1032.5 L1598.0,1031.9 L1600.0,1029.9 L1602.0,1030.4 L1604.0,1031.6 L1606.0,1030.5 L1608.0,1031.1 L1610.0,1033.4 L1612.0,1033.7 L1614.0,1033.2 L1616.0,1035.2 L1618.0,1035.7 L1620.0,1035.9 L1622.0,1035.5 L1624.0,1034.8 L1626.0,1034.8 L1628.0,1035.3 L1630.0,1035.8 L1632.0,1035.2 L1634.0,1036.4 L1636.0,1034.7 L1638.0,1034.6 L1640.0,1032.0 L1642.0,1031.6 L1644.0,1031.4 L1646.0,1031.9 L1648.0,1031.6 L1650.0,1032.2 L1652.0,1033.9 L1654.0,1033.6 L1656.0,1033.8 L1658.0,1033.8 L1660.0,1035.1 L1662.0,1034.8 L1664.0,1034.3 L1666.0,1033.1 L1668.0,1032.4 L1670.0,1032.9 L1672.0,1032.1 L1674.0,1031.5 L1676.0,1032.8 L1678.0,1032.9 L1680.0,1032.2 L1682.0,1030.5 L1684.0,1029.9 L1686.0,1029.8 L1688.0,1029.4 L1690.0,1029.0 L1692.0,1031.5 L1694.0,1031.8 L1696.0,1031.4 L1698.0,1031.0 L1700.0,1030.2 L1702.0,1028.5 L1704.0,1027.6 L1706.0,1025.7 L1708.0,1027.0 L1710.0,1027.3 L1712.0,1028.0 L1714.0,1029.1 L1716.0,1030.7 L1718.0,1030.0 L1720.0,1030.5 L1722.0,1028.6 L1724.0,1029.3 L1726.0,1028.4 L1728.0,1027.9 L1730.0,1029.2 L1732.0,1030.0 L1734.0,1030.2 L1736.0,1030.6 L1738.0,1030.7 L1740.0,1028.8 L1742.0,1028.9 L1744.0,1026.9 L1746.0,1026.5 L1748.0,1026.3 L1750.0,1025.2 L1752.0,1024.4 L1754.0,1025.6 L1756.0,1025.9 L1758.0,1025.0 L1760.0,1025.5 L1762.0,1026.3 L1764.0,1025.6 L1766.0,1026.3 L1768.0,1026.9 L1770.0,1029.2 L1772.0,1028.9 L1774.0,1028.1 L1776.0,1028.4 L1778.0,1028.9 L1780.0,1027.9 L1782.0,1027.4 L1784.0,1030.0 L1786.0,1030.3 L1788.0,1030.6 L1790.0,1029.6 L1792.0,1031.5 L1794.0,1030.9 L1796.0,1032.3 L1798.0,1032.3 L1800.0,1032.9 L1802.0,1033.0 L1804.0,1032.7 L1806.0,1032.4 L1808.0,1032.2 L1810.0,1033.4 L1812.0,1033.1 L1814.0,1033.7 L1816.0,1033.0 L1818.0,1033.1 L1820.0,1033.1 L1822.0,1032.8 L1824.0,1032.8 L1826.0,1033.0 L1828.0,1031.8 L1830.0,1031.8 L1832.0,1033.2 L1834.0,1033.2 L1836.0,1033.8 L1838.0,1035.7 L1840.0,1035.4 L1842.0,1033.3 L1844.0,1033.6 L1846.0,1033.9 L1848.0,1033.9 L1850.0,1034.5 L1852.0,1035.7 L1854.0,1035.0 L1856.0,1034.4 L1858.0,1033.9 L1860.0,1033.7 L1862.0,1032.7 L1864.0,1032.2 L1866.0,1032.3 L1868.0,1032.0 L1870.0,1029.9 L1872.0,1030.6 L1874.0,1029.4 L1876.0,1030.3 L1878.0,1031.0 L1878.0,1056.2 L1876.0,1055.5 L1874.0,1054.0 L1872.0,1054.0 L1870.0,1054.4 L1868.0,1051.6 L1866.0,1051.8 L1864.0,1051.1 L1862.0,1050.0 L1860.0,1050.3 L1858.0,1052.5 L1856.0,1053.6 L1854.0,1054.7 L1852.0,1055.8 L1850.0,1055.1 L1848.0,1054.6 L1846.0,1054.5 L1844.0,1054.3 L1842.0,1053.5 L1840.0,1054.4 L1838.0,1055.4 L1836.0,1054.1 L1834.0,1053.9 L1832.0,1053.6 L1830.0,1051.7 L1828.0,1051.9 L1826.0,1053.1 L1824.0,1053.8 L1822.0,1054.6 L1820.0,1056.2 L1818.0,1055.0 L1816.0,1053.8 L1814.0,1053.3 L1812.0,1052.9 L1810.0,1052.9 L1808.0,1053.1 L1806.0,1053.1 L1804.0,1051.7 L1802.0,1052.0 L1800.0,1051.0 L1798.0,1052.3 L1796.0,1052.9 L1794.0,1054.6 L1792.0,1053.0 L1790.0,1053.7 L1788.0,1051.6 L1786.0,1049.8 L1784.0,1048.8 L1782.0,1050.5 L1780.0,1049.4 L1778.0,1049.5 L1776.0,1050.8 L1774.0,1050.6 L1772.0,1049.9 L1770.0,1049.6 L1768.0,1050.5 L1766.0,1049.4 L1764.0,1048.1 L1762.0,1048.0 L1760.0,1046.2 L1758.0,1043.9 L1756.0,1043.5 L1754.0,1044.4 L1752.0,1043.8 L1750.0,1045.3 L1748.0,1045.8 L1746.0,1045.0 L1744.0,1045.6 L1742.0,1045.4 L1740.0,1045.4 L1738.0,1045.3 L1736.0,1048.9 L1734.0,1047.6 L1732.0,1046.7 L1730.0,1047.9 L1728.0,1048.5 L1726.0,1046.9 L1724.0,1047.8 L1722.0,1048.7 L1720.0,1049.6 L1718.0,1049.0 L1716.0,1047.9 L1714.0,1047.8 L1712.0,1048.2 L1710.0,1047.0 L1708.0,1046.8 L1706.0,1048.0 L1704.0,1047.7 L1702.0,1048.0 L1700.0,1048.6 L1698.0,1050.5 L1696.0,1049.9 L1694.0,1050.9 L1692.0,1050.8 L1690.0,1050.0 L1688.0,1049.3 L1686.0,1050.2 L1684.0,1050.1 L1682.0,1050.4 L1680.0,1050.4 L1678.0,1050.5 L1676.0,1049.9 L1674.0,1051.3 L1672.0,1051.5 L1670.0,1052.4 L1668.0,1054.5 L1666.0,1054.5 L1664.0,1053.9 L1662.0,1054.1 L1660.0,1055.1 L1658.0,1053.7 L1656.0,1055.2 L1654.0,1055.8 L1652.0,1056.0 L1650.0,1056.6 L1648.0,1056.7 L1646.0,1055.5 L1644.0,1055.5 L1642.0,1055.9 L1640.0,1056.2 L1638.0,1055.8 L1636.0,1055.9 L1634.0,1055.4 L1632.0,1055.4 L1630.0,1053.4 L1628.0,1054.1 L1626.0,1055.3 L1624.0,1054.4 L1622.0,1053.6 L1620.0,1053.6 L1618.0,1052.8 L1616.0,1051.3 L1614.0,1051.5 L1612.0,1051.0 L1610.0,1050.7 L1608.0,1051.2 L1606.0,1050.7 L1604.0,1051.2 L1602.0,1051.4 L1600.0,1051.0 L1598.0,1050.6 L1596.0,1051.1 L1594.0,1051.2 L1592.0,1051.6 L1590.0,1051.6 L1588.0,1052.1 L1586.0,1052.9 L1584.0,1052.7 L1582.0,1052.4 L1580.0,1052.8 L1578.0,1051.8 L1576.0,1052.5 L1574.0,1052.4 L1572.0,1053.1 L1570.0,1055.0 L1568.0,1055.5 L1566.0,1053.5 L1564.0,1053.9 L1562.0,1054.0 L1560.0,1050.4 L1558.0,1050.2 L1556.0,1050.6 L1554.0,1050.3 L1552.0,1049.9 L1550.0,1051.7 L1548.0,1053.1 L1546.0,1052.4 L1544.0,1053.9 L1542.0,1054.7 L1540.0,1055.3 L1538.0,1053.9 L1536.0,1056.3 L1534.0,1054.9 L1532.0,1054.5 L1530.0,1052.6 L1528.0,1052.5 L1526.0,1050.8 L1524.0,1052.4 L1522.0,1052.1 L1520.0,1053.2 L1518.0,1054.1 L1516.0,1054.9 L1514.0,1053.3 L1512.0,1052.8 L1510.0,1053.7 L1508.0,1053.2 L1506.0,1052.0 L1504.0,1050.5 L1502.0,1049.5 L1500.0,1048.0 L1498.0,1047.5 L1496.0,1047.5 L1494.0,1048.5 L1492.0,1049.9 L1490.0,1049.9 L1488.0,1051.6 L1486.0,1052.9 L1484.0,1053.3 L1482.0,1052.7 L1480.0,1054.2 L1478.0,1052.7 L1476.0,1051.0 L1474.0,1050.7 L1472.0,1050.5 L1470.0,1048.8 L1468.0,1049.1 L1466.0,1048.0 L1464.0,1045.7 L1462.0,1047.2 L1460.0,1046.4 L1458.0,1043.6 L1456.0,1045.1 L1454.0,1044.4 L1452.0,1043.2 L1450.0,1041.4 L1448.0,1040.2 L1446.0,1037.4 L1444.0,1036.4 L1442.0,1034.5 L1440.0,1033.4 L1438.0,1032.4 L1436.0,1030.4 L1434.0,1029.4 L1432.0,1027.2 L1430.0,1025.9 L1428.0,1024.5 L1426.0,1024.3 L1424.0,1028.1 L1422.0,1029.4 L1420.0,1032.1 L1418.0,1032.7 L1416.0,1034.3 L1414.0,1035.9 L1412.0,1038.6 L1410.0,1038.9 L1408.0,1041.5 L1406.0,1043.3 L1404.0,1043.1 L1402.0,1044.7 L1400.0,1047.0 L1398.0,1047.1 L1396.0,1047.8 L1394.0,1048.7 L1392.0,1047.6 L1390.0,1046.3 L1388.0,1046.8 L1386.0,1046.1 L1384.0,1045.2 L1382.0,1044.4 L1380.0,1043.3 L1378.0,1041.9 L1376.0,1040.6 L1374.0,1040.0 L1372.0,1036.3 L1370.0,1034.0 L1368.0,1031.0 L1366.0,1028.8 L1364.0,1025.1 L1362.0,1024.9 L1360.0,1024.0 L1358.0,1021.6 L1356.0,1020.5 L1354.0,1019.0 L1352.0,1016.7 L1350.0,1015.6 L1348.0,1016.3 L1346.0,1017.9 L1344.0,1021.0 L1342.0,1023.3 L1340.0,1024.3 L1338.0,1027.5 L1336.0,1028.4 L1334.0,1029.7 L1332.0,1029.2 L1330.0,1031.2 L1328.0,1032.5 L1326.0,1033.1 L1324.0,1033.7 L1322.0,1036.2 L1320.0,1037.0 L1318.0,1038.2 L1316.0,1040.8 L1314.0,1040.9 L1312.0,1041.9 L1310.0,1043.3 L1308.0,1044.8 L1306.0,1045.4 L1304.0,1046.9 L1302.0,1045.9 L1300.0,1045.9 L1298.0,1044.1 L1296.0,1043.1 L1294.0,1042.4 L1292.0,1044.1 L1290.0,1041.9 L1288.0,1042.5 L1286.0,1042.7 L1284.0,1043.4 L1282.0,1042.6 L1280.0,1044.1 L1278.0,1044.4 L1276.0,1043.8 L1274.0,1044.1 L1272.0,1043.9 L1270.0,1044.9 L1268.0,1044.7 L1266.0,1045.7 L1264.0,1045.1 L1262.0,1046.4 L1260.0,1046.2 L1258.0,1047.2 L1256.0,1048.0 L1254.0,1047.8 L1252.0,1047.8 L1250.0,1048.4 L1248.0,1048.2 L1246.0,1047.4 L1244.0,1049.7 L1242.0,1048.2 L1240.0,1046.7 L1238.0,1046.1 L1236.0,1047.6 L1234.0,1046.4 L1232.0,1046.3 L1230.0,1046.6 L1228.0,1047.0 L1226.0,1045.3 L1224.0,1042.6 L1222.0,1042.1 L1220.0,1043.1 L1218.0,1042.6 L1216.0,1043.6 L1214.0,1046.1 L1212.0,1046.9 L1210.0,1045.5 L1208.0,1044.5 L1206.0,1044.1 L1204.0,1045.0 L1202.0,1044.9 L1200.0,1046.7 L1198.0,1047.5 L1196.0,1046.9 L1194.0,1045.5 L1192.0,1044.3 L1190.0,1044.3 L1188.0,1045.5 L1186.0,1046.1 L1184.0,1044.8 L1182.0,1047.3 L1180.0,1046.8 L1178.0,1046.0 L1176.0,1044.2 L1174.0,1047.1 L1172.0,1045.3 L1170.0,1044.8 L1168.0,1045.0 L1166.0,1045.3 L1164.0,1043.9 L1162.0,1043.7 L1160.0,1042.7 L1158.0,1041.3 L1156.0,1041.8 L1154.0,1041.4 L1152.0,1042.4 L1150.0,1043.2 L1148.0,1044.3 L1146.0,1042.8 L1144.0,1041.6 L1142.0,1041.5 L1140.0,1041.5 L1138.0,1041.5 L1136.0,1040.6 L1134.0,1041.6 L1132.0,1041.6 L1130.0,1041.6 L1128.0,1039.6 L1126.0,1041.6 L1124.0,1042.4 L1122.0,1041.7 L1120.0,1039.3 L1118.0,1038.9 L1116.0,1037.9 L1114.0,1035.4 L1112.0,1034.8 L1110.0,1036.3 L1108.0,1036.3 L1106.0,1034.2 L1104.0,1032.5 L1102.0,1028.7 L1100.0,1025.4 L1098.0,1022.0 L1096.0,1020.5 L1094.0,1013.8 L1092.0,1007.2 L1090.0,999.3 L1088.0,992.4 L1086.0,984.2 L1084.0,980.1 L1082.0,977.0 L1080.0,973.0 L1078.0,972.1 L1076.0,970.3 L1074.0,972.6 L1072.0,975.3 L1070.0,976.5 L1068.0,981.2 L1066.0,988.5 L1064.0,993.2 L1062.0,995.7 L1060.0,1000.6 L1058.0,1007.2 L1056.0,1008.7 L1054.0,1011.1 L1052.0,1013.0 L1050.0,1016.6 L1048.0,1019.1 L1046.0,1023.2 L1044.0,1025.0 L1042.0,1027.7 L1040.0,1028.6 L1038.0,1029.3 L1036.0,1029.3 L1034.0,1030.2 L1032.0,1030.0 L1030.0,1030.2 L1028.0,1030.3 L1026.0,1030.5 L1024.0,1032.2 L1022.0,1031.9 L1020.0,1032.4 L1018.0,1033.1 L1016.0,1033.1 L1014.0,1032.4 L1012.0,1035.3 L1010.0,1036.4 L1008.0,1036.6 L1006.0,1037.6 L1004.0,1036.6 L1002.0,1036.7 L1000.0,1038.7 L998.0,1040.6 L996.0,1041.6 L994.0,1044.9 L992.0,1045.1 L990.0,1043.8 L988.0,1043.7 L986.0,1043.6 L984.0,1042.2 L982.0,1041.8 L980.0,1043.0 L978.0,1041.5 L976.0,1042.5 L974.0,1044.0 L972.0,1044.1 L970.0,1043.0 L968.0,1044.7 L966.0,1043.5 L964.0,1043.6 L962.0,1044.3 L960.0,1044.2 L958.0,1043.0 L956.0,1044.0 L954.0,1043.7 L952.0,1043.3 L950.0,1042.6 L948.0,1043.7 L946.0,1044.0 L944.0,1042.9 L942.0,1043.1 L940.0,1044.1 L938.0,1043.1 L936.0,1041.7 L934.0,1041.2 L932.0,1041.2 L930.0,1040.5 L928.0,1041.3 L926.0,1042.2 L924.0,1042.6 L922.0,1043.1 L920.0,1043.0 L918.0,1044.5 L916.0,1045.1 L914.0,1045.7 L912.0,1047.4 L910.0,1048.7 L908.0,1046.9 L906.0,1046.2 L904.0,1046.8 L902.0,1046.1 L900.0,1044.2 L898.0,1045.6 L896.0,1045.5 L894.0,1045.0 L892.0,1044.3 L890.0,1047.1 L888.0,1046.5 L886.0,1047.5 L884.0,1046.5 L882.0,1046.1 L880.0,1043.4 L878.0,1044.4 L876.0,1044.3 L874.0,1044.8 L872.0,1044.7 L870.0,1045.6 L868.0,1045.4 L866.0,1043.6 L864.0,1043.9 L862.0,1043.6 L860.0,1043.3 L858.0,1042.9 L856.0,1044.9 L854.0,1044.0 L852.0,1045.1 L850.0,1044.7 L848.0,1043.0 L846.0,1043.3 L844.0,1043.1 L842.0,1042.3 L840.0,1042.2 L838.0,1042.7 L836.0,1041.4 L834.0,1041.4 L832.0,1041.0 L830.0,1041.8 L828.0,1043.0 L826.0,1044.2 L824.0,1045.5 L822.0,1046.4 L820.0,1046.8 L818.0,1045.1 L816.0,1043.5 L814.0,1041.9 L812.0,1041.4 L810.0,1039.7 L808.0,1041.0 L806.0,1041.0 L804.0,1042.4 L802.0,1042.1 L800.0,1042.2 L798.0,1041.2 L796.0,1041.1 L794.0,1039.9 L792.0,1040.9 L790.0,1041.2 L788.0,1040.9 L786.0,1041.4 L784.0,1040.6 L782.0,1039.1 L780.0,1038.8 L778.0,1038.3 L776.0,1036.7 L774.0,1038.5 L772.0,1039.8 L770.0,1039.8 L768.0,1040.0 L766.0,1041.7 L764.0,1041.2 L762.0,1039.4 L760.0,1039.4 L758.0,1039.6 L756.0,1037.1 L754.0,1036.6 L752.0,1036.2 L750.0,1034.7 L748.0,1033.5 L746.0,1035.0 L744.0,1033.4 L742.0,1033.4 L740.0,1034.3 L738.0,1033.4 L736.0,1033.7 L734.0,1033.9 L732.0,1034.2 L730.0,1032.7 L728.0,1032.6 L726.0,1030.8 L724.0,1031.1 L722.0,1030.6 L720.0,1030.6 L718.0,1030.9 L716.0,1030.0 L714.0,1030.5 L712.0,1032.0 L710.0,1031.5 L708.0,1031.9 L706.0,1033.8 L704.0,1032.6 L702.0,1030.2 L700.0,1030.6 L698.0,1029.8 L696.0,1029.2 L694.0,1027.7 L692.0,1028.0 L690.0,1029.0 L688.0,1027.3 L686.0,1025.0 L684.0,1025.6 L682.0,1025.2 L680.0,1022.7 L678.0,1024.2 L676.0,1023.5 L674.0,1022.6 L672.0,1021.3 L670.0,1020.9 L668.0,1020.2 L666.0,1019.4 L664.0,1018.6 L662.0,1017.6 L660.0,1014.8 L658.0,1012.3 L656.0,1007.3 L654.0,1002.8 L652.0,996.6 L650.0,990.4 L648.0,980.1 L646.0,971.1 L644.0,960.2 L642.0,948.2 L640.0,939.7 L638.0,933.6 L636.0,926.8 L634.0,919.1 L632.0,910.5 L630.0,905.1 L628.0,905.2 L626.0,908.9 L624.0,916.1 L622.0,923.1 L620.0,929.3 L618.0,934.8 L616.0,940.1 L614.0,945.3 L612.0,953.9 L610.0,960.5 L608.0,971.3 L606.0,983.0 L604.0,986.2 L602.0,989.3 L600.0,992.8 L598.0,995.8 L596.0,998.5 L594.0,1003.0 L592.0,1004.2 L590.0,1004.9 L588.0,1005.4 L586.0,1005.8 L584.0,1005.9 L582.0,1006.6 L580.0,1007.1 L578.0,1007.6 L576.0,1009.2 L574.0,1009.2 L572.0,1009.4 L570.0,1009.8 L568.0,1010.8 L566.0,1010.3 L564.0,1011.1 L562.0,1011.1 L560.0,1012.8 L558.0,1014.6 L556.0,1014.5 L554.0,1013.4 L552.0,1014.1 L550.0,1012.3 L548.0,1011.2 L546.0,1011.8 L544.0,1012.0 L542.0,1012.4 L540.0,1012.6 L538.0,1012.2 L536.0,1012.5 L534.0,1012.8 L532.0,1011.7 L530.0,1012.0 L528.0,1011.9 L526.0,1010.0 L524.0,1007.6 L522.0,1006.8 L520.0,1005.6 L518.0,1003.7 L516.0,1002.4 L514.0,1001.8 L512.0,999.4 L510.0,997.1 L508.0,995.4 L506.0,990.9 L504.0,983.9 L502.0,978.0 L500.0,970.0 L498.0,961.7 L496.0,954.2 L494.0,945.8 L492.0,937.0 L490.0,932.0 L488.0,928.9 L486.0,925.8 L484.0,930.2 L482.0,936.0 L480.0,942.6 L478.0,947.8 L476.0,952.7 L474.0,957.9 L472.0,964.5 L470.0,971.2 L468.0,979.4 L466.0,985.9 L464.0,991.4 L462.0,995.3 L460.0,996.5 L458.0,997.3 L456.0,1000.2 L454.0,999.7 L452.0,1000.5 L450.0,1001.7 L448.0,1002.3 L446.0,1002.3 L444.0,1003.9 L442.0,1004.6 L440.0,1004.7 L438.0,1003.9 L436.0,1004.7 L434.0,1005.3 L432.0,1006.7 L430.0,1008.5 L428.0,1010.9 L426.0,1010.9 L424.0,1012.3 L422.0,1012.5 L420.0,1010.8 L418.0,1011.2 L416.0,1011.5 L414.0,1011.5 L412.0,1011.8 L410.0,1015.0 L408.0,1014.5 L406.0,1015.8 L404.0,1017.3 L402.0,1017.7 L400.0,1016.6 L398.0,1016.5 L396.0,1015.9 L394.0,1015.7 L392.0,1016.5 L390.0,1016.9 L388.0,1016.8 L386.0,1017.1 L384.0,1016.5 L382.0,1015.0 L380.0,1014.6 L378.0,1015.4 L376.0,1013.3 L374.0,1013.5 L372.0,1013.3 L370.0,1012.4 L368.0,1012.0 L366.0,1012.8 L364.0,1012.1 L362.0,1013.6 L360.0,1014.3 L358.0,1014.3 L356.0,1014.3 L354.0,1015.3 L352.0,1014.4 L350.0,1015.8 L348.0,1015.1 L346.0,1016.0 L344.0,1015.2 L342.0,1017.8 L340.0,1016.3 L338.0,1017.3 L336.0,1017.4 L334.0,1018.0 L332.0,1014.8 L330.0,1015.5 L328.0,1014.2 L326.0,1014.1 L324.0,1013.4 L322.0,1014.5 L320.0,1014.3 L318.0,1014.6 L316.0,1014.7 L314.0,1014.7 L312.0,1014.7 L310.0,1015.5 L308.0,1015.9 L306.0,1016.5 L304.0,1016.0 L302.0,1016.8 L300.0,1017.2 L298.0,1017.5 L296.0,1017.6 L294.0,1018.4 L292.0,1017.8 L290.0,1016.5 L288.0,1016.6 L286.0,1016.3 L284.0,1017.7 L282.0,1018.1 L280.0,1018.7 L278.0,1020.3 L276.0,1021.2 L274.0,1020.8 L272.0,1021.8 L270.0,1023.0 L268.0,1022.1 L266.0,1020.8 L264.0,1020.5 L262.0,1017.7 L260.0,1015.9 L258.0,1016.3 L256.0,1017.7 L254.0,1018.1 L252.0,1019.5 L250.0,1020.6 L248.0,1020.3 L246.0,1019.0 L244.0,1018.5 L242.0,1019.6 Z"/>
<path fill="none" stroke="#070808" stroke-width="12" stroke-linejoin="round" d="M242.0,1010.1 L245.0,1009.7 L248.0,1009.4 L251.0,1009.3 L254.0,1007.4 L257.0,1006.4 L260.0,1005.4 L263.0,1005.5 L266.0,1005.5 L269.0,1004.6 L272.0,1005.3 L275.0,1005.9 L278.0,1007.2 L281.0,1007.1 L284.0,1006.0 L287.0,1004.9 L290.0,1004.7 L293.0,1005.7 L296.0,1003.9 L299.0,1003.5 L302.0,1001.1 L305.0,1002.7 L308.0,1002.4 L311.0,1003.6 L314.0,1003.7 L317.0,1003.6 L320.0,1002.8 L323.0,1002.5 L326.0,1002.9 L329.0,1003.2 L332.0,1003.0 L335.0,1001.4 L338.0,1002.2 L341.0,1001.8 L344.0,1002.1 L347.0,1001.3 L350.0,1001.3 L353.0,1001.8 L356.0,1003.1 L359.0,1004.3 L362.0,1005.5 L365.0,1005.9 L368.0,1005.0 L371.0,1004.2 L374.0,1004.1 L377.0,1005.9 L380.0,1004.6 L383.0,1002.6 L386.0,1001.2 L389.0,1001.8 L392.0,1001.9 L395.0,1001.7 L398.0,1001.2 L401.0,999.9 L404.0,999.1 L407.0,999.2 L410.0,1000.6 L413.0,1000.7 L416.0,1000.2 L419.0,999.2 L422.0,997.6 L425.0,995.9 L428.0,995.1 L431.0,994.8 L434.0,993.6 L437.0,992.7 L440.0,991.2 L443.0,988.9 L446.0,987.4 L449.0,987.6 L452.0,987.4 L455.0,983.9 L458.0,979.0 L461.0,976.6 L464.0,971.8 L467.0,964.5 L470.0,949.4 L473.0,938.5 L476.0,927.4 L479.0,921.4 L482.0,916.3 L485.0,911.7 L488.0,912.9 L491.0,918.6 L494.0,926.3 L497.0,936.3 L500.0,945.0 L503.0,956.2 L506.0,965.3 L509.0,974.7 L512.0,982.9 L515.0,989.7 L518.0,993.5 L521.0,995.9 L524.0,996.9 L527.0,1000.6 L530.0,1000.2 L533.0,1000.1 L536.0,997.9 L539.0,998.6 L542.0,998.4 L545.0,999.5 L548.0,1000.5 L551.0,1001.2 L554.0,1001.8 L557.0,1002.5 L560.0,1000.0 L563.0,998.6 L566.0,997.0 L569.0,997.0 L572.0,996.8 L575.0,996.6 L578.0,995.9 L581.0,994.8 L584.0,991.7 L587.0,990.0 L590.0,987.6 L593.0,987.4 L596.0,980.6 L599.0,975.3 L602.0,969.9 L605.0,965.1 L608.0,951.0 L611.0,935.1 L614.0,921.2 L617.0,907.4 L620.0,898.3 L623.0,891.9 L626.0,885.0 L629.0,882.5 L632.0,885.8 L635.0,893.6 L638.0,904.4 L641.0,915.7 L644.0,932.3 L647.0,948.2 L650.0,964.4 L653.0,980.7 L656.0,988.2 L659.0,996.3 L662.0,1000.9 L665.0,1006.1 L668.0,1008.1 L671.0,1010.5 L674.0,1012.4 L677.0,1015.6 L680.0,1015.6 L683.0,1017.1 L686.0,1017.4 L689.0,1017.8 L692.0,1017.6 L695.0,1016.8 L698.0,1018.6 L701.0,1019.2 L704.0,1019.9 L707.0,1020.4 L710.0,1021.4 L713.0,1021.6 L716.0,1021.7 L719.0,1021.4 L722.0,1023.8 L725.0,1024.3 L728.0,1024.3 L731.0,1022.8 L734.0,1021.6 L737.0,1022.5 L740.0,1023.2 L743.0,1024.6 L746.0,1025.1 L749.0,1024.5 L752.0,1023.9 L755.0,1025.2 L758.0,1027.3 L761.0,1028.1 L764.0,1027.6 L767.0,1027.1 L770.0,1027.7 L773.0,1027.1 L776.0,1028.2 L779.0,1028.2 L782.0,1029.5 L785.0,1027.5 L788.0,1028.2 L791.0,1029.1 L794.0,1029.5 L797.0,1030.4 L800.0,1030.1 L803.0,1031.2 L806.0,1029.4 L809.0,1030.0 L812.0,1030.8 L815.0,1032.3 L818.0,1031.6 L821.0,1031.1 L824.0,1031.4 L827.0,1031.3 L830.0,1032.7 L833.0,1031.4 L836.0,1031.8 L839.0,1030.6 L842.0,1032.8 L845.0,1032.6 L848.0,1033.1 L851.0,1033.0 L854.0,1034.6 L857.0,1036.8 L860.0,1037.7 L863.0,1038.0 L866.0,1037.2 L869.0,1035.0 L872.0,1034.1 L875.0,1033.6 L878.0,1034.7 L881.0,1034.5 L884.0,1034.3 L887.0,1034.0 L890.0,1035.6 L893.0,1036.6 L896.0,1037.0 L899.0,1036.0 L902.0,1035.7 L905.0,1035.3 L908.0,1035.1 L911.0,1033.7 L914.0,1034.4 L917.0,1034.9 L920.0,1036.1 L923.0,1035.8 L926.0,1035.2 L929.0,1036.1 L932.0,1035.7 L935.0,1034.5 L938.0,1032.3 L941.0,1032.6 L944.0,1034.0 L947.0,1035.2 L950.0,1035.2 L953.0,1034.6 L956.0,1033.1 L959.0,1032.1 L962.0,1030.8 L965.0,1031.5 L968.0,1031.0 L971.0,1032.2 L974.0,1032.3 L977.0,1031.9 L980.0,1032.2 L983.0,1032.0 L986.0,1030.7 L989.0,1028.8 L992.0,1027.1 L995.0,1026.3 L998.0,1025.1 L1001.0,1025.9 L1004.0,1028.5 L1007.0,1029.8 L1010.0,1028.0 L1013.0,1026.2 L1016.0,1025.1 L1019.0,1023.8 L1022.0,1021.7 L1025.0,1019.4 L1028.0,1018.2 L1031.0,1017.4 L1034.0,1017.5 L1037.0,1017.4 L1040.0,1017.2 L1043.0,1016.2 L1046.0,1013.5 L1049.0,1011.4 L1052.0,1002.8 L1055.0,997.4 L1058.0,989.8 L1061.0,978.3 L1064.0,971.9 L1067.0,967.5 L1070.0,963.5 L1073.0,959.5 L1076.0,955.0 L1079.0,954.2 L1082.0,958.1 L1085.0,963.4 L1088.0,972.7 L1091.0,981.3 L1094.0,991.2 L1097.0,998.5 L1100.0,1004.8 L1103.0,1011.0 L1106.0,1016.9 L1109.0,1020.1 L1112.0,1022.9 L1115.0,1024.8 L1118.0,1027.0 L1121.0,1028.2 L1124.0,1030.4 L1127.0,1030.7 L1130.0,1030.7 L1133.0,1030.1 L1136.0,1029.7 L1139.0,1029.8 L1142.0,1032.1 L1145.0,1033.7 L1148.0,1033.8 L1151.0,1032.3 L1154.0,1031.5 L1157.0,1032.3 L1160.0,1032.4 L1163.0,1031.9 L1166.0,1033.2 L1169.0,1034.6 L1172.0,1034.6 L1175.0,1032.6 L1178.0,1031.7 L1181.0,1033.2 L1184.0,1035.0 L1187.0,1035.7 L1190.0,1034.8 L1193.0,1034.5 L1196.0,1035.1 L1199.0,1036.1 L1202.0,1035.7 L1205.0,1035.6 L1208.0,1035.6 L1211.0,1035.1 L1214.0,1034.8 L1217.0,1034.0 L1220.0,1035.3 L1223.0,1035.5 L1226.0,1035.7 L1229.0,1035.2 L1232.0,1035.7 L1235.0,1035.0 L1238.0,1034.8 L1241.0,1035.1 L1244.0,1035.5 L1247.0,1035.5 L1250.0,1033.5 L1253.0,1034.5 L1256.0,1033.1 L1259.0,1033.0 L1262.0,1032.7 L1265.0,1034.3 L1268.0,1035.3 L1271.0,1035.6 L1274.0,1036.0 L1277.0,1035.9 L1280.0,1035.8 L1283.0,1034.1 L1286.0,1033.3 L1289.0,1034.5 L1292.0,1036.4 L1295.0,1036.7 L1298.0,1034.8 L1301.0,1033.7 L1304.0,1032.6 L1307.0,1033.0 L1310.0,1030.9 L1313.0,1029.9 L1316.0,1028.8 L1319.0,1026.5 L1322.0,1025.5 L1325.0,1021.0 L1328.0,1018.8 L1331.0,1015.3 L1334.0,1013.1 L1337.0,1011.9 L1340.0,1010.0 L1343.0,1008.8 L1346.0,1006.4 L1349.0,1005.2 L1352.0,1005.3 L1355.0,1007.8 L1358.0,1008.5 L1361.0,1011.2 L1364.0,1013.4 L1367.0,1017.9 L1370.0,1022.1 L1373.0,1026.3 L1376.0,1026.7 L1379.0,1027.7 L1382.0,1027.1 L1385.0,1030.0 L1388.0,1030.8 L1391.0,1033.2 L1394.0,1034.5 L1397.0,1033.2 L1400.0,1033.8 L1403.0,1031.9 L1406.0,1031.8 L1409.0,1029.8 L1412.0,1027.8 L1415.0,1023.5 L1418.0,1020.9 L1421.0,1018.6 L1424.0,1016.7 L1427.0,1014.2 L1430.0,1015.6 L1433.0,1017.4 L1436.0,1019.1 L1439.0,1021.0 L1442.0,1023.2 L1445.0,1026.8 L1448.0,1030.8 L1451.0,1032.7 L1454.0,1033.1 L1457.0,1033.9 L1460.0,1036.3 L1463.0,1038.0 L1466.0,1038.8 L1469.0,1039.2 L1472.0,1041.1 L1475.0,1043.3 L1478.0,1043.2 L1481.0,1041.2 L1484.0,1040.1 L1487.0,1040.5 L1490.0,1042.1 L1493.0,1042.5 L1496.0,1042.6 L1499.0,1041.8 L1502.0,1039.7 L1505.0,1039.8 L1508.0,1040.0 L1511.0,1041.5 L1514.0,1040.8 L1517.0,1041.4 L1520.0,1040.3 L1523.0,1040.9 L1526.0,1040.8 L1529.0,1042.2 L1532.0,1043.3 L1535.0,1043.5 L1538.0,1042.6 L1541.0,1043.0 L1544.0,1043.4 L1547.0,1044.4 L1550.0,1043.5 L1553.0,1044.2 L1556.0,1044.5 L1559.0,1044.5 L1562.0,1044.1 L1565.0,1042.9 L1568.0,1042.0 L1571.0,1041.5 L1574.0,1042.1 L1577.0,1042.5 L1580.0,1042.8 L1583.0,1042.8 L1586.0,1042.6 L1589.0,1041.3 L1592.0,1041.9 L1595.0,1042.6 L1598.0,1043.1 L1601.0,1042.9 L1604.0,1042.9 L1607.0,1043.5 L1610.0,1042.0 L1613.0,1041.0 L1616.0,1040.6 L1619.0,1042.9 L1622.0,1043.2 L1625.0,1043.4 L1628.0,1041.6 L1631.0,1041.9 L1634.0,1042.4 L1637.0,1041.8 L1640.0,1040.3 L1643.0,1040.5 L1646.0,1042.0 L1649.0,1043.3 L1652.0,1043.3 L1655.0,1043.7 L1658.0,1042.5 L1661.0,1041.6 L1664.0,1041.4 L1667.0,1042.2 L1670.0,1041.9 L1673.0,1041.6 L1676.0,1041.6 L1679.0,1040.8 L1682.0,1039.5 L1685.0,1038.6 L1688.0,1039.6 L1691.0,1038.7 L1694.0,1040.0 L1697.0,1038.3 L1700.0,1039.2 L1703.0,1037.3 L1706.0,1038.0 L1709.0,1038.4 L1712.0,1039.9 L1715.0,1040.7 L1718.0,1039.7 L1721.0,1038.8 L1724.0,1037.9 L1727.0,1038.1 L1730.0,1037.5 L1733.0,1037.8 L1736.0,1037.4 L1739.0,1038.2 L1742.0,1037.5 L1745.0,1037.5 L1748.0,1036.6 L1751.0,1036.3 L1754.0,1035.3 L1757.0,1035.9 L1760.0,1036.4 L1763.0,1038.1 L1766.0,1037.8 L1769.0,1040.4 L1772.0,1040.1 L1775.0,1042.2 L1778.0,1041.1 L1781.0,1040.0 L1784.0,1039.4 L1787.0,1040.1 L1790.0,1040.5 L1793.0,1041.6 L1796.0,1040.5 L1799.0,1042.2 L1802.0,1042.2 L1805.0,1042.0 L1808.0,1042.9 L1811.0,1042.6 L1814.0,1043.3 L1817.0,1043.6 L1820.0,1046.3 L1823.0,1046.9 L1826.0,1046.7 L1829.0,1044.3 L1832.0,1043.5 L1835.0,1043.3 L1838.0,1044.2 L1841.0,1044.8 L1844.0,1045.1 L1847.0,1043.9 L1850.0,1045.3 L1853.0,1043.6 L1856.0,1044.0 L1859.0,1042.7 L1862.0,1043.9 L1865.0,1042.7 L1868.0,1041.5 L1871.0,1041.1 L1874.0,1041.8 L1877.0,1041.7"/>
</g>
<g fill="#e234fc">
<rect x="440" y="44" width="9" height="59"/>
<rect x="454" y="44" width="9" height="38"/>
<rect x="537" y="44" width="9" height="84"/>
<rect x="622" y="44" width="9" height="107"/>
<rect x="695" y="44" width="9" height="49"/>
<rect x="713" y="44" width="9" height="126"/>
<rect x="729" y="44" width="9" height="79"/>
<rect x="787" y="44" width="9" height="78"/>
<rect x="798" y="44" width="9" height="100"/>
<rect x="809" y="44" width="9" height="65"/>
<rect x="825" y="44" width="9" height="82"/>
<rect x="862" y="44" width="9" height="54"/>
<rect x="895" y="44" width="9" height="32"/>
<rect x="910" y="44" width="9" height="67"/>
<rect x="922" y="44" width="9" height="32"/>
<rect x="933" y="44" width="9" height="32"/>
<rect x="982" y="44" width="9" height="28"/>
<rect x="1000" y="44" width="9" height="106"/>
<rect x="1028" y="44" width="9" height="46"/>
<rect x="1045" y="44" width="9" height="70"/>
<rect x="1083" y="44" width="9" height="36"/>
<rect x="1093" y="44" width="9" height="43"/>
<rect x="1106" y="44" width="9" height="28"/>
<rect x="1171" y="44" width="9" height="36"/>
<rect x="1188" y="44" width="9" height="52"/>
<rect x="1203" y="44" width="9" height="24"/>
<rect x="1264" y="44" width="9" height="25"/>
<rect x="1284" y="44" width="9" height="36"/>
<rect x="1299" y="44" width="9" height="15"/>
<rect x="1313" y="44" width="9" height="31"/>
<rect x="1325" y="44" width="9" height="31"/>
<rect x="1337" y="44" width="9" height="80"/>
<rect x="1361" y="44" width="9" height="34"/>
<rect x="1386" y="44" width="9" height="46"/>
<rect x="1400" y="44" width="9" height="46"/>
<rect x="1409" y="44" width="9" height="81"/>
</g>
<g fill="#070808">
<rect x="563.2" y="1219" width="12" height="20"/>
<rect x="890.4" y="1219" width="12" height="20"/>
<rect x="1217.6" y="1219" width="12" height="20"/>
<rect x="1544.8" y="1219" width="12" height="20"/>
<rect x="399.6" y="1231" width="12" height="8"/>
<rect x="726.8" y="1231" width="12" height="8"/>
<rect x="1054.0" y="1231" width="12" height="8"/>
<rect x="1381.2" y="1231" width="12" height="8"/>
<rect x="1708.4" y="1231" width="12" height="8"/>
</g>
<g fill="#6236ff">
<rect x="481" y="1032.0" width="12" height="211.0"/><circle cx="487" cy="1032.0" r="6"/>
<rect x="618" y="941.0" width="12" height="302.0"/><circle cx="624" cy="941.0" r="6"/>
<rect x="1080" y="1002.0" width="12" height="241.0"/><circle cx="1086" cy="1002.0" r="6"/>
<rect x="1356" y="1122.0" width="12" height="121.0"/><circle cx="1362" cy="1122.0" r="6"/>
<rect x="1427" y="1183.0" width="12" height="60.0"/><circle cx="1433" cy="1183.0" r="6"/>
<rect x="1748" y="1212.0" width="12" height="31.0"/><circle cx="1754" cy="1212.0" r="6"/>
</g>
<rect x="699" y="992.8" width="9" height="1.4" fill="#e234fc"/>
<g stroke-linecap="round" stroke-width="11.5" fill="none">
<path d="M1483,321 H1661" stroke="#2339ff"/>
<path d="M1490,513 H1667" stroke="#00ff00"/>
<path d="M1492,760.7 H1669" stroke="#ff0a1e"/>
<path d="M1494,973 H1671" stroke="#070808"/>
</g>
<g font-family="'Liberation Serif','Times New Roman',serif" font-weight="bold" font-size="105" fill="#070808" text-anchor="middle">
<text x="242.0" y="1348.5">20</text>
<text x="569.2" y="1348.5">30</text>
<text x="896.4" y="1348.5">40</text>
<text x="1223.6" y="1348.5">50</text>
<text x="1550.8" y="1348.5">60</text>
<text x="1878.0" y="1348.5">70</text>
</g>
<text font-family="'Liberation Serif','Times New Roman',serif" font-weight="bold" font-size="137" fill="#070808" text-anchor="middle" x="1059" y="1506">2 Theta (degree)</text>
<text font-family="'Liberation Serif','Times New Roman',serif" font-weight="bold" font-size="136" fill="#070808" text-anchor="middle" transform="translate(150,640.6) rotate(-90)" x="0" y="0">Intensity (a.u.)</text>
<g font-family="'Liberation Serif','Times New Roman',serif" font-weight="bold" font-size="80" fill="#070808">
<text x="1680" y="346.8">1 mL</text>
<text x="1684.5" y="538.3">2 mL</text>
<text x="1686.5" y="786.2">3 mL</text>
<text x="1689.5" y="997.9">4 mL</text>
</g>
<text font-family="'Liberation Serif','Times New Roman',serif" font-weight="bold" font-size="69" fill="#e234fc" text-anchor="end" x="1874" y="237.3" textLength="577" lengthAdjust="spacingAndGlyphs">Ag<tspan font-size="53" dy="16.5">2</tspan><tspan dy="-16.5">S PDF# 14-0072</tspan></text>
<text font-family="'Liberation Serif','Times New Roman',serif" font-weight="bold" font-size="71" fill="#6236ff" text-anchor="end" x="1864" y="1124.7" textLength="651" lengthAdjust="spacingAndGlyphs">AgBiS<tspan font-size="57" dy="16">2</tspan><tspan dy="-16"> PDF# 21-1178</tspan></text>
<g font-family="'Liberation Serif','Times New Roman',serif" font-weight="bold" font-size="66" fill="#070808" text-anchor="middle">
<text transform="translate(478.9,596) rotate(-90)" x="0" y="0" textLength="136.7" lengthAdjust="spacingAndGlyphs">(111)</text>
<text transform="translate(607,611.5) rotate(-90)" x="0" y="0" textLength="138" lengthAdjust="spacingAndGlyphs">(200)</text>
<text transform="translate(1054.2,654.3) rotate(-90)" x="0" y="0" textLength="135" lengthAdjust="spacingAndGlyphs">(220)</text>
<text transform="translate(1370.1,704.5) rotate(-90)" x="0" y="0" textLength="136.1" lengthAdjust="spacingAndGlyphs">(311)</text>
<text transform="translate(1455,711.4) rotate(-90)" x="0" y="0" textLength="137.3" lengthAdjust="spacingAndGlyphs">(222)</text>
</g>
</svg></body></html>
